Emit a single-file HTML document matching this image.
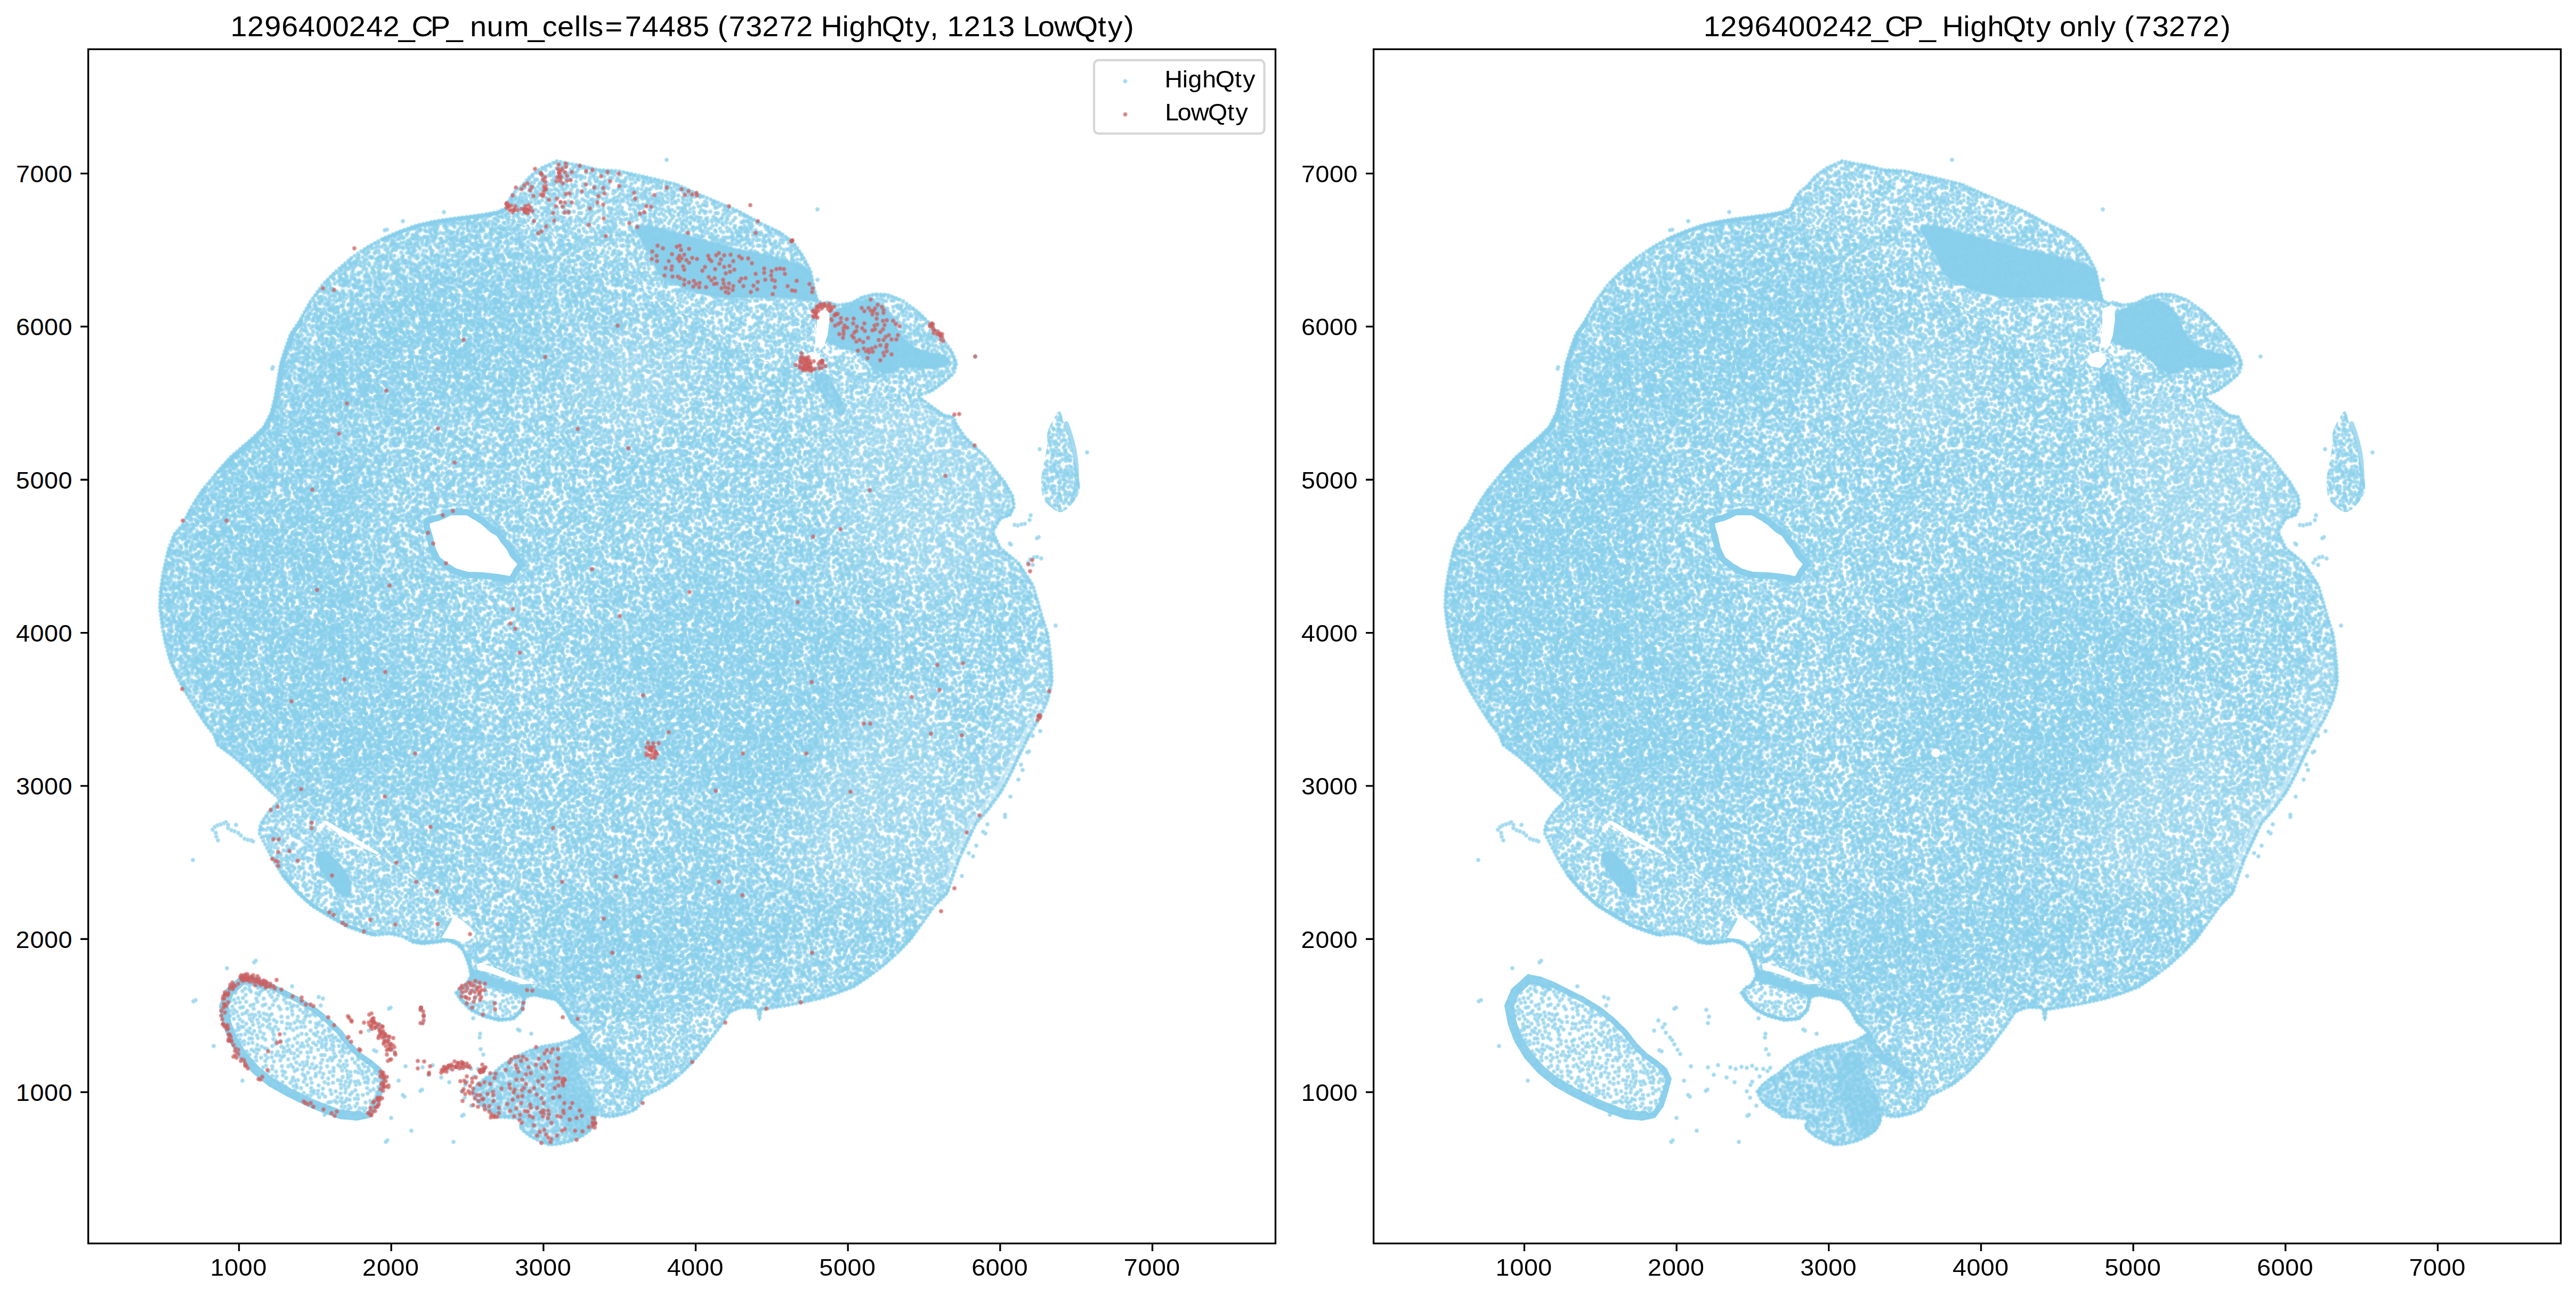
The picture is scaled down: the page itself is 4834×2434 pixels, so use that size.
<!DOCTYPE html>
<html><head><meta charset="utf-8"><title>1296400242_CP_ cells</title>
<style>html,body{margin:0;padding:0;background:#fff}svg{display:block}text{font-family:"Liberation Sans",sans-serif;fill:#000}</style></head><body>
<svg xmlns="http://www.w3.org/2000/svg" width="4834" height="2434" viewBox="0 0 4834 2434">
<defs>
<path id="pn0" d="M496 -3h0m-24 1h0m-88 0h0m-10-2h0m-25 2h0m-38-3h0m-3 1h0m-10 3h0m-99 1h0m-133-2h0m-24-2h0m-33 3h0m-11 8h0m7 10h0m7-5h0m22 2h0m6 5h0m11-3h0m0-6h0m2 3h0m17 5h0m10-14h0m4 16h0m12-8h0m4 2h0m4 1h0m4-9h0m7-3h0m18 12h0m0-14h0m6 8h0m6 5h0m31 3h0m8-4h0m13-5h0m4 4h0m19 4h0m12-4h0m1-3h0m5 11h0m2-12h0m6 1h0m20 13h0m3-16h0m3 2h0m7 9h0m24 2h0m15-1h0m19-2h0m21-11h0m3-4h0m31 11h0m0 10h0m3-1h0m1-4h0m6-11h0m11 16h0m3-4h0m7-4h0m20 5h0m10-16h0m1 13h0m15 2h0m3-6h0m1 9h0m7-11h0m5-9h0m5 15h0m20-9h0m7 10h0m-2 12h0m-25-1h0m-11 18h0m-3-1h0m-5-2h0m-6-16h0m-13 17h0m-18-3h0m-7 4h0m-3-11h0m-6-4h0m0 10h0m-11 5h0m0-3h0m-15 6h0m-17-14h0m-6 12h0m-6-6h0m0-3h0m-3 2h0m-10-13h0m-14 15h0m0-12h0m-9 0h0m-1 10h0m-1 8h0m-6-14h0m-25 6h0m-11-10h0m-2 7h0m-3 12h0m-6-4h0m-8-17h0m-10 20h0m-1-17h0m-18 8h0m-37-7h0m-16 1h0m-5 0h0m-11-5h0m-5 1h0m-6 16h0m-2-16h0m-4 13h0m-17-3h0m-32-10h0m-4 3h0m-9 0h0m-5 11h0m-19-11h0m-7 13h0m-6-7h0m-10 0h0m-6-12h0m-31 4h0m-2 32h0m5-10h0m31-2h0m3 11h0m3-2h0m1 5h0m3 6h0m1-5h0m2-11h0m7 9h0m4-6h0m5 2h0m12 9h0m7 4h0m1-2h0m7-18h0m14 2h0m1 11h0m12 0h0m31-6h0m15 12h0m3-3h0m16-8h0m18 13h0m1-7h0m17 7h0m4-16h0m2 15h0m31-15h0m5-7h0m4 6h0m15 1h0m6 10h0m3-15h0m8 12h0m13-6h0m13 15h0m10-3h0m8-19h0m14 3h0m6 8h0m2-3h0m3 14h0m25-14h0m2-5h0m1 9h0m25 4h0m0-16h0m4 3h0m4 10h0m8 9h0m12-13h0m2-5h0m0 3h0m3 10h0m12-13h0m7 4h0m5-7h0m7 8h0m1-10h0m5 4h0m7 0h0m1 8h0m3-9h0m4 1h0m0 12h0m7-4h0m3 34h0m-8-6h0m-32 0h0m-10-11h0m-2 15h0m-3-13h0m-40 0h0m-4-5h0m-9 20h0m-9 1h0m-10-15h0m-4 4h0m-15-9h0m-8 1h0m-10 14h0m-23 0h0m-13 1h0m-8-12h0m-24 12h0m-3-1h0m-6-16h0m-6-1h0m0 6h0m-27 15h0m-2-18h0m-4 3h0m-7 8h0m-3-13h0m-9 9h0m-15 8h0m-5-14h0m-10 16h0m-17-20h0m-11 3h0m-14-5h0m-3 21h0m-4-13h0m-2-2h0m-4 13h0m-1-12h0m-9 10h0m-3-13h0m-25 19h0m-26-19h0m-31 9h0m-2 6h0m-3-11h0m-6-7h0m-2 16h0m-20 6h0m-8-6h0m7 19h0m19 10h0m5-6h0m1-11h0m26 3h0m6 3h0m1-3h0m31 15h0m3-14h0m7 6h0m10-15h0m0 16h0m1-7h0m5 9h0m1-12h0m2-4h0m3-1h0m4 22h0m4-20h0m9 1h0m5 11h0m12-12h0m3 18h0m21-8h0m9 2h0m13 1h0m1-13h0m20 4h0m8 16h0m2-21h0m9-1h0m12 18h0m4-4h0m6-9h0m8 2h0m1 13h0m2-9h0m4-11h0m9 3h0m4 11h0m6-14h0m6 19h0m14-4h0m2-6h0m18 13h0m10-6h0m30 6h0m15-12h0m0-10h0m16 4h0m10 12h0m3 4h0m14-15h0m5 17h0m8-19h0m5 4h0m0-8h0m7 10h0m8 4h0m9-11h0m35 9h0m1 27h0m-12 8h0m-2-17h0m-2 17h0m-12-20h0m-4 18h0m-21-7h0m-8-3h0m-3-5h0m0-5h0m-17 5h0m0 12h0m-6 3h0m-7-14h0m-2 13h0m-1-20h0m-9 5h0m-13 14h0m-8-2h0m-23-4h0m-2 10h0m-15-18h0m-18-1h0m-1 3h0m-2 4h0m-4 12h0m-1-15h0m-1 3h0m-11-1h0m-7 13h0m-2-12h0m-12 7h0m-1-14h0m-3 17h0m-1-9h0m-8-3h0m-3 0h0m-22 0h0m-13 13h0m-9-18h0m-8-2h0m-21 13h0m-3-6h0m-2 10h0m-14-9h0m-10-1h0m-15 9h0m-27-16h0m-15 9h0m-1 11h0m-1-19h0m-2 9h0m-5 6h0m-6-14h0m-20 7h0m-1 12h0m-15-2h0m-7-16h0m-8 4h0m-12-5h0m-4 6h0m-15 14h0m-7-21h0m-7 12h0m5 30h0m8-2h0m4-2h0m1-9h0m2 6h0m14-4h0m16 5h0m4-9h0m9 6h0m8-1h0m15 4h0m1 2h0m3-12h0m3 13h0m0 6h0m9-6h0m1-6h0m2-2h0m3-5h0m4 17h0m8-18h0m76 1h0m10 8h0m8-8h0m11-4h0m13 0h0m19 18h0m0-15h0m6 9h0m10-10h0m5-2h0m5 17h0m18-11h0m12 7h0m19-8h0m5 14h0m2-10h0m2-7h0m9 3h0m5 0h0m1 3h0m7 5h0m13 6h0m6-4h0m5-16h0m23 6h0m7 17h0m4-21h0m4 17h0m13-13h0m11 10h0m3-3h0m22-5h0m0-7h0m15-1h0m7 2h0m16 23h0m-12 4h0m-19 4h0m-7 8h0m-13-9h0m-3-6h0m-5 16h0m-1-11h0m-1 4h0m-3-9h0m-3 10h0m-6-12h0m-12 11h0m-24 10h0m-10-6h0m-15-2h0m-13-3h0m-20-5h0m-11 3h0m0 8h0m-10-7h0m-7 1h0m-14 3h0m-36-6h0m-5 0h0m-7-6h0m-1 18h0m-2 4h0m-11-15h0m-10-4h0m-10 5h0m-20 9h0m0 4h0m-17-7h0m-1-7h0m-2 3h0m-20 12h0m-8-14h0m-19-9h0m-2 5h0m-10-2h0m-3-1h0m0 13h0m-8 1h0m-10-13h0m-16 6h0m-1 13h0m-11-13h0m-1 3h0m0-9h0m-11 17h0m-10-9h0m-51-10h0m-8 40h0m7-13h0m13 14h0m15-15h0m3 18h0m17-19h0m0 3h0m1 4h0m21 7h0m5-9h0m2 7h0m0 5h0m5-12h0m32-7h0m8 9h0m17 11h0m12-10h0m2-3h0m2-5h0m3 12h0m0-4h0m5 11h0m2-21h0m12 10h0m0 7h0m0 3h0m12-4h0m11-3h0m10 4h0m7-13h0m6 2h0m3-4h0m1 6h0m3 8h0m6-11h0m3 4h0m4-8h0m21 2h0m2 17h0m2 3h0m12-9h0m10 1h0m1-12h0m16 5h0m28 13h0m16-5h0m9-2h0m6 2h0m23-11h0m6-2h0m6 1h0m4-2h0m6 19h0m11-2h0m2-18h0m3 18h0m22-5h0m3 0h0m6-11h0m4 19h0m7-22h0m15 20h0m1-6h0m3 8h0m10-9h0m2 9h0m5-5h0m7-13h0m-11 22h0m-10 10h0m0-8h0m-3 10h0m-28 4h0m-2-11h0m-1-6h0m-10 6h0m-3 2h0m-3 7h0m-16-9h0m-11 0h0m-11-2h0m-1-4h0m-2 19h0m-5-4h0m-4 4h0m-24-6h0m-4-6h0m-4 3h0m-7 0h0m-7 2h0m0-10h0m-12 16h0m-13-7h0m-3-11h0m-13 3h0m-1 16h0m0-4h0m-18-11h0m-2 2h0m-31 0h0m-6 13h0m-18-9h0m-3-3h0m-5 5h0m-22 4h0m-4 4h0m-1-7h0m-2 7h0m-10-14h0m-12-5h0m-5 0h0m-1 8h0m-7-1h0m0 4h0m-14-11h0m-13 12h0m-10 8h0m-2-21h0m0 20h0m-3-5h0m-2-14h0m-14 6h0m-4 14h0m-11-15h0m-12-1h0m-34-1h0m-6 5h0m-23 6h0m-12 26h0m17-8h0m0 8h0m3 6h0m12-2h0m6-21h0m1 6h0m3 0h0m8 11h0m2-10h0m47 10h0m3-15h0m11 14h0m10-5h0m3-2h0m13 0h0m0 4h0m21-9h0m7 13h0m11-18h0m18 3h0m8 19h0m16-6h0m6-3h0m1-10h0m3 4h0m7-4h0m19 8h0m15 5h0m12-1h0m3-12h0m7 4h0m4 10h0m13 3h0m12-15h0m8 5h0m9-5h0m2-5h0m11 2h0m10 15h0m29 7h0m5-21h0m8 15h0m15-10h0m8-6h0m7 8h0m2-3h0m5 16h0m1-2h0m7-3h0m2 4h0m7-10h0m2-10h0m12-1h0m4 0h0m2 3h0m1 14h0m8-14h0m5 13h0m6 0h0m14 1h0m-6 30h0m-21-10h0m-5-2h0m-10-8h0m-5 2h0m-3 10h0m-19 4h0m-8-2h0m-11-13h0m-43-2h0m-13 3h0m-23 16h0m-7-18h0m-14 15h0m-19-14h0m-27-4h0m-27 5h0m-21-3h0m-9 10h0m-5 0h0m-3 2h0m-23 9h0m-4-22h0m-9 2h0m-2 1h0m-21-2h0m-16 0h0m-6-2h0m-2 2h0m-5-1h0m-1 3h0m-8 8h0m-5-1h0m-12 11h0m-6-3h0m-1 4h0m-3-18h0m-7 1h0m-7 2h0m-2-2h0m-5 6h0m-19 6h0m-8-16h0m-1 8h0m-26-8h0m-3 2h0m-4 8h0m-8 26h0m3-10h0m3 17h0m1-12h0m7-3h0m18 3h0m3-1h0m27 12h0m8-1h0m7 1h0m2-6h0m14 7h0m4-17h0m7 3h0m8 14h0m2-16h0m14 0h0m10 3h0m3 15h0m2-4h0m2-2h0m9 1h0m20-3h0m20-2h0m12-3h0m1 7h0m19-9h0m10 6h0m4-9h0m1 18h0m16-14h0m12 3h0m1 9h0m5-16h0m30 3h0m1 10h0m6 1h0m14-17h0m6 15h0m5-7h0m21 5h0m8 6h0m10-8h0m4-8h0m4 8h0m15 6h0m3-17h0m19-3h0m10 16h0m0-8h0m3 15h0m1-14h0m21-8h0m4 19h0m16 4h0m7-23h0m15 2h0m10 6h0m4 6h0m3-10h0m3 17h0m1-12h0m-1 15h0m-17-1h0m-7 9h0m-1 15h0m-3 0h0m-2-18h0m-15-2h0m-4 9h0m-5-5h0m-5-6h0m-3-1h0m-3 1h0m-8 10h0m-6-2h0m0-7h0m-2 16h0m-21-13h0m0 5h0m-18-3h0m-14 10h0m-4-15h0m-14 4h0m-4 17h0m-19-15h0m-10 1h0m-2 12h0m-24 1h0m-10-23h0m-5 14h0m-9-2h0m-20 11h0m-2-9h0m-5-7h0m-3 5h0m-3 8h0m-21 3h0m-16-8h0m-39 1h0m-8-8h0m-14 3h0m-5 7h0m-8-9h0m-1 4h0m-1-5h0m-16 16h0m-10-20h0m-3-2h0m-29 7h0m-12 15h0m-10-19h0m0 19h0m-5-4h0m-3-18h0m-3 10h0m-3 10h0m-1-16h0m-2-2h0m-10 18h0m-10-3h0m-4-4h0m-6-9h0m-1 7h0m-3-12h0m15 43h0m5 2h0m25-14h0m21-6h0m15 21h0m1-18h0m13-3h0m3 16h0m5-2h0m9-5h0m14-11h0m3 2h0m6 10h0m8-9h0m9 0h0m17 17h0m10-3h0m10-7h0m8 12h0m1-14h0m6 9h0m2-6h0m1-3h0m6-6h0m12 21h0m6-5h0m17-16h0m3 2h0m5 2h0m0 16h0m7-3h0m16-18h0m8 6h0m0 16h0m3 1h0m12-7h0m5 0h0m24-14h0m1 11h0m17-2h0m2-5h0m8 0h0m3-2h0m6 10h0m3-1h0m38 0h0m2 8h0m1-15h0m14-4h0m25 10h0m17 5h0m4-9h0m17 7h0m11-6h0m9 38h0m0-13h0m-3 1h0m-1-12h0m-2 6h0m-12 1h0m-16 2h0m-19 12h0m-1-12h0m-4 13h0m-23-21h0m-5 1h0m-5 19h0m-4-1h0m-6-17h0m-7 3h0m-7-4h0m-12 18h0m-10-2h0m-17-2h0m-5 4h0m-22-7h0m-1-11h0m-31 13h0m-8-4h0m-1-8h0m-9 14h0m-4-12h0m-10-2h0m-3 17h0m-7-9h0m-6-3h0m-5 13h0m-6 0h0m-3-2h0m-1-5h0m-13-1h0m-7-2h0m-5-4h0m-13 4h0m-6 3h0m0-8h0m-1 11h0m-23-15h0m-6 9h0m-3-6h0m-4-3h0m-18 20h0m0-15h0m-3 8h0m-3-9h0m-16-4h0m-2 13h0m-15-4h0m-1 11h0m-3-14h0m-3 13h0m-8-1h0m-7 3h0m-21-6h0m-1-7h0m-3 13h0m-16-18h0m-16 12h0m-13-6h0m-6 13h0m0-13h0m-3 1h0m-1-12h0m-2 6h0m24 20h0m4 7h0m20 10h0m9-1h0m6 5h0m33-17h0m1 4h0m15-8h0m3 16h0m22 1h0m4-13h0m1-5h0m9 1h0m11 20h0m1-16h0m20 9h0m3-4h0m4-9h0m3 14h0m6 2h0m5-12h0m4 6h0m1 2h0m18-7h0m3 8h0m4-7h0m2-4h0m7 13h0m2-7h0m6-7h0m2 8h0m28 1h0m17 4h0m36 1h0m3-6h0m0 6h0m6-11h0m1 8h0m9-4h0m28 14h0m6-24h0m11 10h0m9 13h0m1-10h0m16-6h0m0 7h0m5-13h0m2 9h0m27 6h0m10 2h0m8-4h0m10 4h0m1-6h0m4 8h0m20-4h0m-6 19h0m-5 9h0m-8-15h0m-25 16h0m-1-3h0m-7 5h0m-4-11h0m-9 9h0m-1-3h0m-2 4h0m-15-15h0m-5 5h0m-3-2h0m-3-2h0m-6 0h0m-15 11h0m-7-18h0m-16 9h0m-3 9h0m-18-8h0m-6 7h0m-21-11h0m-12 15h0m-2-5h0m-6-9h0m-6 2h0m-2 5h0m-6 2h0m-8-4h0m0 9h0m-6-15h0m-23 11h0m-4-13h0m-1 19h0m-2-4h0m-35 1h0m-25-6h0m-2-3h0m-4 12h0m-10-12h0m-3 1h0m-2-9h0m-9 1h0m-1 18h0m-2-22h0m-16 2h0m-5 18h0m-6-4h0m-8-7h0m-5-8h0m-17 8h0m-9 11h0m-5-7h0m0 5h0m-13-7h0m-3 7h0m-6 1h0m-18 3h0m-9-21h0m-10 19h0m-11-5h0m-7 24h0m1-12h0m3 17h0m5 1h0m7-19h0m18 8h0m8 5h0m2-6h0m1 12h0m3-11h0m1-10h0m7 11h0m6-3h0m2 12h0m5-18h0m0 6h0m5-7h0m1 17h0m1-13h0m13-2h0m15-2h0m7 13h0m6 2h0m15 3h0m14-10h0m4 10h0m6 1h0m1-6h0m19 4h0m5-15h0m0 16h0m8-3h0m1-3h0m16-2h0m9 7h0m8 3h0m13-20h0m6 12h0m15 7h0m8-4h0m6-6h0m0 13h0m17-10h0m3 5h0m2 4h0m4-4h0m0-6h0m18 3h0m2 7h0m15-7h0m2-9h0m1 6h0m4 3h0m29-14h0m0 18h0m1-12h0m4 2h0m6 6h0m3-12h0m3 4h0m3 11h0m1-17h0m10 7h0m7 14h0m2-11h0m0-7h0m10 11h0m6-11h0m3 8h0m21 1h0m7 2h0m13 2h0m17-16h0m8 13h0m3-14h0m8 19h0m8-4h0m1-12h0m3 17h0m-8 11h0m-3 6h0m-4-7h0m-7 13h0m-5-14h0m-15 10h0m-8-15h0m-28 19h0m-3-6h0m-17-6h0m-3 14h0m-9-10h0m-29 8h0m-28-2h0m-11-7h0m-1 13h0m-2-21h0m-20 14h0m-17 5h0m-11-7h0m-4 8h0m-1-8h0m-2 8h0m-26-10h0m-3 5h0m-16-15h0m-9-2h0m-6 20h0m-4-2h0m-19-19h0m-39 9h0m-17 9h0m-4-13h0m-3 6h0m-3 6h0m-5 0h0m-5-8h0m-6-1h0m-14 8h0m-5 0h0m-2-13h0m-13 21h0m-4-7h0m-2-15h0m-3 22h0m-6-14h0m-12-7h0m-6 18h0m-4-11h0m-2-7h0m-2 15h0m-9 4h0m-1-17h0m-11 9h0m-3 9h0m-20-15h0m-2 38h0m4-8h0m1 3h0m5-8h0m6-2h0m2-4h0m9-1h0m16 21h0m4-11h0m12-1h0m2 6h0m3-16h0m25 17h0m9 4h0m2-15h0m17 10h0m16-13h0m9 17h0m2-15h0m7-3h0m7 8h0m3 7h0m1-9h0m1-3h0m46-5h0m6 21h0m2 1h0m1-20h0m3 8h0m5-5h0m7-6h0m5 11h0m15 1h0m11 2h0m13-10h0m11 8h0m4-11h0m5 21h0m4-13h0m3 5h0m13-11h0m5-2h0m3 13h0m3-7h0m2 16h0m3-12h0m16-10h0m37 6h0m13 0h0m13 5h0m3 7h0m13-6h0m30-7h0m34-4h0m14 0h0m6 20h0m4-8h0m1 3h0m5-8h0m-21 20h0m-11 4h0m-13-3h0m-4-5h0m-15 10h0m-69-5h0m-10-2h0m-13 5h0m-12-3h0m-16-4h0m-22 1h0m-3 1h0m-10 3h0m-75-6h0m-24 7h0m-66 1h0m-18 2h0m-34-10h0m-1 11h0m-14-6h0m-24-2h0m-3-2h0m-30 5h0"/>
<path id="pn1" d="M495 0h0m-15-1h0m-105-1h0m-27-2h0m-46 1h0m-27 3h0m-14-4h0m-95 3h0m-16-4h0m-28 5h0m-96 0h0m-17 14h0m3 8h0m1-20h0m1 13h0m4-5h0m4 5h0m6-7h0m1 3h0m3 1h0m11 10h0m5-13h0m13 7h0m8-13h0m13 13h0m0-8h0m45 3h0m8 3h0m7 4h0m14 0h0m0-3h0m5-12h0m10 13h0m21 3h0m14-16h0m2-2h0m2 1h0m6 1h0m18 12h0m11-3h0m14 0h0m24 10h0m4 1h0m21-8h0m2-3h0m1-11h0m4 1h0m0 11h0m3-5h0m6-7h0m14 0h0m13 13h0m7-4h0m2 8h0m5 0h0m5 1h0m2-4h0m17 3h0m19-17h0m15 22h0m3-17h0m1 6h0m24 4h0m2 5h0m5-3h0m2-1h0m0-8h0m2-4h0m9-3h0m0 3h0m6 8h0m4-8h0m1 14h0m16-15h0m14 23h0m-2 9h0m-3 1h0m-9-12h0m-19 13h0m-9 9h0m-15-12h0m-2-6h0m-3 9h0m-12 10h0m-20-11h0m-11-3h0m-17-6h0m-9 12h0m-24-12h0m-10-3h0m-6 5h0m0 16h0m-21-4h0m-3 1h0m-7 1h0m-12-18h0m-13 4h0m-16 15h0m-4-1h0m-18-19h0m-8 9h0m-14 2h0m-4 7h0m-12-14h0m-7 0h0m-2 12h0m-4-5h0m-1-10h0m-1 19h0m-3-14h0m-11 0h0m-16 11h0m-44-4h0m-7 5h0m-6-11h0m-3 4h0m-36 8h0m-2-14h0m-7-2h0m-11 5h0m-4 0h0m-32-1h0m-5-3h0m-2-3h0m-5 1h0m-2 9h0m-3 1h0m8 27h0m5-10h0m4-3h0m3 2h0m40 3h0m2 3h0m20-6h0m25 8h0m7 7h0m4 1h0m13-18h0m7 4h0m0 15h0m14-17h0m6-1h0m4 1h0m8 1h0m18 15h0m14 0h0m14-5h0m1 7h0m10-22h0m4 13h0m3-2h0m3 9h0m2-3h0m4-9h0m9-3h0m12 7h0m0 9h0m3-18h0m20 13h0m8-5h0m13 12h0m2-16h0m11 13h0m7-19h0m5 20h0m25-1h0m1-6h0m13 1h0m5-5h0m11 7h0m13 3h0m1-18h0m18 12h0m1-4h0m1-3h0m5-3h0m11 2h0m3-1h0m79 10h0m-4 10h0m-39 19h0m-1-15h0m-19 11h0m-3-11h0m-4 16h0m-2-2h0m-18-11h0m-12-5h0m-16 13h0m-44 0h0m-11-1h0m-1-13h0m-7 5h0m-3 10h0m-12-8h0m-8 1h0m0 9h0m-4 0h0m-15-13h0m-1 15h0m-3-7h0m-4 0h0m-8 7h0m-12-3h0m-2-9h0m0-9h0m-7 20h0m-11-15h0m-19 17h0m-11-2h0m-2-7h0m-8 2h0m-5-15h0m-32 14h0m-8-1h0m-1 9h0m-11-21h0m-11 20h0m-7-10h0m0 7h0m-1-4h0m-13 7h0m-5-9h0m-3 5h0m0-9h0m-8 5h0m-16-4h0m-15 4h0m-1-3h0m-5 1h0m-15 8h0m-35-5h0m0 4h0m-1 5h0m-12-22h0m2 29h0m2 9h0m0-14h0m5 4h0m0 7h0m37-13h0m22 20h0m15-18h0m3 7h0m24 10h0m21-13h0m6 7h0m1-8h0m5 7h0m16-3h0m1-4h0m5 19h0m3-13h0m11 0h0m9 7h0m13-13h0m12 12h0m2 6h0m14-2h0m12-20h0m12 10h0m2 4h0m10 7h0m20-8h0m4-7h0m11 12h0m1 3h0m13 1h0m12-16h0m3 8h0m2 5h0m1 4h0m1-6h0m2 2h0m10-16h0m1 4h0m3 11h0m10 3h0m3-13h0m1 4h0m21-4h0m9-8h0m5 22h0m22-16h0m3-1h0m10-2h0m39 3h0m7-1h0m1 3h0m6-2h0m3 2h0m5-8h0m20 6h0m2 9h0m0-14h0m-1 40h0m-22-6h0m-14-5h0m-5-5h0m-26 3h0m-6 2h0m-9 11h0m-2-15h0m-1 21h0m-1-11h0m-4-1h0m-20-4h0m-19 9h0m-6 4h0m-7-19h0m-2 11h0m-18-5h0m-2 2h0m-6 9h0m-4-9h0m-1 11h0m-4-7h0m-5 8h0m-5-9h0m-23-6h0m-20 7h0m-21-2h0m-5-7h0m-9 6h0m-7-8h0m-16 8h0m-6 5h0m-3-9h0m-2 16h0m-39-21h0m-6 14h0m-5-7h0m0 8h0m-7 7h0m-8-12h0m-13 11h0m-4-9h0m-14-7h0m-10 17h0m-5-8h0m-2-7h0m-7 5h0m0-5h0m-6 13h0m-21 1h0m-16-12h0m-1-11h0m0 20h0m-4-9h0m-1 13h0m-6-10h0m-3-9h0m-1 14h0m-6-15h0m-14 0h0m-12 14h0m-3 25h0m14-6h0m18 7h0m10 1h0m2-13h0m6 14h0m10-7h0m5 4h0m5-14h0m10 13h0m12-15h0m4 0h0m16 14h0m16-9h0m2 8h0m4-14h0m0 5h0m26 4h0m3 4h0m2-4h0m0 11h0m6 1h0m6-12h0m1 12h0m5-10h0m7-1h0m8 0h0m4-2h0m62-4h0m10 8h0m5 4h0m2-1h0m19-2h0m8 4h0m11-16h0m3 8h0m12 4h0m6 3h0m4-4h0m8 1h0m5-13h0m8 18h0m8 0h0m3-9h0m10-8h0m9 11h0m1 5h0m1 5h0m5-3h0m6-1h0m12-11h0m10 8h0m9-3h0m8-3h0m15 1h0m6 9h0m5 0h0m13-15h0m12-2h0m14 15h0m4 9h0m-8 19h0m-12-10h0m-19 7h0m-30-20h0m-10 14h0m-11-2h0m-2-5h0m-3 3h0m-3-4h0m-11-2h0m-7 4h0m-3 15h0m-2 0h0m-9-10h0m-2 9h0m-19-18h0m-8 9h0m-3 2h0m-1 6h0m-7 2h0m-7-19h0m-8 10h0m-1-3h0m-1-9h0m-1 15h0m-7-16h0m-16 17h0m-16 0h0m-7-7h0m-3-1h0m-3 1h0m-7 4h0m-14-14h0m-3 8h0m-23 7h0m-7-16h0m-8 11h0m-4-8h0m-17 2h0m-1 12h0m-1-10h0m-15 7h0m-8 7h0m-5-20h0m-5 1h0m0 14h0m-5-12h0m-5 18h0m-1-20h0m0 11h0m-14-8h0m-7 18h0m-17-16h0m-9 11h0m-2-5h0m-2 3h0m-2-5h0m-21-8h0m0-2h0m-17 18h0m-15-13h0m-7 18h0m-1-16h0m-8 8h0m0 8h0m-4-16h0m-2-3h0m-6 18h0m-1-16h0m-8-3h0m-5 31h0m2 4h0m1-4h0m6-4h0m7 14h0m14-16h0m13 1h0m0 16h0m3-1h0m8 0h0m6-6h0m3-8h0m18-6h0m3 9h0m2 6h0m3-14h0m4 3h0m16-3h0m0 8h0m5-10h0m2 5h0m4 5h0m5 13h0m2-8h0m13 0h0m34-12h0m1 15h0m10-9h0m2 11h0m11-7h0m1 6h0m6-19h0m6 16h0m8 6h0m6-9h0m0 2h0m8 7h0m9-7h0m6 2h0m4 6h0m0-3h0m3 2h0m40 0h0m6-18h0m6-4h0m0 23h0m6-3h0m21-17h0m18 13h0m17 7h0m9-14h0m2-4h0m10 18h0m3-9h0m12 8h0m0-16h0m9-2h0m2 4h0m3 3h0m5 6h0m4-11h0m12 4h0m2 3h0m14-6h0m13-2h0m33 15h0m10-9h0m2 4h0m1-4h0m-25 17h0m0 17h0m-8-2h0m-9-1h0m-5-12h0m-5 4h0m-15 3h0m-10 5h0m-2-4h0m-1 4h0m-26-2h0m-25 3h0m-8 0h0m-3-15h0m0 19h0m-18-1h0m-8-9h0m-18-13h0m-8 14h0m-15-8h0m-26 4h0m-18-1h0m-17-6h0m-9 8h0m-5 4h0m-1-13h0m-24-1h0m-16 23h0m-5 0h0m-7-11h0m-10 1h0m-14 4h0m-10-11h0m0 3h0m-3 13h0m-3-11h0m-30 9h0m-6-10h0m-11 3h0m-6-6h0m-1 5h0m-4-4h0m-2 6h0m-6 6h0m0-18h0m-11-1h0m-8 3h0m-3 18h0m-10-9h0m-7-2h0m-2-10h0m0 14h0m-16-4h0m0-9h0m-16 33h0m17-11h0m7 13h0m16 8h0m9 0h0m3-7h0m1-4h0m18 3h0m2-3h0m5-6h0m33-3h0m3 6h0m3-2h0m5 5h0m2-1h0m2 7h0m4-13h0m8 13h0m5-8h0m1 11h0m6 4h0m11-16h0m9 7h0m1-12h0m1 6h0m5 2h0m6-4h0m8 8h0m1 7h0m33-7h0m2 8h0m7-3h0m4-13h0m5 4h0m37 9h0m1-12h0m2 11h0m1-6h0m3-5h0m0 14h0m1-13h0m10-2h0m6-1h0m7 3h0m3 13h0m6-1h0m1-6h0m28-13h0m7 10h0m5 12h0m1-12h0m13 9h0m4-9h0m4 8h0m0-12h0m1 8h0m1-14h0m7 5h0m2-7h0m9 20h0m5-5h0m2-6h0m7 8h0m2-12h0m15 1h0m42 1h0m5 5h0m22 2h0m9-2h0m6 29h0m-12-6h0m-8 9h0m-22 1h0m-14 2h0m-7-4h0m-40 3h0m-5-21h0m-13 13h0m-8-2h0m0-4h0m-1-7h0m-1 20h0m-16-8h0m-23-12h0m-11 22h0m-6-15h0m-2-8h0m-10 6h0m-12 14h0m-3-12h0m-2 11h0m-8-18h0m-23 18h0m-3-13h0m-13 9h0m-5-7h0m-5 1h0m-5-1h0m-6 8h0m-15 5h0m-3-20h0m-1 5h0m-12 14h0m-4-10h0m-5 1h0m-3-10h0m-19 20h0m-6 1h0m-9-6h0m-18-3h0m-22 3h0m-15-8h0m-4-3h0m-1 13h0m-9-11h0m-13 10h0m-29-1h0m-4 8h0m-5-2h0m-24-10h0m-1 8h0m-6-3h0m12 8h0m24 11h0m5 10h0m5-16h0m0 3h0m19-7h0m0 10h0m4-11h0m6 16h0m4-6h0m13 4h0m6-2h0m16-1h0m0 9h0m19 2h0m14-9h0m2-12h0m2 10h0m5-2h0m2 7h0m13-10h0m13 2h0m15 10h0m25 4h0m4-13h0m1-4h0m6 4h0m5 2h0m1 6h0m13-15h0m17 19h0m7-5h0m0-6h0m18 3h0m14 1h0m3-14h0m2 4h0m27 15h0m5 4h0m13-17h0m33-5h0m8 4h0m17 3h0m12 4h0m3-4h0m42 9h0m4 5h0m2-18h0m3 2h0m19 8h0m-2 32h0m-3-13h0m-4 2h0m-1 11h0m-19-19h0m-12 16h0m-7 3h0m-8-10h0m-7-4h0m-7 8h0m-1 6h0m-6-6h0m-9-8h0m-34 5h0m-3-4h0m-5-2h0m-2 5h0m-12-1h0m-1-11h0m-6 13h0m-16-13h0m-11 16h0m-5-6h0m-4-7h0m0 16h0m-8-11h0m-3 2h0m-7 13h0m-19-16h0m-4-7h0m-6 12h0m-17-8h0m-5 15h0m-9 3h0m-17-12h0m-5 1h0m-5 10h0m-14-13h0m-3 9h0m-4-4h0m-5 6h0m-1 3h0m-5-11h0m-26-9h0m-17 17h0m-17-19h0m-6-1h0m-3 17h0m-4 4h0m-23 2h0m-4-18h0m-9 7h0m-20 0h0m-7-4h0m-7-5h0m-7 5h0m-17 2h0m-1-6h0m-21 28h0m3-7h0m8 21h0m0-4h0m1-9h0m6 14h0m59 0h0m3-19h0m3 17h0m2-11h0m12 13h0m1-2h0m0-11h0m2-7h0m13 17h0m8-16h0m3-1h0m0 12h0m7-9h0m2 13h0m2-4h0m29 0h0m3 5h0m7-11h0m3-9h0m4 2h0m2 13h0m10-10h0m4 8h0m12 10h0m7-9h0m9-5h0m2-7h0m5 7h0m11 0h0m15 14h0m1-17h0m3 1h0m13 6h0m9-5h0m3-4h0m15 0h0m7 10h0m8-10h0m2 4h0m6 12h0m19-10h0m5 4h0m4 6h0m1-5h0m2-1h0m17-7h0m13 9h0m0-7h0m5-7h0m18 20h0m2-2h0m35-20h0m6 8h0m7 16h0m2-19h0m3-4h0m17 1h0m3 9h0m8-9h0m3 11h0m9 4h0m8-9h0m3-7h0m6 40h0m-2 2h0m-6 0h0m-12 4h0m-6-7h0m-2 6h0m-8 0h0m-11-15h0m-3 7h0m-9 2h0m-21 6h0m-6-8h0m-3-9h0m-3-1h0m-3 11h0m-15 0h0m-14-12h0m-13 12h0m-3-13h0m-3 2h0m-8-1h0m-4 1h0m-12-2h0m-32 0h0m-6 2h0m-1 16h0m0-5h0m-6 5h0m-12-13h0m-10 0h0m-1 13h0m-1-9h0m-4 11h0m-23-7h0m-11-14h0m-10 10h0m0-8h0m-14 19h0m-18-17h0m-4 10h0m-17-8h0m-1 9h0m-10-11h0m-2 2h0m-14-1h0m-2 6h0m-2 7h0m-1-2h0m-10-4h0m-8-6h0m-30 13h0m-3-6h0m-11 0h0m-12-13h0m-4 1h0m-4 11h0m-2 10h0m-4-11h0m-6 8h0m-15 0h0m-21 0h0m-13-3h0m-2 2h0m-6 0h0m4 21h0m5-8h0m1-7h0m12 12h0m0 3h0m9 6h0m0-14h0m5-3h0m6 17h0m13-17h0m20 14h0m8 0h0m20-10h0m1 3h0m6-1h0m4-9h0m1 6h0m11-1h0m7-4h0m15 15h0m8-13h0m3-2h0m6 18h0m3 0h0m16-5h0m3 8h0m3-12h0m9 1h0m1-13h0m25 19h0m5-14h0m7 6h0m3-5h0m36 11h0m14 3h0m6-16h0m27 14h0m32 2h0m4 2h0m0-21h0m4 16h0m5-6h0m6 10h0m7-6h0m5 7h0m20-16h0m4 13h0m8-10h0m0 7h0m4-5h0m14-8h0m1 6h0m21-2h0m0 16h0m16-15h0m6 2h0m2 8h0m17 0h0m17-2h0m5-8h0m-1 40h0m-15 0h0m-15-13h0m-12-10h0m-3 14h0m-4-3h0m-40 4h0m-18 8h0m-5-11h0m-6-3h0m-8 5h0m-5-3h0m-3 3h0m-18-3h0m-5-1h0m-2 2h0m-18 1h0m-15-8h0m-4-2h0m-3-1h0m0 8h0m-6 1h0m-4 1h0m-7-9h0m-2 2h0m-33 15h0m-3 0h0m-5 2h0m0-8h0m-1-3h0m-27 0h0m-6-5h0m-11 8h0m-10-13h0m-5 4h0m-9-1h0m-10 19h0m-15-5h0m-6-5h0m-15-10h0m-7 7h0m-20-4h0m-12 17h0m-1-24h0m-15 1h0m-2 22h0m-6-22h0m-11 17h0m-1-8h0m-5-9h0m-4 21h0m-5-22h0m-7 14h0m-3 9h0m-20-16h0m-2-6h0m-4-1h0m-4 22h0m-9 2h0m-5 15h0m7-1h0m3 0h0m2-13h0m15 17h0m8-17h0m3 8h0m1 3h0m2-6h0m15 8h0m1 8h0m3-20h0m31 13h0m7-13h0m0 17h0m4 3h0m12 1h0m3-18h0m19 3h0m11-2h0m20 18h0m2-19h0m16 3h0m0-4h0m2-2h0m21 0h0m4 18h0m12-3h0m14-6h0m23 4h0m2-6h0m9-6h0m18 19h0m1-3h0m9-9h0m7 4h0m2-6h0m6 8h0m16-2h0m9-10h0m3 7h0m4-7h0m9 15h0m10-5h0m1-4h0m16 4h0m13-13h0m12 6h0m2 9h0m13-10h0m3 6h0m0 9h0m4-16h0m3-5h0m7 19h0m18-10h0m5 0h0m2 7h0m1 5h0m2-16h0m1-4h0m0 10h0m6 2h0m17 5h0m13-5h0m7 2h0m-1 22h0m-3-12h0m-14 8h0m-21-6h0m-4 5h0m-2 15h0m-2-22h0m-7 0h0m-10-1h0m-4 16h0m-2-10h0m-19-2h0m-12 6h0m-2-5h0m-8 14h0m-1-6h0m-6-6h0m0-4h0m-8 14h0m-1-13h0m-23 11h0m-34 5h0m-19 2h0m-10-4h0m-2-7h0m-29 3h0m-17-9h0m0 3h0m-5 2h0m-4 8h0m-4-10h0m-6 5h0m-3 0h0m-3-9h0m-11 11h0m-3-3h0m-4 11h0m-23-17h0m-14 9h0m-7-6h0m-2-7h0m-13 7h0m-4 13h0m0-20h0m-1 3h0m-4 11h0m-13-9h0m-34-2h0m-3 12h0m-4-4h0m-4-5h0m-4-1h0m-16-5h0m-2 13h0m-13-8h0m-1 6h0m-22-4h0m-9-6h0m-16 10h0m4 21h0m5-5h0m0 15h0m12-9h0m24-9h0m1 4h0m18-4h0m11 15h0m3 5h0m6 0h0m3-16h0m8 12h0m31-10h0m3 6h0m1-4h0m11 14h0m4-10h0m5 6h0m8-8h0m5-12h0m24 4h0m1 19h0m7-9h0m8-12h0m1 16h0m4-12h0m9 12h0m28-15h0m4 7h0m8 4h0m1-4h0m4 11h0m0-4h0m4-1h0m2 8h0m0-24h0m8 20h0m1 3h0m1-10h0m7 2h0m3-12h0m3 2h0m0 17h0m36-3h0m15-8h0m6 2h0m6 10h0m16-13h0m2 11h0m7-13h0m2 8h0m2 4h0m3-3h0m12-8h0m3 12h0m8-2h0m12-17h0m1 9h0m12-8h0m11-1h0m9 16h0m5-15h0m27 4h0m3 1h0m4 14h0m1-18h0m6 1h0m2 6h0m2-6h0m12 5h0m-16 26h0m-3-4h0m-15-1h0m-5-6h0m-4 12h0m0-12h0m0 9h0m-9 3h0m-9-12h0m-25-1h0m-20 9h0m-28-6h0m-5 3h0m-27-2h0m-10 5h0m-14 0h0m-9 1h0m-4-1h0m-9-4h0m-27 3h0m-14-4h0m-25-3h0m-20 10h0m-6-1h0m-2-1h0m-2 2h0m-40-4h0m-5 4h0m-11-8h0m-8-2h0m-13 1h0m-7 6h0m-53 3h0m-37-10h0m-6 7h0m-13 2h0"/>
<path id="pn2" d="M503 0h0m-44-2h0m-11 0h0m-41 0h0m-38-1h0m-10-1h0m-89-1h0m-11 3h0m-24 0h0m-5 2h0m-42-5h0m-27 5h0m-25-4h0m-23 2h0m-31 0h0m-28 1h0m-21 0h0m-34 20h0m8-14h0m2 12h0m20-3h0m8-9h0m6 12h0m2 2h0m18 4h0m14-14h0m4 12h0m20 2h0m7-21h0m7 10h0m7 4h0m3-9h0m1 15h0m7-10h0m2 11h0m13-14h0m0-4h0m1-5h0m4 12h0m10 5h0m18-9h0m3 10h0m2-18h0m3 3h0m1 4h0m3 14h0m10-15h0m2 5h0m3-1h0m29 7h0m1-13h0m2 7h0m7 5h0m2-4h0m2 10h0m3 2h0m6-2h0m6-18h0m5 18h0m2 2h0m2-3h0m1-18h0m1 10h0m5-1h0m6-2h0m8-9h0m11 4h0m1-5h0m13 23h0m9-12h0m2 7h0m17-7h0m1-10h0m8 1h0m7 5h0m14 16h0m8-15h0m19 8h0m14-11h0m1 3h0m1 3h0m11 1h0m47-9h0m1 12h0m3-6h0m11-3h0m1 10h0m15 3h0m-6 27h0m0-5h0m-2 3h0m-9 0h0m-3-3h0m-11-15h0m-6 21h0m-10-8h0m-3-1h0m-2 4h0m-12 3h0m-23-7h0m-5-13h0m-9 11h0m-24 12h0m-5-13h0m-3 1h0m-3 11h0m-11-14h0m-6-9h0m-6 1h0m-19 3h0m0 15h0m-15-6h0m-3-5h0m-3 3h0m-9-10h0m-17 1h0m-10-2h0m-1 13h0m-15 0h0m-2-9h0m0-4h0m-6 12h0m-6 1h0m-2 4h0m-1-5h0m-18 2h0m-20-13h0m-20 14h0m-15-5h0m0-4h0m-6 5h0m-6 5h0m-4-16h0m-4 24h0m-38-14h0m-15 13h0m-5-2h0m-6-11h0m-6-2h0m-1-3h0m-3 9h0m-6 2h0m-8 3h0m-8-1h0m-14-8h0m0 11h0m-22-18h0m-9 12h0m-5 15h0m11 16h0m4-21h0m22 3h0m1 10h0m1-14h0m3 10h0m9-5h0m5 17h0m10-5h0m3 5h0m8-7h0m1 3h0m4-18h0m1 7h0m10 13h0m6-11h0m2 11h0m9-17h0m0 14h0m4-11h0m26 5h0m3 0h0m9 10h0m33-4h0m13-2h0m6-7h0m23-3h0m8 12h0m11-14h0m18 7h0m2 5h0m5-3h0m3-1h0m13 7h0m6 0h0m1-11h0m3-6h0m3 16h0m8-15h0m24 11h0m11 5h0m13-15h0m4 19h0m23-11h0m16 0h0m2 7h0m0-12h0m2 4h0m1 2h0m7 9h0m2-3h0m19-8h0m27 5h0m18-6h0m35-3h0m-6 36h0m-1-13h0m-12 9h0m-6-11h0m-7 12h0m-14 4h0m-6-10h0m0 3h0m-9-9h0m-9 13h0m-3-8h0m-20-7h0m-23 20h0m-8 2h0m-4-20h0m-1 18h0m-5-4h0m-3-7h0m-1-4h0m-21 15h0m-12-6h0m-13-11h0m-6 6h0m-1-7h0m-8-1h0m-14 9h0m-1 7h0m-19 4h0m-31-8h0m-10 4h0m-9-17h0m-28 1h0m-7 9h0m-7-4h0m-2 9h0m-1-10h0m-7 17h0m-9-18h0m-4 16h0m-2-20h0m-3 13h0m-1 10h0m-3-8h0m-3-11h0m-5 15h0m-9-16h0m-4-2h0m-3 13h0m-12-4h0m-13 10h0m-3 1h0m-15-18h0m-3 10h0m-6 1h0m-1 5h0m-4-14h0m-2 9h0m-14 3h0m-2 5h0m-5-14h0m-4 1h0m-2-3h0m-3-6h0m0 15h0m-1-4h0m-6-9h0m-24 16h0m0-13h0m-17 12h0m-1-13h0m8 42h0m22-13h0m3 13h0m4-16h0m5 4h0m12-9h0m9 0h0m8 0h0m6 19h0m2-7h0m9 7h0m8-15h0m12 12h0m2-11h0m5 5h0m10 8h0m6-5h0m4-5h0m1 6h0m5 2h0m4-10h0m3-5h0m11 13h0m17 4h0m4 2h0m9-14h0m2-3h0m3-2h0m0 9h0m13 9h0m12-1h0m16-7h0m8-8h0m37 1h0m18 14h0m7-11h0m12 1h0m2-4h0m3 3h0m6-6h0m14-2h0m2 13h0m6 9h0m13-4h0m5 2h0m2-13h0m7 3h0m8 12h0m1-6h0m8-13h0m17 16h0m10 2h0m0-10h0m24-2h0m32-6h0m13 16h0m15-11h0m15 14h0m-12 12h0m-21 5h0m-4 3h0m-2 2h0m-3 1h0m-4-1h0m-3-12h0m0 12h0m-2 3h0m-4-5h0m-2-8h0m-1 3h0m0 6h0m-26-20h0m-6 23h0m-23-13h0m-15-7h0m-3 9h0m-6-3h0m-25-1h0m-10 5h0m-19 3h0m-8-15h0m-5 19h0m-6 4h0m-10-20h0m-2-3h0m-17 3h0m-16 2h0m-4 11h0m-3-16h0m-13 18h0m-9-12h0m-6 8h0m-12 0h0m-4-3h0m-3-11h0m-2 17h0m-12-3h0m-2-13h0m-15 12h0m-7-14h0m-15 21h0m-8-16h0m-12-3h0m-11 16h0m-4 4h0m-7-3h0m-4-1h0m-7-11h0m-1 5h0m-4 1h0m-3-9h0m-7 2h0m-12 14h0m-8-12h0m-1 4h0m-4-5h0m0-3h0m-15 11h0m-1 6h0m-6 0h0m-23-7h0m-4-6h0m-17 20h0m5 17h0m12-17h0m2 11h0m43-14h0m2 19h0m2-10h0m1 2h0m11 4h0m10-11h0m3 18h0m3-4h0m5-10h0m4 4h0m18-6h0m0-3h0m2 11h0m2-5h0m1 3h0m18 2h0m5 0h0m1 7h0m12-4h0m0-13h0m11-4h0m0 17h0m5-2h0m12-12h0m12-4h0m3 23h0m0-16h0m1 13h0m4-8h0m5-5h0m15 2h0m3-2h0m9-3h0m10-1h0m8 20h0m6-10h0m8 10h0m8-8h0m45 2h0m18-14h0m9-2h0m1 10h0m19-3h0m8 15h0m9-14h0m5-5h0m15 10h0m45-7h0m13-3h0m14 19h0m19-23h0m2 7h0m4 17h0m4-20h0m5 17h0m-14 8h0m-5-2h0m-7 1h0m-23 1h0m-4 2h0m-1-7h0m-11 18h0m-2-5h0m-1-3h0m-1 6h0m-31-6h0m-17-7h0m-2 14h0m-7 6h0m-13-9h0m-13-11h0m-2 8h0m-8 13h0m-7-22h0m-1 18h0m-3-9h0m-17 10h0m-4-16h0m-7 12h0m-5-13h0m-29-2h0m-9 17h0m-6 0h0m-7-10h0m-12 15h0m-3-11h0m-3-2h0m-7-1h0m-1-6h0m-15 5h0m-14-2h0m-8 11h0m-11-8h0m-3 7h0m-4-16h0m-9 17h0m-18-10h0m-15-6h0m-4 18h0m-9-9h0m-6-4h0m-8 10h0m-7-11h0m-8 11h0m-13 4h0m-6 0h0m-7-14h0m-8-4h0m0 15h0m-3-17h0m-5 13h0m-12-3h0m-11-5h0m-5 13h0m-6 1h0m-9 1h0m-5 27h0m12-17h0m15 13h0m7-5h0m11 5h0m8-9h0m2-1h0m6 0h0m21 14h0m3-4h0m9-19h0m16 15h0m1-4h0m5-9h0m7 10h0m4-11h0m4 0h0m1 8h0m2 10h0m14-5h0m12-10h0m1 18h0m12-1h0m3-21h0m13 22h0m18-22h0m0 12h0m17 5h0m23 3h0m7-13h0m2 0h0m1 11h0m15 1h0m44-19h0m4 9h0m2 3h0m8-1h0m11 10h0m1-20h0m4 11h0m28 7h0m5-4h0m2 8h0m46-10h0m6-8h0m1 5h0m5-6h0m6-5h0m3 11h0m0 7h0m0 3h0m12-5h0m13-13h0m2 13h0m37 8h0m-2 2h0m-1 6h0m-1 10h0m-28-10h0m-2-5h0m-40 10h0m0-7h0m-12 9h0m-4 2h0m-6-6h0m-5-2h0m-2 4h0m-29-3h0m-16 3h0m-3-11h0m0 20h0m-1-4h0m-12-10h0m-10-7h0m-20 8h0m-5 9h0m-12-14h0m-20-4h0m-6 22h0m-10-1h0m-5-8h0m-5 9h0m-3-18h0m-5 2h0m-4 2h0m-2 10h0m-4-3h0m-4 8h0m-17-8h0m-7-2h0m-2 5h0m-9-4h0m-3-8h0m-12 13h0m-11-9h0m-26 7h0m-6-3h0m-12 0h0m-28 2h0m-4-12h0m-10 18h0m-4-4h0m-9 4h0m-3-5h0m-7-2h0m-17-8h0m-3-2h0m-7 15h0m-5-18h0m-15 1h0m-9 13h0m-1-9h0m-8-5h0m-1 6h0m-1 10h0m11 26h0m1-8h0m16-10h0m14 12h0m1 8h0m23-18h0m22 5h0m1 10h0m8-16h0m1 9h0m30-6h0m14 10h0m8 5h0m11-19h0m2 14h0m5-10h0m11 13h0m6 2h0m6-13h0m11 1h0m12 3h0m11-1h0m2 7h0m4-17h0m3 22h0m19-19h0m2 14h0m15 0h0m6-14h0m1 2h0m4-6h0m1 5h0m6 11h0m2-10h0m8 17h0m10-5h0m11-12h0m38 0h0m14-3h0m4 12h0m0-8h0m1 6h0m4 8h0m6 0h0m25-7h0m3-5h0m15 4h0m8-12h0m3 0h0m0 20h0m3-16h0m2 8h0m5-10h0m2 12h0m2-14h0m5 15h0m13-3h0m6 7h0m38 9h0m-7 1h0m-11 12h0m-1-3h0m-4 0h0m-2-8h0m-19 12h0m-9-15h0m-2 3h0m-2 9h0m-5-13h0m-3 10h0m-14-8h0m-7 17h0m-2-12h0m-7 7h0m-5-9h0m-7 4h0m-9 3h0m-5 0h0m-2-10h0m-2 19h0m-18-20h0m-4-3h0m-2 5h0m-1 14h0m-6-2h0m-3-11h0m-5-1h0m-22 15h0m-7-8h0m-5-12h0m-5 19h0m-3-12h0m-1 7h0m-3-2h0m-4-11h0m-10 6h0m-15 9h0m-15-7h0m-3 14h0m-7-23h0m-9 19h0m-4-6h0m-4-12h0m-19 17h0m-5-7h0m-4-6h0m-5 3h0m-16 13h0m0-10h0m0-3h0m-9-9h0m-21 20h0m-5-12h0m-5-7h0m-31 7h0m-10 0h0m-6 5h0m-7 2h0m-8-11h0m-3 5h0m0 12h0m-9-7h0m-13 4h0m-3-3h0m-19-6h0m-7-3h0m-3 13h0m-3-17h0m0 12h0m-4-1h0m-3-5h0m-7 1h0m-6-4h0m13 36h0m16-15h0m2 16h0m1 5h0m2-19h0m6 4h0m0 4h0m15-2h0m6 1h0m21 8h0m3-3h0m12-3h0m10-4h0m62 1h0m1-7h0m16 16h0m23-12h0m14-4h0m10 19h0m1-12h0m7-1h0m3 5h0m1-8h0m3 16h0m8 1h0m1-16h0m21 13h0m9-3h0m7 4h0m24-4h0m3-8h0m14 10h0m6-10h0m13-1h0m16 4h0m6-9h0m7 16h0m28-11h0m4-3h0m6 1h0m4 13h0m3 5h0m9-20h0m7 13h0m1-12h0m3 4h0m21 7h0m11-11h0m-3 21h0m-14 9h0m-2-7h0m-10 16h0m-6-12h0m-12 3h0m-9 13h0m-20-2h0m-1-1h0m-3-13h0m-6 11h0m-6-8h0m-6 10h0m-14-20h0m-9-1h0m0 5h0m-6 9h0m-10 0h0m-6 0h0m-1-8h0m-12-6h0m-9 10h0m-4 11h0m-7-10h0m-12-1h0m-17-4h0m-8 3h0m-4 14h0m-2-17h0m-5 17h0m-2-14h0m-17 14h0m-3-12h0m0 11h0m-1-14h0m-5 3h0m-15-10h0m-37 19h0m-25-16h0m-7 17h0m-11 2h0m-11-16h0m-4 9h0m-1-10h0m-6 0h0m-7 13h0m-3-7h0m0 7h0m-20-13h0m-20 1h0m0-3h0m-11 4h0m-5 11h0m-18-1h0m0-16h0m-14 0h0m-3 9h0m-5 14h0m1 4h0m7 11h0m7-10h0m12 10h0m22-10h0m27 8h0m5-12h0m10 14h0m32-4h0m11 4h0m0 4h0m3 2h0m3-13h0m2-4h0m14 4h0m10-6h0m1 2h0m2 8h0m9-7h0m7 13h0m5-5h0m7-14h0m9 4h0m11 12h0m6 0h0m4 5h0m0-12h0m3 15h0m17-12h0m10-6h0m0 7h0m8-10h0m17 8h0m1 6h0m15 2h0m22 2h0m17-21h0m12 13h0m3-12h0m0 16h0m2-9h0m23 0h0m23 16h0m14-21h0m5 0h0m9 1h0m3 13h0m12 6h0m7-3h0m8 1h0m52 4h0m-10 0h0m-2 10h0m-1-8h0m-7 9h0m-9 7h0m-33-6h0m-1 10h0m-7-3h0m-3-17h0m-5 15h0m-7-7h0m-25-8h0m-11 5h0m-5 12h0m-2-18h0m-6 8h0m-12-7h0m-3 20h0m-1-13h0m-1 5h0m-9-11h0m-3-3h0m-10 0h0m-3 3h0m-5 11h0m-9 5h0m0-4h0m-38-13h0m-2 7h0m-15 13h0m-3-14h0m-5 9h0m-9 2h0m-7-20h0m-18 5h0m-9 18h0m-7-1h0m-7-13h0m-7-8h0m-12 2h0m-6 1h0m0 18h0m-2-18h0m0 6h0m-18 2h0m-3 1h0m-1-7h0m-11 16h0m-1-2h0m-8-9h0m-3 7h0m-24-6h0m-4-6h0m-30-6h0m-3 15h0m-12 3h0m-3-8h0m-2-7h0m-7 8h0m-2 6h0m-3-16h0m-1 13h0m-6 9h0m-7-22h0m-10 2h0m-12 14h0m-2-12h0m-2-4h0m-7 33h0m21-5h0m5 15h0m4-7h0m9 6h0m7-5h0m3-13h0m6 19h0m1-8h0m15 7h0m15-1h0m21 2h0m4-10h0m52-10h0m35 23h0m7-15h0m14 7h0m2-3h0m3-7h0m19 1h0m7 0h0m1 13h0m2-11h0m4 13h0m7-6h0m17-7h0m10 12h0m1-7h0m2 6h0m8 3h0m13-7h0m11 4h0m3 0h0m6 2h0m3-7h0m4-3h0m0-10h0m15 8h0m18 6h0m3-4h0m33 10h0m21 1h0m2-5h0m22 2h0m28 3h0m10-21h0m0 20h0m2-16h0m1 16h0m2-8h0m2-3h0m2-10h0m9 10h0m-4 16h0m-9 9h0m-1-3h0m-2 15h0m-7-15h0m-11 0h0m-12-3h0m-4 9h0m-8 10h0m-5-7h0m-4-16h0m-20 18h0m-4-5h0m-6 0h0m-3 7h0m-6-5h0m-5 0h0m-3 6h0m-3-21h0m-18 13h0m-16 7h0m-5-9h0m-1-6h0m-10 3h0m-13 1h0m-5 10h0m-2-3h0m-12-11h0m-5 1h0m-4 13h0m-3-17h0m-20 6h0m-3 13h0m-5-21h0m-16 5h0m-1-4h0m-1 11h0m-11-5h0m-29-7h0m-18 12h0m-14 4h0m-7-12h0m-8-3h0m-9 5h0m-2 11h0m-3-2h0m-2-10h0m-5 11h0m-5 6h0m-7-9h0m-2-3h0m-18 13h0m-12-13h0m-1-4h0m-2-3h0m-16 7h0m-6-10h0m-2 5h0m-12 9h0m-2-8h0m-4-5h0m-1 10h0m-7-9h0m-1 6h0m-3 2h0m-47 15h0m0 7h0m23 3h0m64-4h0m25 14h0m4-3h0m9 4h0m1-15h0m1 7h0m68-4h0m11-8h0m9 6h0m18-5h0m43 14h0m24-12h0m6 15h0m2-20h0m28 1h0m13 12h0m1 4h0m2-18h0m7 23h0m9-3h0m15-19h0m8 0h0m35 15h0m5-9h0m0 15h0m8-13h0m5 0h0m13-5h0m9 10h0m17 8h0m12-13h0m5-3h0m4 13h0m1-13h0m7-4h0m0 7h0m4 35h0m-4-4h0m-50 7h0m-15-2h0m-13-14h0m-28-1h0m-3 16h0m-11-18h0m-6 8h0m-13-2h0m-9-4h0m-9 8h0m-4 6h0m-3 2h0m-18-10h0m-6 1h0m-1-7h0m-24 1h0m-28-6h0m-2 8h0m-1-6h0m-3 20h0m-1-22h0m-19-1h0m-10 2h0m-8-1h0m-7 9h0m-25-10h0m-12 3h0m-4 20h0m-15-11h0m-40-3h0m-8 6h0m-6 9h0m0-17h0m-24-7h0m0 12h0m-8-5h0m-2-4h0m-32 0h0m-1 11h0m-2 2h0m-2 4h0m-8-7h0m-27 7h0m-4-4h0m6 8h0m13 17h0m14-2h0m22 8h0m1-14h0m62 4h0m4 1h0m7-2h0m16-9h0m3 6h0m7 5h0m3 0h0m12 5h0m1-6h0m2-10h0m12 15h0m21-7h0m8-4h0m3 8h0m0-7h0m8-6h0m3 16h0m2-9h0m2 4h0m12 11h0m17-21h0m1 21h0m12-19h0m8 12h0m4-8h0m6 4h0m17-13h0m16 19h0m1-4h0m3 1h0m6 4h0m0-11h0m25 7h0m1-15h0m7 19h0m20-10h0m4 6h0m3 5h0m3-3h0m2-16h0m5 9h0m9 12h0m2-16h0m8-2h0m11 13h0m10 5h0m1-7h0m33 6h0m2-16h0m17 7h0m0-13h0m5 18h0m15-18h0m-11 32h0m-12-5h0m-11 8h0m-21-5h0m-11 0h0m-9-5h0m-32 5h0m-38-1h0m-8-4h0m-2 3h0m-1 6h0m-2-10h0m-6 9h0m-42-1h0m-12 1h0m-20 2h0m-6-8h0m-4 9h0m-7-6h0m-21 6h0m-3-6h0m-5 2h0m-41 3h0m-1-8h0m-2 5h0m-11-7h0m-14 7h0m-12 0h0m-13-4h0m-23 2h0m-5 4h0m-1-8h0m-25 4h0m-23-3h0m-5 4h0m-17 6h0m-4-6h0"/>
<path id="pn3" d="M484 -5h0m-68 2h0m-133 1h0m-16-1h0m-40 1h0m-51 2h0m-132 0h0m-32-2h0m-9 22h0m2-8h0m2-10h0m15 4h0m16 9h0m24-4h0m1-3h0m9-1h0m13 8h0m1-4h0m2-5h0m8-1h0m6 6h0m1 8h0m3 0h0m22-10h0m8-7h0m13 20h0m25-13h0m6 9h0m2 5h0m11-9h0m6-3h0m1 6h0m10-5h0m5 8h0m18 1h0m1-16h0m9 16h0m17-19h0m21 13h0m7-12h0m7 10h0m8-3h0m2-7h0m5 14h0m7-12h0m1 5h0m3 3h0m0-4h0m6 4h0m5-4h0m5 10h0m7-5h0m6 3h0m18-1h0m2-15h0m8 2h0m5 15h0m11-16h0m8-2h0m26 21h0m13-7h0m4-8h0m4 8h0m6-9h0m3 0h0m4 11h0m14-16h0m9 23h0m4-15h0m1 16h0m1-5h0m1 2h0m0-11h0m14 0h0m0-8h0m9 18h0m2-8h0m-20 29h0m-30 6h0m-4 1h0m-17-15h0m-11 13h0m-8-11h0m-1-8h0m-15-2h0m-11 7h0m-5-5h0m-9 7h0m-6 10h0m-1-12h0m-16 12h0m-27 2h0m-3-1h0m-9-12h0m-34-1h0m-11-4h0m0 13h0m-7-11h0m0 18h0m-23-15h0m-40 13h0m-5-15h0m-7 16h0m-7 0h0m-7-2h0m-5 0h0m-9-21h0m-20 13h0m-18-13h0m0 10h0m-6 5h0m-8 5h0m-3-8h0m-5-7h0m-17 5h0m-17 2h0m-2-6h0m-1 7h0m-8 2h0m-12 0h0m-2 5h0m-1-3h0m-13-7h0m-7-3h0m-10 7h0m-1-3h0m-1 3h0m-2 7h0m-3-6h0m-4 5h0m9 13h0m3 0h0m0 9h0m25-14h0m0 4h0m22 7h0m11-2h0m13-8h0m14 6h0m18 7h0m6-4h0m2-14h0m17 16h0m1-14h0m15 12h0m4-2h0m6-10h0m6 17h0m13 3h0m2-10h0m4-3h0m7 12h0m12-12h0m30-8h0m0 9h0m3 7h0m21 5h0m5-17h0m8 5h0m1-9h0m0 5h0m6 8h0m24-2h0m5-6h0m9 3h0m10 12h0m37-8h0m2 8h0m19-3h0m10-1h0m2-8h0m1-4h0m2 3h0m4-7h0m3 8h0m3-2h0m2 12h0m19-1h0m2-8h0m11 6h0m0 5h0m5-11h0m2-7h0m15 14h0m1-11h0m6 10h0m15 7h0m0-23h0m1 17h0m14 10h0m-19 2h0m-12-2h0m-2 2h0m-1 7h0m-12-4h0m-34 10h0m-7-4h0m-6 8h0m-7-10h0m-8-8h0m-2 3h0m-11 8h0m-3 0h0m-6-9h0m-15 16h0m-2-3h0m-1-12h0m-15 15h0m0-10h0m-3 5h0m-5-16h0m-15 22h0m-6-7h0m-2 4h0m-23-11h0m-10-8h0m-2 20h0m-3-15h0m-5 9h0m-13-12h0m-14 17h0m-26-8h0m-12 6h0m-30-7h0m-9 9h0m-3-10h0m-23-2h0m-16-3h0m-8 5h0m-4 10h0m-6-7h0m-13-7h0m-16 12h0m-64 4h0m-4-19h0m-14 0h0m6 23h0m3 17h0m9-5h0m7-13h0m5 2h0m18 11h0m5-2h0m6 2h0m12-10h0m6 3h0m3 9h0m4-4h0m5 6h0m8-13h0m2-4h0m20 22h0m6-14h0m19-6h0m3 15h0m13-6h0m3 10h0m18-18h0m24 13h0m0 3h0m2-5h0m1-7h0m5-6h0m4 7h0m1 7h0m17-5h0m3 3h0m5 8h0m15-21h0m5 20h0m4-16h0m0 6h0m4-8h0m7 6h0m10 4h0m2-5h0m11 3h0m11-3h0m4 12h0m22-20h0m17 16h0m11 6h0m6-22h0m2 19h0m7-13h0m0-6h0m3 21h0m11-6h0m1-6h0m2 9h0m12-10h0m2 8h0m13 8h0m1-21h0m24 18h0m6-16h0m16 10h0m13 1h0m4-4h0m1 8h0m3-20h0m2 4h0m9 31h0m-11-4h0m-8 12h0m-13-1h0m-15-1h0m-1-15h0m-37 3h0m-7 7h0m-1 10h0m-12 0h0m-26-6h0m-7 3h0m-9-4h0m-35 4h0m-5-16h0m-4 17h0m-11-5h0m-4 3h0m-9-5h0m-1-7h0m-1 17h0m-17-8h0m-5-3h0m-6 10h0m-23-11h0m-6-1h0m-4-2h0m-3-7h0m-24 19h0m-5-15h0m-1 7h0m-9 5h0m-2-13h0m-7 16h0m-1-17h0m-10 9h0m-5 12h0m-5-11h0m-3-6h0m-10 3h0m-4 7h0m-6-2h0m-5 8h0m-1-17h0m-69 13h0m-6-1h0m-6-11h0m-2-6h0m-13 23h0m-2-4h0m-6-4h0m-2-10h0m-18 15h0m-9-10h0m9 33h0m18-17h0m11 8h0m1 12h0m2-4h0m2 0h0m4-2h0m6-1h0m1-9h0m14 1h0m20 12h0m12-5h0m24-11h0m1 18h0m4-14h0m5 15h0m1-12h0m0 8h0m29-12h0m21-6h0m0 18h0m1-14h0m12-2h0m19 11h0m2-5h0m18-7h0m9 7h0m3 9h0m3-3h0m7-13h0m4 8h0m24-2h0m6 1h0m2 13h0m7-20h0m2 21h0m15-17h0m7-1h0m13 3h0m7-1h0m6-1h0m21-3h0m11 21h0m4-23h0m18 8h0m2 8h0m5-8h0m9 12h0m4-19h0m8 0h0m4 8h0m21 9h0m9 4h0m11-18h0m7 6h0m16 1h0m5 4h0m14 4h0m-10 21h0m-17-10h0m-11 13h0m-10-6h0m-16 10h0m0-11h0m-14 5h0m-1 5h0m-11-23h0m-8 14h0m-4 4h0m0-11h0m-37 5h0m-29 1h0m-5-2h0m-2 12h0m-6-19h0m-5-1h0m-12 17h0m-5-19h0m-4 6h0m-27 3h0m-28 11h0m-9 1h0m-2-21h0m-11 18h0m-9-13h0m-15 5h0m0-11h0m-11 5h0m-23 13h0m-34-11h0m-7 9h0m-10 4h0m-11 0h0m-5-11h0m-1-4h0m-16 1h0m-4 6h0m-27 6h0m-1 6h0m-2-10h0m-3 1h0m-26-4h0m-13-3h0m-19 19h0m1 17h0m5-11h0m3-8h0m6 16h0m8-14h0m4 2h0m3 11h0m5-9h0m13 17h0m5-23h0m4 6h0m10-2h0m4-1h0m8-2h0m2 12h0m5-11h0m8-1h0m16 3h0m13 0h0m7 16h0m8-16h0m11-1h0m1 11h0m2-4h0m17 8h0m3 4h0m2-6h0m6 6h0m4-22h0m3 12h0m5 8h0m12 2h0m13-21h0m24 10h0m27-12h0m2 7h0m0 4h0m10 5h0m0-6h0m3 13h0m6-18h0m1 3h0m11 7h0m5-14h0m4 6h0m2-5h0m5 6h0m2 4h0m39-9h0m8 18h0m4-18h0m11 8h0m9-9h0m1 8h0m7 14h0m9-8h0m6-5h0m13 2h0m9 1h0m13 5h0m2-2h0m2-11h0m3-5h0m1 19h0m14-1h0m3-7h0m9-6h0m22-3h0m8 0h0m1 17h0m5-11h0m-12 29h0m-1-13h0m-3 17h0m-1-4h0m-3 3h0m-27-5h0m-14-11h0m-5 22h0m-13 0h0m0-20h0m-1 7h0m-33 3h0m-4 8h0m-10 1h0m-9-19h0m-1 4h0m0 16h0m-3-22h0m-1 16h0m-6-14h0m-7 6h0m-2-2h0m-5-6h0m-7 19h0m-5-5h0m0-11h0m-2 6h0m-26-3h0m-13 14h0m-18-12h0m-18 4h0m-3 10h0m-37-6h0m-1 5h0m-8-17h0m-2 18h0m-3-16h0m-4-2h0m-1 9h0m-12 2h0m-14-13h0m-1 3h0m-5 2h0m-2-2h0m-23-2h0m-12-3h0m-1 21h0m-4-11h0m-3 1h0m-3-5h0m0 6h0m-12 5h0m-2 6h0m-6-16h0m-5-3h0m0-4h0m-8 2h0m-26 10h0m-9 10h0m-45-4h0m5 8h0m12-3h0m37 16h0m0 3h0m7-9h0m8 9h0m4-17h0m15 7h0m6 7h0m12-14h0m0 18h0m18-5h0m9-10h0m3 14h0m3 0h0m24-15h0m3 6h0m2 1h0m24-1h0m1-4h0m4 9h0m4-8h0m7 1h0m39 14h0m6 0h0m9-9h0m42-9h0m6 3h0m2-2h0m4 0h0m15 17h0m2-7h0m23 9h0m1-7h0m10-17h0m16 22h0m10 1h0m7-3h0m21-7h0m4-9h0m2 11h0m1-7h0m6 5h0m13-4h0m4 1h0m10 2h0m27 11h0m0-18h0m12 30h0m-2-6h0m-7-5h0m-3 7h0m0-5h0m-26 16h0m-1-3h0m-27 2h0m-5-7h0m-11 2h0m-8-3h0m0-9h0m-24 0h0m-15 10h0m-35 2h0m-8-6h0m0 9h0m-5 0h0m-4-12h0m-38 6h0m-16 9h0m0-3h0m-6 2h0m-5-9h0m-4 16h0m-12-2h0m-13-17h0m-13 7h0m-22 4h0m-7-14h0m-9 21h0m-24-20h0m-6 0h0m-1 8h0m-9-6h0m-9 18h0m-2-16h0m-2 10h0m-2-9h0m-8 8h0m-35 2h0m-14 1h0m-4-1h0m-10-14h0m-4 9h0m-2 8h0m-1-18h0m-2 15h0m-5 3h0m-13-15h0m-21 16h0m-3-14h0m-9 3h0m-2-6h0m7 38h0m13-12h0m5 3h0m22 0h0m7-1h0m1 3h0m2-10h0m5 7h0m0-8h0m10 3h0m1 16h0m2-5h0m14-11h0m3-2h0m4-1h0m6 1h0m5 17h0m3-3h0m12-4h0m15 5h0m3 0h0m1-9h0m9 0h0m15-2h0m3 0h0m6 16h0m16-20h0m2 10h0m15 9h0m1-12h0m15 7h0m9 8h0m35-19h0m0 14h0m12-15h0m15-3h0m1 2h0m9 20h0m4-2h0m19-12h0m8 6h0m9 5h0m5 3h0m5-9h0m11 0h0m24 4h0m26-14h0m4 19h0m34-2h0m1-13h0m1 10h0m6-15h0m30 19h0m6-6h0m5-3h0m5 0h0m7 22h0m-10 10h0m-18-18h0m-2 11h0m-5-7h0m-2 9h0m-18 3h0m-17-18h0m-14 12h0m-11 3h0m-9-14h0m-5 15h0m-27-12h0m-2 12h0m-4-5h0m-12-9h0m-23 11h0m-16-12h0m0 20h0m-4-16h0m-2-4h0m0 22h0m-3-7h0m-11 1h0m-10-10h0m-8-5h0m-13-2h0m-29 4h0m-6 7h0m-8-10h0m-2 4h0m-11-3h0m-4-1h0m-7 11h0m-12-5h0m-6 13h0m0-9h0m-7-11h0m0 10h0m-6 1h0m-3-9h0m-11 5h0m-1 10h0m-3 4h0m-12-5h0m-32-9h0m-12 0h0m-3 16h0m-4-8h0m-14 5h0m-13-6h0m-1-15h0m-5 21h0m-6-6h0m-8-5h0m-18 7h0m-22-6h0m-2 25h0m2-7h0m11 5h0m5 4h0m7-3h0m4 7h0m3 4h0m4-21h0m0 23h0m5-3h0m2-18h0m10-2h0m0 13h0m1 7h0m7-10h0m4-10h0m1 20h0m9-6h0m6-2h0m1 3h0m14-9h0m14 6h0m1-11h0m3 0h0m2 20h0m22-15h0m27 16h0m11-6h0m8-14h0m5 20h0m9-16h0m23 16h0m0-9h0m18-10h0m10 16h0m10-3h0m9-15h0m4 17h0m13-8h0m12-4h0m2 15h0m23-21h0m6 3h0m0 6h0m3 6h0m1-8h0m10-4h0m5 18h0m13-12h0m20-4h0m1 15h0m4-18h0m10 14h0m4-15h0m18-1h0m5 6h0m3 9h0m14 6h0m0-20h0m32 14h0m13 4h0m14-13h0m2-3h0m12 8h0m2-7h0m-17 39h0m-2 2h0m-5-20h0m-9 13h0m-36 2h0m-2-16h0m0 7h0m-7 7h0m-19 7h0m-20-6h0m-22-15h0m-1 16h0m-14-15h0m-1 7h0m-9 10h0m-3-16h0m-3 10h0m-12 5h0m-11-2h0m-3 4h0m-9-13h0m-4 11h0m-44-12h0m-16 5h0m-2-2h0m-13 10h0m-26 2h0m-19-5h0m-12 8h0m-5-6h0m-1-15h0m-18 5h0m-11 11h0m-9-9h0m-15 7h0m-1 4h0m-17-19h0m-8 2h0m0 3h0m-3-5h0m-10 10h0m-20-11h0m-8 11h0m-24-12h0m-18 29h0m17 2h0m4 6h0m3-12h0m9 6h0m2 6h0m10 9h0m6-19h0m0 6h0m15 14h0m15-13h0m9-2h0m10-1h0m5-3h0m5 8h0m3-1h0m13 10h0m2-21h0m3 1h0m2 8h0m3 11h0m4-13h0m14 11h0m9-2h0m4-9h0m2 5h0m0 7h0m21 3h0m11-21h0m41 10h0m17 11h0m4-17h0m3 4h0m8 14h0m7-10h0m4-4h0m2-2h0m9 8h0m3-11h0m6 1h0m3-4h0m14 7h0m2 13h0m1-8h0m13-10h0m10 2h0m8-4h0m6 15h0m0-2h0m15-7h0m2 6h0m6 8h0m33-1h0m0-13h0m6-1h0m8 1h0m6 9h0m2 6h0m12-7h0m28-14h0m4 23h0m2-7h0m9 2h0m17-14h0m-7 40h0m-19-9h0m-1 3h0m-9-14h0m-25 5h0m-2 2h0m-10 2h0m-6 1h0m-10 10h0m-9 1h0m-1-20h0m-18 2h0m-18 1h0m-4 5h0m-9-4h0m-1 18h0m-14-5h0m-3-16h0m-25 8h0m-15 6h0m-6 6h0m-4-9h0m-30 6h0m-28-6h0m-48 7h0m-9-3h0m-13-10h0m-2-4h0m-24 8h0m0-10h0m-1 4h0m-15 12h0m-2-6h0m0-12h0m-25 19h0m-5-17h0m-24 19h0m-16-5h0m-13 5h0m-33-9h0m-15 9h0m8 21h0m3-8h0m7-8h0m9 4h0m9 17h0m0-4h0m23-3h0m10-12h0m9 13h0m8-4h0m40-1h0m1-10h0m3 12h0m2-10h0m13 6h0m9 12h0m3-13h0m15 7h0m4 4h0m3-1h0m3-16h0m17 14h0m2-3h0m1-3h0m1-8h0m8 15h0m4-18h0m14 3h0m28 2h0m1 14h0m15-12h0m8 8h0m1 3h0m2 1h0m5-7h0m6 1h0m15-10h0m10 19h0m9 0h0m1-18h0m6 3h0m5 9h0m15 2h0m10-4h0m18-2h0m32-5h0m0-5h0m2 17h0m17-7h0m10 10h0m1-15h0m31 8h0m13-5h0m30 8h0m-14 10h0m-15 16h0m-5 2h0m-5-4h0m-12-13h0m-5 14h0m-12-7h0m-6-11h0m-2 10h0m-10 12h0m-16-10h0m-10 6h0m-26-15h0m0-3h0m-12 16h0m0-10h0m-11 11h0m-8-14h0m-13 5h0m-1 4h0m-2-12h0m-1 21h0m-3-6h0m-16 8h0m-35-14h0m-8-6h0m-5 10h0m-4 6h0m-6-18h0m-9 22h0m-13-19h0m-18 19h0m-14-6h0m0-11h0m-1 7h0m-2-8h0m-5 13h0m-5-9h0m-3-8h0m-3 15h0m-1-4h0m-13-11h0m-10 1h0m-3 4h0m-6 12h0m-5-18h0m-3 10h0m-7 2h0m-3 0h0m-1-10h0m-7 3h0m-3-2h0m-14 5h0m-4 11h0m-2 3h0m-3-3h0m-4 1h0m-16-17h0m-2 15h0m-5-17h0m-5 7h0m-18-7h0m-12 13h0m-6-14h0m-10 19h0m-1-5h0m-8-13h0m-11 26h0m15 18h0m5-17h0m8 0h0m9 11h0m2-7h0m6 11h0m3-1h0m0-8h0m14-4h0m10 11h0m12-11h0m31 2h0m0-5h0m1-2h0m5 20h0m1-16h0m0 13h0m3-13h0m13 12h0m9 4h0m1-8h0m7 8h0m19-1h0m1-12h0m15-6h0m10 3h0m31 15h0m2-1h0m6-12h0m0 7h0m69-7h0m6 10h0m6 3h0m6-19h0m22 8h0m2 6h0m3-9h0m0-5h0m4 6h0m6-7h0m1 12h0m6 5h0m2-2h0m15-13h0m16-1h0m6 5h0m10-1h0m21 11h0m4 1h0m9-16h0m3 11h0m4 10h0m3-20h0m29 11h0m20-10h0m5 22h0m-8 8h0m-22-7h0m-8 5h0m-21 5h0m-39-8h0m-14 3h0m-8 2h0m-2-7h0m-14 8h0m-8-2h0m-65 2h0m-17 0h0m-5-5h0m-16-1h0m-7 5h0m-26 3h0m-7-7h0m-51 2h0m-6-7h0m-34 9h0m-40 3h0m-44-12h0m-8 7h0m-15-7h0m-17 5h0m-5 4h0m-5-8h0"/>
<path id="pn4" d="M432 -2h0m-14 1h0m-132-3h0m-22-1h0m-18 1h0m-13 3h0m-106-3h0m-55-1h0m-36 2h0m-30 0h0m13 25h0m8-7h0m0-11h0m1 13h0m17-7h0m13 12h0m7-13h0m11-9h0m4 11h0m12-5h0m4 10h0m36 5h0m2-3h0m7-2h0m19 3h0m2-5h0m11-9h0m27-2h0m3 17h0m47-2h0m1-10h0m47 14h0m8-4h0m1 3h0m8-3h0m10-3h0m13-3h0m31 12h0m4-12h0m3-12h0m27 23h0m5 1h0m5-5h0m15-4h0m8-9h0m3 16h0m6 0h0m8-10h0m3-5h0m3 7h0m9-9h0m0 7h0m30 6h0m0-4h0m-2 15h0m-1 4h0m-3 13h0m-14-17h0m-31-1h0m-6 2h0m-3-4h0m-2 6h0m-21 2h0m-2 6h0m-11-8h0m-5 16h0m-2-3h0m-5-9h0m-18-11h0m-2 17h0m-25-8h0m-42 4h0m-2 4h0m-5-11h0m-3 4h0m-7 6h0m-14-5h0m-3-1h0m-6-1h0m-1 11h0m-2-14h0m0 10h0m-5-1h0m-4 4h0m-9-16h0m-1 2h0m-1-3h0m-14 5h0m-8 13h0m-11-12h0m-4 3h0m-5-10h0m-10 16h0m-21-10h0m-9 11h0m-6-19h0m-6 17h0m-4-17h0m-3 18h0m-1 5h0m-4-3h0m-8-2h0m-6-7h0m-13-11h0m-1 24h0m-7-15h0m-11 13h0m-4-18h0m-2 1h0m-17 7h0m-23 6h0m-12-14h0m-8 35h0m3 6h0m7-19h0m0 4h0m26-2h0m30 6h0m2 11h0m3 3h0m8-21h0m5 19h0m7-10h0m4 9h0m4 2h0m38-13h0m11 4h0m19 0h0m3-8h0m8 7h0m8-1h0m2 2h0m3-11h0m3 17h0m7-5h0m5-6h0m2 12h0m1-7h0m6 0h0m13-1h0m21-4h0m9-3h0m1 14h0m4 4h0m10-11h0m5-9h0m1 17h0m1-7h0m10 9h0m1-8h0m7-2h0m0 6h0m4-10h0m24-2h0m12 0h0m9 2h0m14 13h0m0-14h0m6-8h0m1 17h0m11-3h0m14-12h0m3 1h0m24-3h0m9 12h0m16-1h0m3-9h0m6 12h0m10-5h0m1 12h0m1-16h0m11-3h0m14 46h0m-21-8h0m-26 0h0m-2 3h0m-11 1h0m-1-12h0m-2 2h0m-9-7h0m-6 11h0m-3 8h0m-1-13h0m-2-6h0m-1 4h0m-45-6h0m-10 16h0m-11-3h0m-10-5h0m-12 5h0m-2-14h0m-1 11h0m0 11h0m-4-16h0m-13 1h0m-6 15h0m-7-21h0m-3 5h0m-2 9h0m-19-13h0m-21 10h0m-5-7h0m-6-3h0m-3 15h0m0-4h0m-2 8h0m-8-15h0m-1-6h0m-7 11h0m-17-4h0m-6-3h0m-12-1h0m-2 6h0m-19-1h0m-1 9h0m-19-6h0m-11 0h0m-2 6h0m-28-6h0m-3 5h0m-1-5h0m-11-9h0m-6 19h0m-2-19h0m-1 7h0m-18-4h0m-6 3h0m-15 13h0m-25-10h0m-4-10h0m-10 1h0m-10 22h0m-2 5h0m11 11h0m7-9h0m8 8h0m1-3h0m0 8h0m5-14h0m6 13h0m5 2h0m13-20h0m17 7h0m16 0h0m9-8h0m1 16h0m11-1h0m1-6h0m7 5h0m22-11h0m2-3h0m5 7h0m21 10h0m18 0h0m20-16h0m2 11h0m1-9h0m8 2h0m3 4h0m0 11h0m0-5h0m7-1h0m3-1h0m1-4h0m11 0h0m3-5h0m10 0h0m17 14h0m5-2h0m19-14h0m3 10h0m12 3h0m7-2h0m1-7h0m6 6h0m1 9h0m2-20h0m9 1h0m6 17h0m6-5h0m10-1h0m15-10h0m14 9h0m3-6h0m16 15h0m31 2h0m9-11h0m1 4h0m15 6h0m10-10h0m10-11h0m3 13h0m3-2h0m7-3h0m16-4h0m-15 35h0m-2-10h0m-14-1h0m-4 5h0m-8 7h0m-20-6h0m-5 4h0m-4 1h0m-6-13h0m0 10h0m-1-6h0m-8 14h0m-26-9h0m-3 4h0m-2 6h0m-10-17h0m-4 0h0m-15 4h0m-2 10h0m-46-16h0m0 14h0m-6-2h0m-6-8h0m-11 2h0m-4 0h0m-18 3h0m-1 6h0m-4 0h0m-3-8h0m-6-8h0m-4 14h0m-5 1h0m-3-7h0m-2 4h0m-6-7h0m-9 16h0m-19-7h0m0 7h0m-4-12h0m-3 0h0m-13 8h0m-7 1h0m-7 0h0m-3-15h0m-5 18h0m-2-11h0m-7 9h0m-26-11h0m-23 4h0m-14 8h0m-8-20h0m-2 18h0m-15-16h0m-8 17h0m-9-9h0m-17-3h0m-3 6h0m-20 0h0m-1 3h0m-3 5h0m-9 4h0m1 9h0m13-2h0m10 14h0m3 0h0m0-18h0m12 17h0m11-21h0m7 22h0m9 0h0m0-8h0m2-1h0m1-13h0m9 13h0m4-13h0m3 7h0m2 7h0m1-13h0m10 5h0m4-1h0m2 14h0m10-7h0m5-3h0m7 0h0m10 5h0m6-16h0m4 11h0m0-3h0m4 11h0m42 3h0m4-1h0m1-3h0m25-9h0m1 8h0m4-1h0m5 0h0m2-2h0m22-1h0m5 9h0m9-7h0m7-9h0m7-1h0m2 18h0m26-17h0m18-5h0m1 6h0m3-6h0m12 13h0m8 8h0m4-7h0m0-15h0m14 1h0m7 16h0m15-15h0m3 6h0m16-4h0m30 0h0m8 0h0m0 8h0m18-7h0m0 4h0m4-9h0m0 6h0m5 7h0m10 4h0m6 4h0m3-14h0m9 7h0m6-11h0m1 9h0m0 14h0m-2 7h0m-5 5h0m-14 9h0m-5-7h0m-5-10h0m-15 17h0m-8-6h0m-10 5h0m-9-9h0m-13 1h0m-24-5h0m-2-3h0m-5 14h0m-1-13h0m-4-7h0m-15 21h0m-3-13h0m-2-6h0m-7 6h0m-1 6h0m-21 3h0m-6-5h0m-4 6h0m-10-14h0m0 20h0m-6-7h0m-3-5h0m-8-11h0m0 10h0m-3 8h0m-4-8h0m-6-2h0m-5-1h0m-21 3h0m-3-8h0m-5 1h0m-10 8h0m-12-3h0m-1-9h0m-1 16h0m-14 1h0m-5-12h0m-4 18h0m-7-21h0m-2 14h0m-5-8h0m-1 10h0m-13-4h0m-4-11h0m-7 17h0m-8-5h0m-2-2h0m-1-4h0m-3-4h0m-20 13h0m-3-7h0m-5 2h0m-18-7h0m-3 17h0m-44-21h0m-2 12h0m-13-1h0m-8-3h0m-1 11h0m-6-18h0m-7 17h0m-1-2h0m-1-16h0m-3 0h0m0 5h0m-3 15h0m-8-3h0m-3-17h0m0 11h0m-8-11h0m-2 7h0m4 30h0m4-5h0m3 12h0m7-8h0m0-6h0m8 16h0m28-23h0m9 21h0m2-3h0m3 0h0m5-16h0m15 20h0m2-7h0m12-14h0m8 11h0m2 10h0m9-22h0m2 4h0m9 3h0m2-8h0m32 6h0m6 3h0m7-2h0m2-3h0m10 6h0m9-7h0m22 4h0m5 2h0m11 7h0m13-15h0m3 1h0m5 3h0m4-3h0m12 21h0m7-12h0m20 6h0m3-7h0m0 5h0m14 2h0m3-3h0m2 4h0m5-1h0m6 4h0m5-18h0m7 0h0m12 20h0m2-17h0m1-2h0m6 15h0m18-15h0m32 4h0m1 10h0m3-8h0m12 12h0m13-8h0m1-5h0m9-5h0m10 5h0m15 4h0m14-5h0m1 15h0m19-8h0m1 13h0m-5 1h0m-19 3h0m-8 15h0m-13-16h0m-14 12h0m-7-15h0m-9 2h0m-8-1h0m-3 0h0m-7 19h0m-11-21h0m-13 20h0m-4-13h0m-3-3h0m-1 3h0m-20 9h0m-41-2h0m-6-13h0m-2 3h0m-1 10h0m-4 0h0m-5-1h0m-5-4h0m-11-10h0m-3 0h0m-2 20h0m-8-2h0m-6-17h0m-8-1h0m-4 4h0m-4 0h0m-9 16h0m-4-9h0m-2 11h0m-7-14h0m-3-9h0m-3 2h0m-4 20h0m-25-1h0m-3 2h0m-2-16h0m-2-6h0m-4 3h0m-7-3h0m-10 2h0m-12 2h0m-6 17h0m-10-1h0m-7-6h0m-4-10h0m-17 10h0m-14-2h0m-2-3h0m-9-9h0m-2 10h0m0-6h0m-8-3h0m-25 16h0m-13-4h0m-1-3h0m-2 6h0m-21-3h0m-5-3h0m-14-8h0m-5 1h0m5 29h0m3-3h0m2 2h0m5-3h0m9 3h0m11-2h0m9 14h0m2-16h0m7 0h0m3 17h0m8-15h0m0 4h0m17-8h0m10 17h0m2-6h0m4-9h0m1 17h0m5-2h0m8-1h0m7-11h0m10 5h0m2 9h0m21-13h0m3-6h0m31 9h0m17 0h0m9 9h0m3-6h0m1 4h0m1-2h0m19 0h0m1 6h0m5-3h0m17-4h0m19 0h0m6-14h0m10 1h0m39 14h0m2-15h0m6 6h0m7 11h0m8-2h0m26-5h0m4-7h0m26 18h0m5-22h0m6 1h0m6 18h0m2-4h0m11-5h0m2 6h0m58-7h0m16 0h0m0 21h0m-23 16h0m-8 1h0m-2-5h0m-3 3h0m-3-2h0m-37 3h0m-4-9h0m-1-2h0m-15-3h0m-3 3h0m-1-12h0m-5 5h0m-3 18h0m0-4h0m-7-6h0m-16 4h0m-29-8h0m-6-5h0m-1 10h0m0 4h0m-6-5h0m-4-2h0m-14-4h0m-8 8h0m-34 7h0m-3-7h0m-36 6h0m-3-18h0m-15 17h0m0-17h0m-6 15h0m-2-11h0m-22 15h0m-14-5h0m-14-10h0m-2-2h0m-7 4h0m-2 11h0m-12 0h0m-19-10h0m-17-9h0m-5 16h0m-11-9h0m-14 9h0m-14 1h0m0-7h0m-4-5h0m-10 3h0m0 7h0m-7 7h0m-12-20h0m-27 19h0m-1-15h0m-8 38h0m7-8h0m5-10h0m1 8h0m0 5h0m13 4h0m1-17h0m20 15h0m21-14h0m9 2h0m6 1h0m6 5h0m13 12h0m14-15h0m7-1h0m11 5h0m3 7h0m23-1h0m1-7h0m19-7h0m0-4h0m3 10h0m17 10h0m11 2h0m2-12h0m16 3h0m5-10h0m15 6h0m4 4h0m7-2h0m5-8h0m0 16h0m9 0h0m11-15h0m3 12h0m4-7h0m20 6h0m0 8h0m23-9h0m13 9h0m16-10h0m7-10h0m13 19h0m13-12h0m1-10h0m4 10h0m6 11h0m5-6h0m17-1h0m3 4h0m11 2h0m5-1h0m1-8h0m3-9h0m8 14h0m4-10h0m12-5h0m2 8h0m10-7h0m8 10h0m3-5h0m4-6h0m6 18h0m2 1h0m7-8h0m-8 29h0m-1 2h0m-6-2h0m-1-3h0m-8-4h0m-23 8h0m-17-13h0m-15 7h0m-4 3h0m-3 5h0m-18 1h0m0-21h0m-5 7h0m-20 12h0m-33 0h0m0-17h0m-5 19h0m-10-12h0m-21 3h0m-8-7h0m-3-2h0m-19-2h0m-3 12h0m-10-6h0m-3 1h0m-25 14h0m-7-18h0m-9 19h0m-2-18h0m-29 16h0m-4-5h0m-1-10h0m-2 8h0m-2-2h0m-2-13h0m-1 20h0m-2-14h0m-10-2h0m-8 17h0m-1-4h0m-3 6h0m-7-6h0m-13 6h0m-11-20h0m-11 12h0m-22-10h0m-3 4h0m-1 9h0m0-18h0m-5 3h0m-17 6h0m-2-5h0m0 14h0m-3 3h0m0-21h0m-8 9h0m-8 3h0m-21 6h0m-3-14h0m-3-1h0m-3 2h0m-13 14h0m-2-17h0m-12 16h0m9 15h0m2 2h0m20-8h0m4 3h0m9 3h0m6 13h0m3-3h0m3-8h0m3 6h0m7 5h0m3-17h0m3 11h0m31-10h0m13 10h0m6 6h0m7-18h0m9 19h0m1-12h0m2 11h0m10-3h0m4-7h0m6 3h0m7 0h0m6 7h0m13-22h0m17 20h0m1-5h0m6-3h0m1-4h0m4 8h0m22-12h0m7 14h0m5-5h0m4-1h0m1 11h0m15-7h0m13 6h0m27 0h0m5-19h0m21 2h0m5 17h0m7-11h0m5-10h0m22 20h0m6-10h0m1-2h0m13-8h0m2 18h0m6-12h0m11 5h0m2 10h0m18-8h0m8-8h0m8-3h0m4 14h0m14-12h0m3 9h0m7 8h0m2-15h0m1 5h0m10-6h0m8-4h0m22 7h0m-6 20h0m-2 4h0m-2 3h0m-5 8h0m-1-5h0m-1-12h0m-1 15h0m-3-1h0m-13 0h0m-8-8h0m-6 8h0m-7-15h0m-12 12h0m-12-7h0m-1-2h0m-1-4h0m-2 3h0m-8 15h0m-2-7h0m-7-1h0m-2 3h0m-4-7h0m-1 6h0m-5 10h0m-3-5h0m-8-17h0m-1 12h0m-1 9h0m-2-13h0m-4-8h0m-17 17h0m-14-1h0m-17 1h0m-9-5h0m-4-6h0m-8 0h0m-10 12h0m-9 2h0m-3 2h0m-12-13h0m-15 3h0m0 4h0m-8-13h0m-35 4h0m-7 10h0m-9 0h0m-7-9h0m-15 9h0m-4-8h0m-18-2h0m-11 12h0m-10-1h0m-2-17h0m-6 2h0m-7-4h0m-2 23h0m-20-12h0m-7-7h0m-8 0h0m-15 11h0m-9 6h0m-16 0h0m-19-13h0m-5 10h0m-16 5h0m-13-18h0m-2 4h0m4 29h0m3 3h0m12-3h0m9-9h0m51 2h0m2 3h0m4 4h0m11 9h0m1-7h0m6 7h0m4-7h0m36-12h0m2 14h0m7-3h0m2 7h0m4-12h0m18-4h0m2 11h0m3-6h0m5-6h0m3 10h0m14-3h0m10 0h0m4 6h0m9 6h0m9-23h0m0 9h0m2 6h0m3 3h0m6 2h0m7-7h0m5-3h0m13 10h0m14-19h0m12 21h0m3-11h0m2 7h0m11 3h0m0-12h0m6 3h0m6-9h0m2-3h0m6 2h0m2 12h0m9-8h0m18-2h0m3-1h0m9 9h0m8-3h0m1-7h0m29-2h0m0 5h0m5 6h0m26 3h0m3-14h0m8 5h0m9-4h0m3 1h0m26 10h0m9-8h0m2 19h0m4-7h0m9-3h0m3 3h0m-4 19h0m-11-5h0m-8 7h0m-9-1h0m-2-4h0m-4-5h0m-14 10h0m-5 9h0m-1-21h0m0 17h0m-4 1h0m-2-17h0m-18 7h0m-1 9h0m-3 2h0m-9-17h0m-20 8h0m-9 10h0m-10-4h0m0-17h0m-2 7h0m-8 1h0m-3-5h0m-2 10h0m-5-11h0m-5 0h0m-1-3h0m-6 0h0m-11 3h0m-2 6h0m-2 4h0m-2-6h0m-7-5h0m-29 11h0m-11-13h0m0 24h0m-1-15h0m-3-1h0m-14 9h0m-3-11h0m-9-5h0m-12 5h0m-8-3h0m-4 13h0m-16 1h0m-8-5h0m-18-11h0m-13 17h0m-2-8h0m-1 6h0m-13-5h0m-8 2h0m-13-2h0m-5 7h0m0 4h0m-14-19h0m0 7h0m-1 12h0m-1-9h0m-14-2h0m-34-7h0m-4 2h0m-7-3h0m-18 3h0m-10-2h0m-6-1h0m-3 17h0m-6 4h0m-17-12h0m0 30h0m24 5h0m6-4h0m0-3h0m5-2h0m15 4h0m14-1h0m22-7h0m15 1h0m4 7h0m0-7h0m8-9h0m6 1h0m7 7h0m6 2h0m6-10h0m2 21h0m5 0h0m0-5h0m4-3h0m6 1h0m1-12h0m16-3h0m19 1h0m4 2h0m5 4h0m9 7h0m3-11h0m4 12h0m0-11h0m13 15h0m1-7h0m5 4h0m30-2h0m1-4h0m18 3h0m13-13h0m7 15h0m1-5h0m1-6h0m15 16h0m0-15h0m6 6h0m1-12h0m0 18h0m13 4h0m4-3h0m3-12h0m7 0h0m4 15h0m1-9h0m2 7h0m12-7h0m9-2h0m0 12h0m16-9h0m40-2h0m0-9h0m9 13h0m13 2h0m15-13h0m6 8h0m5 4h0m20-1h0m5 2h0m1 21h0m-7-11h0m-6 15h0m-4-7h0m-25 1h0m-2-8h0m-4 17h0m-8-2h0m-4 3h0m-7-4h0m-18 5h0m-3-11h0m-1 9h0m-1-8h0m-1-8h0m-6 11h0m-12-4h0m-7 8h0m-4 0h0m-2-15h0m-4 1h0m-12 3h0m0-6h0m-3 10h0m-14-12h0m-1 5h0m-15 0h0m-29 2h0m0-7h0m-7 1h0m-17 1h0m-31-1h0m-1 15h0m-1-9h0m-12-1h0m-11 0h0m-9 7h0m-12-10h0m-2-2h0m-16 13h0m-1-7h0m-15-2h0m-4 3h0m-25 12h0m-20-16h0m-8 14h0m-1-7h0m-6-2h0m-4-6h0m-2 14h0m-6 5h0m-13-2h0m-15-12h0m-11 4h0m-3-10h0m-3 3h0m-2 11h0m-4-10h0m-1-4h0m-10 15h0m-10 3h0m-3-18h0m-17 1h0m-9 10h0m0 15h0m4 15h0m3-20h0m8 20h0m3-6h0m1 5h0m4-11h0m4-6h0m3 17h0m32-14h0m8 4h0m7-6h0m9 12h0m9-4h0m15 6h0m1 3h0m14-20h0m2 20h0m5 0h0m2-13h0m27-3h0m1 11h0m0-6h0m11 5h0m30 8h0m4-19h0m5 17h0m18-6h0m13-8h0m6 2h0m1 5h0m2 6h0m40-16h0m5-3h0m3 8h0m3-7h0m4 11h0m4 2h0m0-3h0m6 5h0m19-9h0m5 9h0m2 2h0m4 0h0m10-15h0m13 9h0m1-6h0m4 3h0m2 7h0m6-3h0m16-6h0m6 8h0m8-3h0m9-6h0m2-2h0m9 2h0m12 7h0m8 8h0m8-8h0m0 7h0m1-13h0m5 13h0m2-20h0m13 11h0m23-5h0m0-6h0m7 5h0m4 15h0m-16 6h0m-32 10h0m-36-7h0m-1-5h0m-9-1h0m-4 7h0m-23-6h0m-8 2h0m-11 5h0m-1-7h0m-24 1h0m-59 1h0m-6 1h0m-22-1h0m-18 1h0m-13 3h0m-1-5h0m-32 9h0m-73-7h0m-18-2h0m-33 6h0m-4-5h0m-6-1h0m-30 3h0m-9 7h0m-21-7h0"/>
<path id="pn5" d="M452 -5h0m-15 4h0m-1-4h0m-113 3h0m-51 0h0m-43-3h0m-30 1h0m-8 3h0m-94-1h0m-11 0h0m-35 0h0m-33-2h0m-18 8h0m12 6h0m4 3h0m19-6h0m1 3h0m10 13h0m9-15h0m2-6h0m0 13h0m9 4h0m7 1h0m3-9h0m13 9h0m0-7h0m0 10h0m5-22h0m6 3h0m6 0h0m7 6h0m3 10h0m10-5h0m1-12h0m9 13h0m1 5h0m1-15h0m14 4h0m2-6h0m22 2h0m3-1h0m0 9h0m35-7h0m9-5h0m1 20h0m1-22h0m2 17h0m17-11h0m21 11h0m12-9h0m6-2h0m8 0h0m4 1h0m3 8h0m3-3h0m6-3h0m5 6h0m14-4h0m3 3h0m7-4h0m4-6h0m2 11h0m2 6h0m10-4h0m6 4h0m20-16h0m2 15h0m4 3h0m7-14h0m3 15h0m2-22h0m2 10h0m2 5h0m10-8h0m13-9h0m2 9h0m15-5h0m28 5h0m8 1h0m1 8h0m17-9h0m3 14h0m5-6h0m8-13h0m3 33h0m-2 6h0m-3-19h0m-6 9h0m-2-8h0m0 15h0m-16-11h0m-14-1h0m-4 0h0m-18-3h0m0 10h0m-23 5h0m-7-13h0m-16 21h0m-12-5h0m-3 3h0m-4-15h0m0 11h0m-26-8h0m-10 9h0m-2 5h0m-2-7h0m-2 4h0m-10-10h0m-9-9h0m0 10h0m-8-1h0m-1 3h0m-2 6h0m-2-5h0m-2-11h0m-3 8h0m0 4h0m-1 3h0m-3-12h0m-18 15h0m-2-7h0m-10-6h0m-23-5h0m-12 13h0m-7 4h0m-4-17h0m-8 2h0m0 18h0m-6-3h0m-20-20h0m-17 21h0m-10-6h0m-2-14h0m-5 0h0m-12 20h0m-1-11h0m-11 5h0m-8 7h0m-14-17h0m-4 13h0m-3-4h0m-8-2h0m-15-1h0m-2-1h0m-5 8h0m-1-19h0m-2 22h0m-11-20h0m-1 12h0m-4-12h0m-4 20h0m-3-19h0m-13 0h0m-8 13h0m-25-3h0m-2 6h0m-3-19h0m-1 42h0m10-7h0m4 2h0m9-2h0m11 3h0m5 4h0m21-18h0m8 22h0m2-16h0m1-6h0m1 10h0m11-1h0m2 13h0m15-12h0m13 13h0m12-20h0m9 12h0m1-2h0m9-1h0m8 8h0m10-18h0m15 19h0m4-10h0m7-8h0m4 8h0m33-2h0m10-2h0m8 16h0m4-10h0m0-8h0m12 16h0m5-10h0m10 1h0m9-3h0m1 4h0m15 8h0m12-10h0m1 11h0m28-11h0m1-6h0m3 0h0m5 11h0m3-14h0m11 19h0m0-11h0m6 9h0m1-13h0m3 14h0m2-5h0m9 3h0m0-17h0m9 19h0m9-12h0m2 15h0m5-2h0m6 1h0m13 1h0m2-2h0m2-9h0m4 4h0m25-4h0m8 4h0m0 4h0m4-2h0m11-15h0m4 1h0m3 9h0m5 3h0m16 2h0m2 18h0m-2 10h0m-7-10h0m-1-4h0m-7 1h0m-7-4h0m-8 5h0m-3-4h0m-6-6h0m-2 13h0m-23 6h0m-3-2h0m-6-11h0m-11 8h0m-4-2h0m-11 4h0m-12-9h0m-21 11h0m-6-10h0m-7 11h0m-2-9h0m0 13h0m-16-15h0m-7 9h0m-3-14h0m-9 3h0m-2 1h0m-9 17h0m-5-15h0m-12 7h0m-2 4h0m-5-18h0m-6 9h0m-10-5h0m-12 8h0m-4-8h0m-13 17h0m-7-12h0m-3 6h0m-5 2h0m-10-12h0m-2-3h0m-3-1h0m-9 5h0m-1 7h0m-4-10h0m-11 8h0m-3 0h0m-5-7h0m-13 9h0m-8-9h0m-1 12h0m-9-12h0m-4 18h0m-9-11h0m-3 2h0m-14-13h0m-8 1h0m-22 3h0m-6 5h0m-6-6h0m-4 7h0m-2 6h0m-9-5h0m-8-11h0m-5 14h0m-3 1h0m-11-10h0m-16 3h0m-1 9h0m-3-3h0m-20-4h0m-2 10h0m1 18h0m2 6h0m4-14h0m12 15h0m23-14h0m2-7h0m5 18h0m6 2h0m2-1h0m31-15h0m4-4h0m3 18h0m22-13h0m1 10h0m9-8h0m3 3h0m8-3h0m9 11h0m5-4h0m20-8h0m23 11h0m29-7h0m3 1h0m4-12h0m4 7h0m4 0h0m9 9h0m17-1h0m17 0h0m1 7h0m4-16h0m14-2h0m6-5h0m6 6h0m2 8h0m2 4h0m20-9h0m32-7h0m12 2h0m15 18h0m2-17h0m12-3h0m5-1h0m3 18h0m0-13h0m10-6h0m7 18h0m10-16h0m5 6h0m10 7h0m1 2h0m4-2h0m20-10h0m0 14h0m8 0h0m3-11h0m5 13h0m1-8h0m0-12h0m11 15h0m2 6h0m4-14h0m0 23h0m-4 15h0m-10-19h0m-1 17h0m-4 1h0m-15-12h0m-10 7h0m-12-10h0m-18-2h0m-34 5h0m-1 8h0m-24-8h0m-10 4h0m-2-5h0m-2-4h0m-9 15h0m-16-11h0m-4 16h0m-3-5h0m-16 4h0m-3-5h0m-26-15h0m-5-1h0m-5 20h0m-8-19h0m-4-1h0m-3 5h0m-8 2h0m-23 14h0m-2-5h0m-3-7h0m-7 11h0m-25-4h0m-39-7h0m-6 0h0m-1 8h0m-4-2h0m-39-15h0m-1 7h0m-27 9h0m-13-1h0m-14-5h0m-14-6h0m-10 6h0m-24-7h0m-3 2h0m-4 15h0m-4 3h0m4 14h0m4-14h0m3 3h0m1 7h0m3 0h0m1 11h0m11-21h0m4 7h0m4 15h0m6-9h0m8 6h0m0-6h0m2-6h0m9-3h0m1-1h0m19 4h0m32 14h0m4-12h0m10 7h0m17-13h0m32 7h0m12 0h0m2-11h0m4 17h0m0-9h0m10 13h0m19-20h0m3 15h0m6-10h0m13 16h0m41-9h0m5-12h0m8 22h0m1-9h0m3-4h0m18 11h0m4-4h0m11-5h0m0 10h0m5-7h0m12-5h0m14 3h0m2-8h0m5 17h0m7 1h0m2-13h0m21 9h0m5-16h0m13 0h0m19 21h0m17-24h0m7 19h0m10-1h0m6 6h0m13-12h0m14 0h0m4-1h0m1-10h0m4 14h0m4-14h0m-4 38h0m0-9h0m-4 3h0m0 12h0m-1-19h0m-6 11h0m-2 9h0m-4-14h0m-13-7h0m-8 10h0m-8 6h0m-13 1h0m-3-4h0m-5 7h0m-1-14h0m-12-3h0m-20 18h0m-8-10h0m0-7h0m-22 14h0m-4-11h0m-12-5h0m-20 1h0m-6-4h0m-24 9h0m-25 4h0m-1-11h0m-9 20h0m-23-12h0m-2 5h0m-6-13h0m-14 20h0m-9-21h0m-4 17h0m-5 2h0m-53-17h0m-14 21h0m-2-7h0m-10 5h0m-14-7h0m-11-5h0m-3 3h0m-13 9h0m-5-22h0m-9 16h0m-3 2h0m-12 6h0m-3-19h0m-31 11h0m-15-1h0m-20 0h0m0-9h0m-4 3h0m0 12h0m-1-19h0m0 28h0m1 8h0m20-8h0m7 13h0m9-9h0m17-3h0m11 5h0m11-4h0m1 5h0m1-4h0m6 14h0m10-10h0m3 0h0m5 5h0m6-4h0m2 9h0m8-13h0m8 13h0m2-6h0m4-4h0m5 1h0m1 3h0m15-10h0m17-6h0m17 1h0m14 5h0m17 15h0m16-9h0m4-9h0m3-3h0m7 12h0m20-6h0m5-7h0m2 16h0m2-12h0m4-1h0m11 1h0m1-3h0m9 9h0m26-6h0m6-1h0m2 3h0m9 10h0m4-9h0m3 3h0m4-5h0m3 15h0m11-10h0m3-1h0m4 13h0m1-8h0m3 9h0m8-4h0m2-12h0m14-2h0m25 10h0m3-11h0m14 14h0m16-18h0m7 17h0m7 1h0m8-10h0m22 10h0m2-2h0m3-10h0m1 8h0m7 33h0m-8-15h0m-6-3h0m-3 16h0m-23-15h0m0 15h0m-7-17h0m-31-4h0m-13 6h0m-4 3h0m-14 12h0m-19-4h0m-3 0h0m-6-16h0m-1 14h0m-22 8h0m-4-5h0m-19 3h0m-6-9h0m-3 9h0m-7 0h0m-1-21h0m-6 7h0m-1 10h0m-12-5h0m-8-11h0m0 10h0m-3 2h0m-1-2h0m-10-9h0m-2 11h0m-16-11h0m-16 18h0m-10-2h0m-6-9h0m-1-4h0m-3 0h0m-2 14h0m-14-2h0m-32 0h0m-3-3h0m-6 3h0m-2 4h0m-10-17h0m-12 7h0m-1 7h0m-9 1h0m-3-9h0m-10 0h0m-3-2h0m-14 13h0m-9-13h0m-3 4h0m-9-9h0m-4 8h0m-4-5h0m-7 6h0m-4 2h0m-4 3h0m0-3h0m-1 10h0m-4-5h0m-7-10h0m-4 13h0m-4-3h0m-5-11h0m-16-4h0m-11 19h0m8 14h0m25-2h0m7-6h0m14 13h0m3 3h0m6 2h0m1-16h0m0-7h0m9 19h0m5-11h0m8 2h0m4-4h0m5-5h0m9 8h0m4 4h0m24-5h0m1-7h0m11 0h0m8 5h0m12 6h0m6-5h0m1-7h0m8 24h0m14-13h0m3-6h0m2 14h0m6-7h0m6-9h0m7 20h0m7-2h0m8-1h0m19-19h0m10 7h0m22 12h0m3-1h0m0-8h0m33 1h0m19 6h0m26-3h0m21-14h0m1 10h0m4-2h0m15-8h0m7 18h0m3 4h0m6-17h0m6 15h0m42-1h0m13-18h0m1 9h0m3-8h0m10-1h0m6 13h0m1-12h0m3 21h0m-2 10h0m-10 3h0m-3-8h0m-3 6h0m-1-10h0m-3 0h0m-2 10h0m-10-4h0m-15-6h0m-11 20h0m-12-18h0m-5 20h0m-7-4h0m-23 3h0m-8-21h0m-7 4h0m-6 18h0m-1-8h0m-4 5h0m-29-19h0m-1 16h0m-17-2h0m-5-2h0m-3 5h0m-6 0h0m-5-13h0m-20 14h0m-2-14h0m-3 12h0m-4-8h0m-4-2h0m-20 12h0m-4 0h0m0-15h0m-8 0h0m-5-3h0m-6 16h0m-18-1h0m-2 7h0m-5-4h0m-28-15h0m-2 5h0m-12 5h0m-19 10h0m-6-8h0m-21-3h0m-18 1h0m0-3h0m-3 1h0m-15 10h0m-1-22h0m-16 9h0m-8-1h0m-22 6h0m-1 5h0m-19-9h0m-1 8h0m-20-18h0m-2 10h0m11 29h0m6-4h0m18 4h0m5 7h0m17-5h0m10-9h0m14 1h0m14 1h0m14-7h0m10 14h0m7 3h0m3-11h0m1-9h0m16 11h0m6 3h0m5-6h0m5-1h0m1-2h0m5 14h0m18-4h0m12 8h0m3-20h0m6-2h0m2 2h0m33 0h0m16 1h0m4 16h0m16-12h0m9 6h0m10-6h0m6 8h0m0-14h0m11 4h0m10 15h0m3-7h0m10-4h0m7 4h0m4-14h0m2 4h0m7 0h0m28 16h0m2-19h0m7 20h0m53-12h0m5-6h0m6 8h0m28-2h0m9 1h0m25 34h0m-9-16h0m-11 2h0m-15 4h0m-4 13h0m-7 0h0m0-7h0m0-10h0m-2-5h0m-10 10h0m-17 7h0m-19-7h0m-20 3h0m-2-9h0m-19 0h0m-2 15h0m-6-7h0m-11-5h0m-10-1h0m-2 9h0m-40-13h0m-8 17h0m-1-16h0m-4 0h0m-5 13h0m-14 0h0m-6 0h0m-2-10h0m-6 2h0m-4 1h0m-3 3h0m-7-9h0m-23 3h0m-21 0h0m-2-4h0m-33 17h0m-2-18h0m-7 10h0m-4 8h0m-26-8h0m-1 3h0m-9-12h0m-12 20h0m-5 0h0m-2-23h0m-29 5h0m-6 10h0m-25-1h0m-5-14h0m-2 17h0m-9-2h0m-3-5h0m-3 0h0m-4-8h0m-10 18h0m-3 0h0m-7 22h0m7 3h0m16-8h0m14-1h0m11-8h0m2 8h0m14 6h0m29-11h0m9 15h0m1-3h0m3-15h0m4 10h0m5-9h0m3 12h0m11 1h0m3-2h0m10-8h0m16-2h0m12 10h0m29 3h0m7 0h0m3-2h0m2-13h0m7 19h0m4-3h0m21-7h0m27 1h0m8 2h0m9 8h0m2-3h0m3-12h0m7 4h0m5 2h0m17-10h0m11 7h0m11 6h0m20 3h0m3-1h0m2-8h0m6 0h0m6 10h0m7-10h0m4 2h0m1-4h0m1 11h0m2-17h0m4 16h0m8-20h0m14 10h0m8 2h0m6-5h0m1 15h0m2-4h0m2-7h0m7 12h0m1-12h0m9-11h0m1 16h0m2-14h0m5 16h0m24-3h0m7 7h0m5-12h0m9 11h0m2-3h0m7 3h0m-5 20h0m-30-5h0m-1-8h0m-7 19h0m-14-22h0m-37 23h0m-1-21h0m-3-3h0m-16 13h0m-19-13h0m0 6h0m-22 6h0m-17 8h0m-33-11h0m-9 14h0m-4-7h0m-12-3h0m-3-11h0m-11 3h0m-1 15h0m-1-4h0m-4-7h0m-19 9h0m-6 6h0m-1-16h0m-6 16h0m-6-11h0m-4-3h0m-2 2h0m-19 4h0m-2 0h0m-2 3h0m-11-5h0m-6 1h0m-7 9h0m-2-21h0m-3 14h0m-11 0h0m-7 1h0m-7-12h0m-3 3h0m-14-6h0m-6 11h0m-17 8h0m-1-17h0m-6 12h0m-7-7h0m-2-3h0m-2 5h0m-9-9h0m-6 21h0m-10-22h0m-12 17h0m-13-9h0m-3 6h0m-1-11h0m-12 3h0m-8 11h0m-14-2h0m3 18h0m5 1h0m9-2h0m12 6h0m15-10h0m4 15h0m17-8h0m2 7h0m30-10h0m10 13h0m10-2h0m2-7h0m4-10h0m2 7h0m10-3h0m6 0h0m14 6h0m5-2h0m13 3h0m4-8h0m9 0h0m12 1h0m3 1h0m7 7h0m2 3h0m30-12h0m9 16h0m16-22h0m9 20h0m9-6h0m4-8h0m11 0h0m16-3h0m15 11h0m7-7h0m10-8h0m4 14h0m7 3h0m21 1h0m0-16h0m21 17h0m10-9h0m18 13h0m7 1h0m5-21h0m5 4h0m4-3h0m1 18h0m9-12h0m3 5h0m4-5h0m8 11h0m6-1h0m6-1h0m24 0h0m6-8h0m3 18h0m-11 0h0m-22 10h0m-3 5h0m-4 4h0m-25-19h0m-5 18h0m-5-18h0m-7 16h0m-21 0h0m-20-12h0m-4 3h0m-5-9h0m-5 14h0m-5 3h0m-8-11h0m-28 0h0m-11 8h0m-4-2h0m-9-15h0m-12 13h0m-7 9h0m-23-11h0m-2 3h0m-8-7h0m-4 4h0m-7-7h0m-14 14h0m-5-5h0m-11-4h0m-4 2h0m-2-6h0m0-3h0m-5-1h0m-1 3h0m-4 2h0m-6 11h0m-8-6h0m-3 8h0m-6-17h0m-5 1h0m-27 10h0m-6 10h0m-3-7h0m-4-13h0m-14 8h0m-8 1h0m-4-5h0m-1 14h0m-13-9h0m-2 5h0m-9 2h0m-4-3h0m-11-8h0m-4 12h0m-2 3h0m-12-19h0m-1 12h0m-1 3h0m-21-3h0m0-4h0m-7 6h0m-16 1h0m-3-14h0m13 28h0m14 5h0m19 7h0m2-12h0m15 1h0m4 11h0m11-15h0m6 2h0m20 5h0m1-11h0m5 7h0m11-8h0m11 12h0m12-13h0m12 10h0m4 7h0m2-10h0m6 16h0m3-14h0m12 13h0m17-9h0m15-9h0m11 6h0m8 6h0m1-13h0m2 5h0m5 15h0m0-9h0m4 9h0m1-14h0m19 5h0m6-13h0m12 1h0m3 0h0m23 3h0m21 15h0m1-15h0m16 18h0m3-9h0m2-9h0m19-4h0m12 12h0m4 8h0m10-8h0m16-11h0m5 22h0m13-1h0m11-17h0m5 13h0m4 1h0m6-15h0m0 17h0m24-15h0m3 5h0m1-12h0m15 4h0m9 37h0m-20 0h0m-9-14h0m-1 13h0m-2 2h0m-1-5h0m-2-7h0m-1 3h0m-9 12h0m-4-14h0m-4 4h0m-4 0h0m-4 9h0m-33-19h0m-17 1h0m-5 3h0m-13 7h0m-5-2h0m-8-9h0m-9 22h0m-1-5h0m-10-15h0m-11 11h0m0-12h0m-32 5h0m-10 8h0m-11-13h0m-7 1h0m-1-3h0m-7 6h0m-2 17h0m-7-6h0m-3-9h0m-35 2h0m-5-5h0m-16 2h0m-28 11h0m-2-15h0m-3 16h0m-29-7h0m-15 9h0m-10-20h0m-2 22h0m-2-6h0m-23-4h0m-6-9h0m-6 18h0m-3-3h0m-22-8h0m-3 12h0m-17-14h0m0-5h0m-6 4h0m-18 2h0m-8 7h0m8 26h0m38-9h0m18 5h0m0-11h0m9 9h0m3 2h0m11-10h0m2 16h0m6-17h0m4 8h0m3 12h0m16-21h0m2 14h0m25-1h0m29-9h0m4 7h0m2-12h0m9 18h0m3-14h0m3 4h0m0 12h0m1-18h0m0 14h0m24 3h0m13-3h0m8-5h0m26 5h0m1 4h0m38-3h0m2-12h0m18 15h0m8-5h0m13-5h0m16 2h0m8-4h0m10-4h0m21 6h0m15-5h0m4-5h0m4 14h0m4 5h0m1-6h0m2 3h0m12 0h0m1-16h0m20 3h0m3 18h0m2-12h0m6-8h0m3 2h0m9 13h0m7-9h0m4 7h0m4-6h0m7 26h0m-60-9h0m-10 9h0m-5-5h0m-1-4h0m-11 5h0m-16-5h0m-11 7h0m-58 2h0m-17-6h0m-29-6h0m-22 6h0m-43-3h0m-4 5h0m-2 2h0m-24-6h0m-8 3h0m-12 6h0m-25-1h0m-27-1h0m-21 1h0m-6 0h0m-3-6h0m-3 3h0m-8-3h0m-29 4h0m-6-4h0m-33-2h0m-5-3h0m-13 11h0"/>
<pattern id="pn" patternUnits="userSpaceOnUse" width="512" height="512">
<g fill="none" stroke="#87ceeb" stroke-linecap="round" stroke-opacity="0.6">
<use href="#pn0" stroke-width="8.33"/>
<use href="#pn1" stroke-width="8.33"/>
<use href="#pn2" stroke-width="8.33"/>
<use href="#pn3" stroke-width="8.33"/>
<use href="#pn4" stroke-width="8.33"/>
<use href="#pn5" stroke-width="8.33"/>
<use href="#pn0" stroke-width="4.17"/>
<use href="#pn1" stroke-width="4.17"/>
<use href="#pn2" stroke-width="4.17"/>
<use href="#pn3" stroke-width="4.17"/>
<use href="#pn4" stroke-width="4.17"/>
<use href="#pn5" stroke-width="4.17"/>
</g></pattern>
<path id="ps0" d="M202 -3h0m-19 2h0m-28-1h0m-18-3h0m-19 5h0m-10-2h0m-14-3h0m-53 3h0m-43 4h0m10 12h0m8-9h0m0-5h0m5 12h0m15 8h0m3-9h0m1-7h0m5 8h0m0 7h0m4 4h0m9-20h0m7 5h0m2 10h0m4-10h0m1-7h0m4 3h0m17 1h0m11 16h0m12-3h0m5-7h0m6-7h0m4 18h0m8-8h0m6-8h0m14 1h0m1 7h0m14 7h0m4-17h0m13 11h0m18 3h0m3 5h0m9-15h0m10 13h0m5-2h0m18-17h0m2 42h0m-8 1h0m-1-15h0m-1 7h0m-8-2h0m-15 7h0m-3-12h0m-5 7h0m-10-12h0m-5 18h0m-2-7h0m-1-6h0m-4 7h0m-17 4h0m-4-3h0m0 6h0m-6-2h0m-14 2h0m-6-13h0m-3-4h0m-17 12h0m-9 0h0m-5 2h0m0-5h0m-6-6h0m-8-4h0m-5 16h0m-6 0h0m-2 5h0m-6-6h0m-4-8h0m0 13h0m-3-19h0m-7 5h0m-11 13h0m-5-6h0m-7-15h0m-9 5h0m-16 14h0m-7 5h0m-10-4h0m-3 19h0m4 7h0m15-21h0m0 10h0m3 11h0m3-5h0m17-8h0m3 13h0m2-14h0m7 8h0m1-8h0m0-6h0m15 6h0m15 2h0m3 10h0m6-9h0m27-11h0m1 5h0m5-4h0m1 15h0m3-11h0m16 15h0m15-2h0m8-13h0m4 3h0m8 14h0m7-14h0m0 15h0m1-7h0m10-10h0m7 9h0m8-5h0m3 11h0m2-14h0m8 2h0m11 9h0m5-15h0m3 7h0m9 5h0m4 7h0m2 16h0m-3 8h0m-19 1h0m-7-20h0m-5 7h0m-5 11h0m-14-5h0m-6-7h0m-6 8h0m-3-8h0m-15 6h0m0-12h0m-19 13h0m-2-15h0m-3 16h0m-8-15h0m-4 14h0m-4 7h0m-3-7h0m-7-10h0m-3 5h0m0 11h0m-7-2h0m-6 1h0m-4-14h0m-9 13h0m-5-9h0m-10 0h0m-1-7h0m-3 13h0m-4-11h0m-18 0h0m-3 13h0m-14 4h0m-7-4h0m-6-12h0m-1 11h0m-15-14h0m-3 7h0m-4 3h0m-3 8h0m-2 17h0m13-14h0m5 19h0m12 1h0m8-12h0m15-2h0m10 14h0m3-11h0m5 8h0m11 0h0m11-5h0m14-3h0m1 9h0m3-14h0m16 6h0m3-4h0m3-5h0m16 1h0m2 13h0m3 4h0m0-9h0m1-5h0m4-5h0m4 10h0m10-7h0m5 14h0m6-4h0m6-3h0m3 8h0m4-16h0m10 10h0m18 4h0m7-5h0m9 2h0m15 1h0m4 11h0m-2 17h0m-5-1h0m-2-17h0m-3 14h0m-7-15h0m-8 16h0m-2-8h0m-2-6h0m-8 9h0m-2-6h0m-11 4h0m-7-4h0m-3 10h0m-2-14h0m-3 14h0m-1-5h0m-11 9h0m-7 1h0m-8 3h0m-8-5h0m-1 5h0m-1-14h0m-10 1h0m-5 3h0m-1 7h0m-8-6h0m-6-7h0m-18 16h0m-14-21h0m-5 5h0m-1 4h0m-16-5h0m-10 9h0m-1-13h0m-2 5h0m-4 8h0m-1-9h0m-14 15h0m-5-11h0m-1 7h0m-6 1h0m-16 2h0m-5-5h0m-3-13h0m-2 17h0m2 11h0m13 12h0m15-3h0m11-2h0m14 9h0m26-15h0m5 12h0m7-3h0m1-13h0m6 13h0m11-9h0m7 4h0m3 5h0m10-14h0m13 15h0m20-10h0m2 13h0m7-11h0m5 11h0m16-5h0m2 5h0m15-19h0m6 12h0m1 8h0m8-14h0m2 5h0m14 3h0m16-9h0m-12 27h0m-11-5h0m-9 13h0m-1-8h0m-4 4h0m-14 0h0m-13 11h0m-2-7h0m-6-15h0m-5 13h0m-2-11h0m-7 6h0m-5-7h0m-6 11h0m-15-2h0m-8-5h0m-6-6h0m-2 10h0m-4 3h0m-12-10h0m-16 0h0m-6 1h0m-1 15h0m-10-19h0m-10 13h0m-5-12h0m-1 13h0m-7-11h0m-11 18h0m-10-19h0m-6 7h0m-3-8h0m-12 2h0m-3 17h0m-4-7h0m5 16h0m3 11h0m0-17h0m12 17h0m0-13h0m5 10h0m17 0h0m5-4h0m3 6h0m5-2h0m10-1h0m8 4h0m8 3h0m12-3h0m6-16h0m6 0h0m12 6h0m7 7h0m2 5h0m4-4h0m15-5h0m6-6h0m0 12h0m2 5h0m7-8h0m3 4h0m4-8h0m3 10h0m17-10h0m12 4h0m11 2h0m23-8h0m13 28h0m-7-8h0m-12 6h0m-33-2h0m-3 8h0m-3 5h0m-1-13h0m-5-2h0m-2 18h0m-3-15h0m-7 10h0m-4-14h0m-2 19h0m-2-8h0m-3-7h0m-8 13h0m-5-18h0m-9 17h0m-5-5h0m-10-2h0m-9 6h0m-8-17h0m-1 22h0m0-13h0m-16 12h0m-4-9h0m-13-2h0m-20-1h0m-13 8h0m-5 1h0m-1-18h0m-5 18h0m-18-18h0m0 21h0m-9 0h0m-2-11h0m-1-9h0m-1 15h0m-6-7h0m-1 31h0m18-2h0m8-9h0m9-7h0m7 20h0m1-6h0m4-5h0m13 10h0m14-2h0m1-17h0m3 20h0m10-15h0m7 16h0m1-10h0m14 3h0m10 2h0m9 4h0m7-15h0m3 6h0m5-4h0m13 7h0m22-4h0m1 10h0m5-5h0m15-7h0m4 5h0m15-12h0m33 4h0m4 13h0"/>
<path id="ps1" d="M240 -3h0m-51-1h0m-104 3h0m-8 0h0m-77 22h0m2-11h0m6-1h0m9 13h0m8-1h0m1-17h0m5 20h0m2-17h0m15-2h0m6 12h0m5 4h0m14 0h0m11-16h0m3 6h0m11-1h0m11 10h0m1-15h0m10 16h0m7-3h0m2-5h0m7 6h0m0-17h0m8 14h0m5-14h0m5 12h0m4 9h0m11-16h0m14 11h0m1 5h0m10-14h0m1-7h0m8 8h0m6-2h0m6 5h0m2 5h0m5-3h0m2 7h0m5-21h0m5 1h0m6 1h0m5-2h0m1 9h0m4 5h0m6 6h0m2-11h0m0 24h0m-21 6h0m-1-15h0m-6 11h0m-9 1h0m-3 8h0m-6-13h0m-2 11h0m-19-1h0m-5-14h0m-1 10h0m-2 5h0m-9-11h0m-5 0h0m-6 0h0m-4 6h0m-4-10h0m-14 7h0m-6-6h0m-3 6h0m-3 10h0m0-16h0m-28 15h0m-1-13h0m-17-4h0m-5 0h0m-12 17h0m-9-13h0m-19 13h0m-3-6h0m-9-3h0m-7-2h0m-2-4h0m-9 9h0m0-11h0m-6 7h0m-5 19h0m3 4h0m8-4h0m7 14h0m8-15h0m1 7h0m1 13h0m14-20h0m2 11h0m5-2h0m4 9h0m10-4h0m7-2h0m5-3h0m8-12h0m8 2h0m8 13h0m5 7h0m1-12h0m8-2h0m1 9h0m4 5h0m5-5h0m7-6h0m5 12h0m3-21h0m8 9h0m16-6h0m4 3h0m2 7h0m5 4h0m1-18h0m4 10h0m6 5h0m18 3h0m1-18h0m6 4h0m6 11h0m13 7h0m3-10h0m4 8h0m7-11h0m2 5h0m7 5h0m5-16h0m3 4h0m-2 22h0m-3-4h0m-9 18h0m-3-11h0m-12 6h0m-13 7h0m-9-20h0m-19 15h0m-3-6h0m-12 9h0m-9-3h0m-1-13h0m-16 14h0m-16 3h0m-23-5h0m-6-2h0m-3-8h0m-4 17h0m-3-18h0m-2 11h0m-17 1h0m-14-2h0m-11-9h0m-14-3h0m-11 0h0m0 8h0m-23-5h0m-3-4h0m19 27h0m13-1h0m8-3h0m2 14h0m9-16h0m1 20h0m10-8h0m5-7h0m1 12h0m12-2h0m2-11h0m8 2h0m10-1h0m20 6h0m5-9h0m6 17h0m4 4h0m5 1h0m4-16h0m2 8h0m10-16h0m11 17h0m1 6h0m4-2h0m9-12h0m4-8h0m3 6h0m16 8h0m1-13h0m8 7h0m4 8h0m1 7h0m4-8h0m2 6h0m1-17h0m12 14h0m13-3h0m5 2h0m0-14h0m0 30h0m-6-6h0m-7 8h0m-16 11h0m-8-5h0m-6 4h0m-6-7h0m-9 5h0m-5 2h0m-4-22h0m-10 9h0m-11-3h0m-15 11h0m-1-15h0m-7 2h0m-7 3h0m-10 11h0m-6-3h0m-5 3h0m-1-12h0m-2 5h0m-3 7h0m-2-14h0m-6 18h0m-4-9h0m-12-4h0m0 7h0m-10 6h0m-25-19h0m-1 14h0m-4-10h0m-14 2h0m-10-3h0m-10 0h0m-7 18h0m1 14h0m4 3h0m0 6h0m17-19h0m4 14h0m20 3h0m1-13h0m7-4h0m9 1h0m1 13h0m4-4h0m8 7h0m1-17h0m7-3h0m4 10h0m4 12h0m7-12h0m1 12h0m5-14h0m4 7h0m4 3h0m0-6h0m12-8h0m1 13h0m3-5h0m10-7h0m5-5h0m4 13h0m2-9h0m5 4h0m0 13h0m7-10h0m13-8h0m5 8h0m2-7h0m3 12h0m5-10h0m6-1h0m6 12h0m2-13h0m6 17h0m2-9h0m5-9h0m15-4h0m5 11h0m2-7h0m17-4h0m1 14h0m4 3h0m0 6h0m-6 4h0m-1 12h0m-12 5h0m-1-13h0m-11 3h0m-3-9h0m-3 23h0m-8-14h0m-4 9h0m-10-19h0m-25 22h0m-6-2h0m-11 2h0m-8-9h0m-1-11h0m-9 14h0m-8-1h0m-2-9h0m-2 16h0m-6-19h0m-6 19h0m-3-5h0m-2-6h0m-2-11h0m-3 8h0m-7 2h0m-4 10h0m-12-10h0m-13-3h0m-20 8h0m0-11h0m-6 6h0m-6 7h0m-6-1h0m-8-3h0m-5 8h0m0-14h0m-1 7h0m-14 6h0m-7-17h0m-1 12h0m0 9h0m1 17h0m0 5h0m3-14h0m36 11h0m2-17h0m4 8h0m2 13h0m10 0h0m8-15h0m2-8h0m4 20h0m8-19h0m0 20h0m12-10h0m3-6h0m10 1h0m8 0h0m3 14h0m9-5h0m4 3h0m11-11h0m11-4h0m21 0h0m13 6h0m9 15h0m5-5h0m4-14h0m2-5h0m8 19h0m3-6h0m3-6h0m8-1h0m9-5h0m4 18h0m5-3h0m3-15h0m8-1h0m1 17h0m0 5h0m3-14h0m-5 35h0m-6 5h0m-9-10h0m-10 1h0m-3 8h0m0-14h0m-4-8h0m-1 10h0m-5 7h0m-1-13h0m-22 12h0m-12-16h0m-2 23h0m-1-11h0m-10-11h0m-6 3h0m-7 17h0m-8-18h0m0 7h0m-5-2h0m-2-7h0m-2 20h0m-7-21h0m-2 19h0m-21-16h0m-3 12h0m-9-9h0m-7-3h0m-7 3h0m-10 9h0m-5-11h0m-5 12h0m-3 5h0m-2-14h0m-18 6h0m-13 1h0m-2-11h0m-4 6h0m-22 9h0m7 15h0m8-5h0m14 15h0m13-14h0m5-2h0m4 17h0m5-11h0m11-6h0m8 6h0m5 5h0m8 0h0m19-13h0m23 1h0m1 7h0m8 8h0m8-17h0m5 17h0m7-14h0m7-2h0m26 10h0m6 6h0m12-17h0m19 8h0m3 8h0m3-8h0m2 9h0m4-11h0m2 12h0m0-6h0m1-11h0m4 15h0m1-8h0m14 1h0"/>
<pattern id="ps" patternUnits="userSpaceOnUse" width="256" height="256">
<g fill="none" stroke="#87ceeb" stroke-linecap="round" stroke-opacity="0.6">
<use href="#ps0" stroke-width="8.33"/>
<use href="#ps1" stroke-width="8.33"/>
<use href="#ps0" stroke-width="4.17"/>
<use href="#ps1" stroke-width="4.17"/>
</g></pattern>
<path id="pm0" d="M254 -5h0m-63 5h0m-25-1h0m-8 0h0m-10-2h0m-31 0h0m-7 3h0m-33-2h0m-28 0h0m-4-1h0m-21 0h0m-26-2h0m-1 27h0m7-3h0m3-8h0m4-5h0m4-4h0m8-2h0m6 14h0m7 6h0m4 3h0m3 0h0m9-19h0m0 19h0m17-2h0m2-7h0m0-6h0m1 15h0m7-2h0m18-16h0m2-4h0m2 12h0m6-2h0m13-8h0m1 21h0m7-8h0m2 4h0m3-11h0m7-2h0m2-2h0m1 9h0m4-11h0m10 11h0m7 5h0m1-4h0m1-7h0m2 8h0m1-9h0m4 9h0m0 7h0m1-3h0m4-5h0m1-13h0m10 3h0m9 6h0m2 4h0m2 8h0m5-16h0m0-5h0m3 18h0m2 4h0m1-15h0m2 3h0m0-11h0m10 23h0m1-9h0m12 6h0m13-17h0m2 18h0m7-3h0m-6 13h0m-7 8h0m-25-15h0m-4 23h0m-6-4h0m-5-12h0m-9 15h0m-2-3h0m-3-3h0m-1-13h0m-8 8h0m-7 7h0m-21-18h0m-2 18h0m-4 1h0m-9-10h0m-3 9h0m-3-16h0m-13 17h0m-3-3h0m-7-12h0m-3 14h0m0-16h0m-3 3h0m-2 7h0m-3-9h0m0-4h0m-1 18h0m-2-4h0m-2-9h0m-3-3h0m-4 5h0m-2 2h0m-5 9h0m-3-6h0m-6-8h0m-4 14h0m-1-16h0m-3 21h0m-16-17h0m-6-2h0m0 6h0m-24 9h0m-4-18h0m-8 4h0m-1 19h0m-1-11h0m-7-5h0m11 36h0m5-2h0m18-4h0m1-6h0m6-6h0m4-1h0m7 16h0m4 4h0m7-15h0m13 6h0m7-1h0m3 11h0m9-19h0m0 5h0m11-5h0m1 20h0m5-8h0m7-13h0m0 20h0m4-3h0m8 0h0m0 5h0m11-8h0m1-12h0m8 14h0m7-5h0m3 10h0m7-7h0m5-14h0m7 9h0m3-5h0m8 6h0m2-12h0m4 18h0m9-9h0m11-1h0m3-5h0m0 10h0m9 0h0m3 3h0m0-14h0m11 17h0m3 2h0m7-9h0m-1 29h0m-1-17h0m-5 18h0m-2 4h0m-6-13h0m-4 14h0m-6-4h0m-19-12h0m-5 5h0m-4-1h0m-10-3h0m-4 1h0m-12-4h0m-1 4h0m-3 5h0m-10 9h0m-7-2h0m0-15h0m-4 9h0m-2-3h0m-4-12h0m-2 11h0m-21 6h0m-6 4h0m-2-7h0m-1 9h0m-8-5h0m-4-6h0m-5 9h0m-4-19h0m-4 15h0m-11 2h0m-7-11h0m-8-4h0m-19 15h0m-7-16h0m-4 5h0m-1 13h0m-3-6h0m-9 5h0m-3-9h0m-2 7h0m-4 0h0m-5 25h0m3-16h0m4 10h0m1 11h0m1-7h0m7-14h0m8 4h0m9 11h0m0-13h0m3-2h0m10 13h0m3-4h0m8 3h0m9-6h0m8 1h0m1 4h0m3-3h0m9-1h0m7 13h0m3-1h0m1-4h0m2-9h0m1 9h0m7-12h0m13 18h0m5-18h0m0 5h0m1 9h0m3-1h0m10-18h0m13 16h0m0 4h0m4-5h0m3-7h0m3 15h0m0-22h0m22 9h0m1 9h0m10-18h0m9 20h0m4-10h0m3 6h0m2-7h0m13-7h0m2 8h0m5 2h0m1-5h0m0 14h0m5-7h0m9-15h0m7 18h0m3-16h0m1 34h0m-3 1h0m-16-12h0m-22-1h0m-3 3h0m-3 12h0m0-14h0m-4 14h0m-7-5h0m-11-7h0m-10 10h0m0-6h0m-7 16h0m-2-12h0m-1-11h0m-14 8h0m-12-8h0m-13-1h0m-15 14h0m-31 7h0m-7-8h0m-1-10h0m-5-2h0m-11 23h0m-6-18h0m-4 15h0m-12-1h0m-2-12h0m-22-6h0m-3 4h0m-9 7h0m-3 1h0m0 30h0m6-19h0m1 14h0m6 2h0m8-4h0m7 2h0m9 7h0m9-7h0m8-2h0m0 3h0m7-6h0m1 12h0m5-6h0m4-5h0m2 7h0m2-15h0m5 12h0m1 3h0m2-6h0m11 2h0m13-11h0m2 14h0m5-3h0m4-8h0m0 9h0m3-13h0m3 6h0m4-6h0m13 11h0m3 8h0m2-9h0m12-9h0m10 0h0m4 0h0m9-3h0m2 14h0m3 0h0m4 9h0m4-7h0m9-16h0m3 11h0m3 3h0m2-12h0m2 13h0m0-3h0m2-12h0m17 14h0m1-11h0m7 17h0m7-16h0m9 16h0m-3 13h0m-3 3h0m-4-11h0m-3 17h0m-1 6h0m-48-8h0m-6-4h0m-11 2h0m-2-13h0m-2 13h0m-1-9h0m-3 1h0m-1 13h0m-3-6h0m-7-11h0m-4 16h0m-7-2h0m-7-4h0m-3 4h0m-1-8h0m-5 9h0m0-5h0m-3-6h0m-5 5h0m-3 2h0m-1 8h0m-2-16h0m-2 6h0m-6 1h0m-1-6h0m-2-2h0m0 13h0m-16 4h0m0-10h0m-7-1h0m-3 12h0m-15-3h0m-12-4h0m0 6h0m-5-7h0m-11-5h0m-4 14h0m-1-19h0m-6 14h0m-20 2h0m-9-11h0m-3 3h0m8 25h0m5 2h0m2-6h0m2 10h0m3-9h0m2-5h0m10 4h0m3 4h0m1-4h0m8-5h0m4 13h0m9 1h0m6 3h0m2-10h0m2-4h0m4 7h0m6 7h0m2-6h0m1-11h0m2 18h0m3-12h0m2 13h0m2-14h0m6 9h0m12-7h0m3-6h0m11-4h0m5 6h0m1-3h0m4 20h0m1-13h0m5 3h0m1-13h0m3 23h0m3-21h0m6 10h0m6-7h0m3 2h0m1 6h0m13-3h0m2 4h0m4-10h0m3 9h0m4 0h0m3 4h0m15 2h0m10-7h0m3-6h0m14-4h0m0 5h0m1 14h0m3-9h0m3-11h0m2 6h0m24 5h0m0 31h0m-9-3h0m-13-4h0m-4-5h0m0 16h0m0-9h0m-2-4h0m-8-4h0m-11-4h0m-6 7h0m0 7h0m-4-17h0m-14 6h0m-9 17h0m-3-10h0m-4 1h0m-3-11h0m-4 4h0m-9-5h0m-5 17h0m-7 5h0m-6-22h0m0 21h0m0-17h0m-2 8h0m0 4h0m-5-6h0m-11 8h0m-4-8h0m-2 12h0m-10-13h0m-1-6h0m-17 0h0m-5 2h0m-7 3h0m-1 13h0m-2-14h0m-7 12h0m-2-3h0m-8-18h0m-11 3h0m-1 6h0m-2 5h0m-3-10h0m-7 8h0m-2 3h0m-2 2h0m-1-15h0m-8 16h0m0-3h0m-1-4h0m-6-7h0m-4 13h0m-3 3h0m-6 15h0m4-4h0m13 11h0m8-17h0m0 15h0m1-3h0m8-8h0m3 4h0m10 4h0m1-3h0m3 4h0m3 6h0m5-12h0m4 3h0m14 0h0m2 3h0m11-12h0m11 15h0m11-1h0m2-15h0m5 12h0m3 6h0m1-9h0m21 11h0m4-17h0m1 15h0m1-6h0m10 2h0m8 0h0m7-14h0m1 7h0m5 10h0m6-11h0m6 9h0m3-8h0m13 10h0m6-13h0m2 12h0m4-11h0m2-6h0m3 2h0m5 4h0m13-3h0m9 17h0m3-9h0m4-4h0"/>
<path id="pm1" d="M239 -3h0m-12-2h0m-52 5h0m-24-4h0m-56 2h0m-3 1h0m-12 0h0m-38-4h0m-10 2h0m-3-2h0m-20 0h0m-12 23h0m8-2h0m1-13h0m22 1h0m6 20h0m5-12h0m7-8h0m2 3h0m3 9h0m5 7h0m0-4h0m5 3h0m12-17h0m3-4h0m3 16h0m4-13h0m0 6h0m14 10h0m17-19h0m1 16h0m7 1h0m1-10h0m2-3h0m5-4h0m6 10h0m1-10h0m17 11h0m1-5h0m7 14h0m0-13h0m17 12h0m3-18h0m1 4h0m2 3h0m8 11h0m3-4h0m6-15h0m1 11h0m16 2h0m4-11h0m1 4h0m2 11h0m3-17h0m1 3h0m2 17h0m2-20h0m2 3h0m1 4h0m9 0h0m2-8h0m5 18h0m5 9h0m-3 15h0m-3-6h0m-5 0h0m-8-2h0m-8 3h0m-3 5h0m-2-15h0m-3 20h0m-2-12h0m-4 8h0m-6-4h0m-6 0h0m-4 2h0m-3-2h0m-2-10h0m-10 9h0m-2 10h0m-4-22h0m-5 20h0m-9 2h0m-2-19h0m-2 15h0m-2-9h0m-3-2h0m-3 6h0m-11 6h0m-4-17h0m-6 5h0m-2 13h0m-5-7h0m-6-6h0m-3 11h0m-18-9h0m-5 11h0m-7-10h0m-1 5h0m-2 6h0m0-18h0m-1 10h0m-3 9h0m-7-5h0m-16-17h0m-19 20h0m0-14h0m-25 13h0m-2-3h0m-9-15h0m-3 15h0m-3-6h0m19 33h0m5-9h0m6 10h0m13-14h0m4 13h0m3 2h0m1-9h0m5-3h0m9 3h0m9-11h0m16 16h0m0-7h0m2-11h0m5 20h0m0-3h0m3-12h0m7 13h0m7-10h0m1-8h0m13 20h0m3-16h0m10-1h0m9 10h0m8 6h0m5-19h0m12 19h0m6-16h0m1 11h0m6-2h0m2 4h0m18-16h0m3 18h0m1-8h0m5 6h0m10-12h0m2-2h0m4 17h0m4-1h0m3-14h0m4 8h0m2-3h0m5 8h0m4 11h0m-1 6h0m-25-2h0m-11 15h0m-1-10h0m-4-3h0m-2 4h0m0 5h0m-5 2h0m-4-8h0m-15 0h0m-1 6h0m-7-11h0m-12-1h0m-2 9h0m-2-9h0m-10 3h0m-6 9h0m-2-6h0m-3 10h0m-5-13h0m-8-5h0m-13 5h0m-6 5h0m-3-2h0m-4 10h0m-4-1h0m-1-11h0m-3-11h0m-9 11h0m-9-7h0m-2 12h0m-1 4h0m-6-19h0m-7 19h0m-6 2h0m-6-14h0m-4 13h0m-2-22h0m-4 16h0m-6-15h0m-15 16h0m-8-16h0m-11 27h0m4-1h0m6 7h0m5-5h0m4 8h0m5 4h0m5 0h0m2-4h0m5-11h0m6 13h0m5-5h0m6-6h0m12 1h0m25 18h0m0-17h0m5 0h0m3 7h0m4-11h0m7 8h0m11 3h0m3-12h0m9 23h0m13-12h0m3 10h0m6-4h0m5-4h0m1-8h0m5-2h0m1 19h0m0-9h0m8 5h0m2-13h0m2-4h0m7 1h0m0 13h0m5-9h0m0 9h0m3 0h0m1-14h0m3 22h0m8-4h0m7-2h0m12 2h0m6-14h0m11-4h0m4 5h0m6-3h0m5 0h0m4-1h0m2 41h0m0-16h0m-8-4h0m-1 14h0m-6 7h0m-5-3h0m-3 1h0m-2 4h0m-2-10h0m-6-9h0m-5 4h0m-4 1h0m-5-4h0m-1-3h0m-2 3h0m-1 15h0m0-18h0m0 11h0m-9 1h0m-2-7h0m0 10h0m-6-9h0m-4 1h0m-8 2h0m-1 5h0m-2-7h0m-6 10h0m-1-11h0m-1-6h0m-1 15h0m-3-9h0m-19 6h0m-3 5h0m-1-9h0m-2 4h0m-2-2h0m-3 5h0m-8-2h0m-3 7h0m-1-5h0m-1-15h0m-3 1h0m-7 19h0m-8-3h0m-1-8h0m-3-2h0m-8-6h0m-1 9h0m-3-4h0m-4 11h0m-3 0h0m-7-9h0m-9 4h0m-16-4h0m-13 13h0m-11-1h0m-10-13h0m-3-1h0m-4 9h0m-4 3h0m0-16h0m-2 42h0m3-17h0m2 8h0m5-4h0m6 11h0m3-13h0m4-5h0m2 8h0m2-3h0m7 8h0m0 9h0m1-3h0m1-12h0m4 7h0m8-7h0m12-2h0m4 7h0m4-14h0m0 13h0m15-13h0m6 4h0m11 20h0m17-19h0m1 19h0m7-10h0m3 9h0m3-4h0m6-12h0m3-5h0m0 9h0m2 7h0m3-17h0m2 2h0m7 8h0m6-1h0m22-6h0m1 17h0m5-14h0m0-6h0m8 12h0m7-10h0m36 6h0m2-3h0m6 8h0m4-13h0m5 21h0m3-17h0m2 8h0m-5 14h0m-16 14h0m-1-9h0m-2 12h0m-7 1h0m-5-15h0m-1 9h0m-1-14h0m-1 10h0m-8-3h0m-5-4h0m-1 15h0m-6 5h0m-3-24h0m-1 20h0m-14-3h0m-19 0h0m0-4h0m-3-6h0m-1 11h0m-2-12h0m-1-4h0m-9 10h0m-12 4h0m-12-10h0m-2-3h0m-1 21h0m-9-3h0m-1-18h0m-4 8h0m-3 9h0m-2-11h0m-1 3h0m-6 3h0m-6-9h0m-5-3h0m-7 9h0m0 10h0m-4-12h0m-2-5h0m-8 6h0m-6-11h0m-3 4h0m-4 2h0m-4 4h0m-2-6h0m-1 10h0m-3 5h0m-2-7h0m-9-9h0m-8-1h0m0 7h0m-9 8h0m-4-14h0m-9 0h0m-2 43h0m2-16h0m1 9h0m2 6h0m2-20h0m0 7h0m11-6h0m8 13h0m14 3h0m1-8h0m22-10h0m3 21h0m0-20h0m6 22h0m2-13h0m3-8h0m1 6h0m14 2h0m3 1h0m3-9h0m8 3h0m5 17h0m0-15h0m2-4h0m1 11h0m6-3h0m9-9h0m16 11h0m11-11h0m11 2h0m10 5h0m2 8h0m13-10h0m1-4h0m16 18h0m5-2h0m5-15h0m1 17h0m15-21h0m4 20h0m3-9h0m1 12h0m7-6h0m1-6h0m2-10h0m3 21h0m2-16h0m1 9h0m2 6h0m2-20h0m0 7h0m-2 19h0m-2-2h0m-4 6h0m-7 4h0m-10-10h0m-4 20h0m-3-18h0m-2 10h0m-2-11h0m-8 19h0m0-6h0m-5 2h0m-5-11h0m0 8h0m-7 9h0m-4-7h0m-3-4h0m-5-1h0m-2 12h0m-4-21h0m-9 17h0m-4-8h0m-1-10h0m-6 4h0m-1 8h0m-1 11h0m-7-1h0m-1-9h0m-1 8h0m-8-19h0m-7 3h0m-3 13h0m-4 1h0m-3-14h0m-12 9h0m-5 2h0m0 5h0m-13-8h0m0 9h0m-5-20h0m-1 5h0m-1 12h0m-25-16h0m-1 8h0m-8 5h0m0-12h0m-10 17h0m-7-5h0m-5-10h0m-6 14h0m-3-15h0m-7 16h0m-2-19h0m-6 10h0m-6-10h0m-2-2h0m-4 6h0m1 19h0m7 0h0m2 17h0m3-8h0m4-8h0m14 4h0m1 13h0m1-9h0m3 2h0m2-11h0m8 9h0m4 9h0m10-18h0m4 2h0m5 6h0m11 7h0m4-2h0m3 5h0m9-5h0m3-1h0m16-4h0m3 7h0m6-16h0m10 16h0m5-11h0m2 11h0m7-10h0m3 0h0m4 5h0m2-3h0m22 7h0m3-12h0m4 14h0m20-1h0m21-8h0m0 10h0m4-8h0m2 6h0m1 3h0m3-10h0m1 7h0m2 3h0m3-7h0m9 3h0m5-14h0m7 0h0"/>
<path id="pm2" d="M259 -4h0m-15-1h0m-14 3h0m-18-1h0m-6 2h0m-20 0h0m-12-2h0m-5 2h0m-27-3h0m-10 1h0m-29 2h0m-31 0h0m-11 0h0m-5-2h0m-37 0h0m-16-1h0m-2 9h0m10 16h0m7-18h0m1 7h0m7 11h0m5-13h0m1 13h0m5-19h0m8 12h0m2 4h0m5-8h0m4-6h0m4 7h0m27-10h0m2 5h0m19 1h0m4 11h0m4 5h0m8-1h0m3-12h0m2 13h0m12-23h0m3 22h0m4-11h0m6 10h0m5-5h0m4-14h0m0 11h0m10-8h0m0 5h0m6-2h0m7 5h0m3 1h0m6-8h0m3 14h0m11-7h0m1-12h0m8 18h0m2-12h0m4 4h0m0 9h0m7-3h0m4 2h0m5-11h0m4 13h0m3-3h0m10-13h0m2 29h0m-3-9h0m-7 21h0m0-14h0m-5 0h0m-13 11h0m-10-2h0m-6-4h0m-21-1h0m-14-5h0m-5 6h0m-9-1h0m-4-11h0m-5 20h0m-5-13h0m-2-2h0m-2 6h0m-11-3h0m-1 4h0m-2-12h0m-25 13h0m-4-4h0m-12 7h0m0-3h0m-16-14h0m-3 8h0m-4 2h0m-7 4h0m-2-11h0m-1 19h0m-4-4h0m-6-5h0m-3-1h0m-1-3h0m-11-6h0m-7 2h0m-1 7h0m-5 6h0m-1-17h0m-1 14h0m-2-9h0m-2 4h0m-3 3h0m0-3h0m-4-2h0m-6 2h0m-3-9h0m-3 29h0m1-5h0m2 14h0m3-9h0m6 2h0m9-7h0m8 12h0m1-9h0m1 5h0m7 12h0m1-19h0m2 19h0m18-13h0m2 11h0m4-9h0m5-5h0m1 6h0m4-4h0m3-2h0m1 15h0m12-12h0m10 4h0m2-10h0m0 12h0m2-7h0m3 9h0m5 3h0m3-7h0m1-3h0m4 5h0m2-5h0m1 6h0m1-11h0m27-3h0m1 12h0m4 4h0m9-15h0m0 18h0m10-10h0m6 10h0m12-3h0m4-11h0m5 6h0m15 11h0m8-12h0m15-11h0m11 3h0m4 3h0m1-5h0m2 14h0m3-9h0m-2 32h0m-2-11h0m-9 12h0m-6-6h0m-6 6h0m-3-12h0m-1 12h0m-2 6h0m-9-16h0m-2 19h0m0-7h0m-6 2h0m-4-15h0m-3-4h0m-10 5h0m-2 10h0m0-3h0m-2-12h0m-4 4h0m-1 11h0m-4-11h0m-16-2h0m-8 0h0m-10 20h0m-12-16h0m-14 0h0m-2 3h0m-9-6h0m-1 17h0m-12-14h0m-5 1h0m-9-1h0m-15-3h0m-11 10h0m0-12h0m-4 19h0m-1-17h0m-3 16h0m-7-14h0m-5 2h0m-6 14h0m-2-7h0m-4-12h0m-1 4h0m-4-2h0m-3 11h0m-1-11h0m0 4h0m-1 4h0m-5-11h0m-9 13h0m-2-11h0m3 29h0m1 14h0m13-1h0m1-9h0m4-8h0m11 11h0m1-4h0m22 8h0m4-10h0m10 13h0m5-19h0m5 14h0m3-9h0m6 14h0m3-13h0m1-8h0m5 11h0m9-10h0m2 19h0m6-1h0m0-20h0m17 7h0m4-3h0m2 13h0m7-11h0m2 7h0m20-7h0m7 5h0m1 7h0m6-6h0m1 9h0m8-14h0m4 14h0m1-16h0m1 6h0m3 12h0m0-7h0m10-15h0m4 23h0m7-11h0m6 2h0m2-14h0m2 19h0m9-1h0m3-8h0m8 4h0m9-7h0m1 14h0m2 10h0m-2 15h0m-5-3h0m-1-5h0m-9-10h0m-7 1h0m-6 13h0m-2-16h0m-4 17h0m-5-3h0m-18-12h0m-5 14h0m-29 4h0m-10-7h0m-4-12h0m-7 19h0m-3-2h0m-4-18h0m-4-2h0m-1 22h0m-3-19h0m-4 2h0m-3 12h0m-13-15h0m-4 11h0m-1 3h0m-10 4h0m-4 2h0m-4-15h0m-4 10h0m-4-10h0m-15 5h0m-3-9h0m-2 4h0m-2-7h0m-13 3h0m-1 18h0m-2 2h0m0-15h0m0-7h0m-7 16h0m-2-6h0m-3-1h0m-3-6h0m-6 9h0m-6 2h0m-2 6h0m-4-1h0m-5-13h0m-2 15h0m-5-3h0m-1-5h0m-1 20h0m3 5h0m8 7h0m8-15h0m3 2h0m13-2h0m12 14h0m1-10h0m2 8h0m29-11h0m2 13h0m7-14h0m7 11h0m9-10h0m15 8h0m10 1h0m6-6h0m20-10h0m7 13h0m5-7h0m0 7h0m4-7h0m3-1h0m1 5h0m1 12h0m9-17h0m3 4h0m11 9h0m1-14h0m0-4h0m2 17h0m6-12h0m2 9h0m2 8h0m4-4h0m6-3h0m4-13h0m1 9h0m3-5h0m5 11h0m21-8h0m3 5h0m6 25h0m-2-10h0m-14-2h0m-1-4h0m-2 11h0m-2-11h0m-9 4h0m0 12h0m-6 5h0m-6-16h0m-2 5h0m0 8h0m-6 2h0m-7-13h0m-4-4h0m-5 9h0m-2-7h0m-5 15h0m0-17h0m-2 8h0m-9-3h0m-14 1h0m-9 11h0m-10-5h0m-4 4h0m-8-20h0m-3 2h0m-6 16h0m-3-8h0m-7-4h0m-4 13h0m-4-2h0m-1-5h0m-6-8h0m-1 19h0m-2-3h0m-8 2h0m-25-14h0m0 13h0m-4-3h0m-6 3h0m-16-2h0m-2-11h0m-3 12h0m-6-15h0m-2 12h0m0 7h0m-4-20h0m-6 4h0m-5 5h0m-3 4h0m-2-10h0m-6 34h0m8 7h0m3-21h0m5 21h0m12-19h0m13 18h0m5-19h0m11 8h0m2-5h0m1-4h0m11 0h0m1 4h0m0 12h0m11-15h0m3 11h0m11-10h0m0 18h0m4-13h0m2-9h0m13 1h0m7 16h0m7-10h0m3 14h0m1-15h0m14-5h0m8 19h0m0-7h0m5-9h0m5-4h0m3 8h0m3 12h0m14-13h0m2-6h0m6 19h0m5-20h0m0 19h0m4-12h0m1-4h0m3 11h0m1-3h0m4-11h0m8 0h0m1 13h0m4-12h0m4 13h0m0 4h0m11-2h0m6 0h0m3-11h0m7 11h0m8 7h0m-2 8h0m-4 11h0m-6-11h0m-7 0h0m-19 7h0m-2-14h0m-5 4h0m-4 1h0m-15 14h0m-6 1h0m0-18h0m-1 13h0m-11-6h0m-1-3h0m-8 9h0m-15-11h0m-2 2h0m-4 10h0m-5-3h0m-15-11h0m0 14h0m-6 4h0m-7-19h0m-4 6h0m-5-6h0m-6 21h0m-1-9h0m-9-8h0m-9 12h0m-2-9h0m-16-8h0m-3 5h0m-1 12h0m-9-10h0m-3 15h0m-15-3h0m-13 4h0m-17-16h0m-4 11h0m4 17h0m6-7h0m7 2h0m2 12h0m1-6h0m18 5h0m19-5h0m0 7h0m5-5h0m10-9h0m1 9h0m6-13h0m1 8h0m8 7h0m16-2h0m12-9h0m6 1h0m11 6h0m2-11h0m7 14h0m1-4h0m0-11h0m10 3h0m11 14h0m0-13h0m3 5h0m3 5h0m5-2h0m12 2h0m6-14h0m14 14h0m4 2h0m2-4h0m8-3h0m10 4h0m9-8h0m5 5h0m15 1h0"/>
<pattern id="pm" patternUnits="userSpaceOnUse" width="256" height="256">
<g fill="none" stroke="#87ceeb" stroke-linecap="round" stroke-opacity="0.6">
<use href="#pm0" stroke-width="8.33"/>
<use href="#pm1" stroke-width="8.33"/>
<use href="#pm2" stroke-width="8.33"/>
<use href="#pm0" stroke-width="4.17"/>
<use href="#pm1" stroke-width="4.17"/>
<use href="#pm2" stroke-width="4.17"/>
</g></pattern>
<clipPath id="cm"><path clip-rule="evenodd" d="M298.6 1139.9L302.6 1173.6L308.5 1204.4L317.5 1238.2L330.4 1268.9L345.3 1296.7L364.2 1327.6L382.1 1355.5L401.2 1380.7L407.2 1398.4L437.7 1421L468.7 1448L495.8 1476.1L523.3 1499.8L523.6 1501.3L523 1502.7L504 1521.7L488.4 1545L484.7 1562.6L512.3 1615.7L531.1 1646.5L557.9 1677.2L584.6 1700.9L615.3 1719.8L650.1 1739.6L680.8 1750.5L700.3 1756.4L731.6 1753.5L754.8 1758.5L774.9 1769.5L793.1 1772.4L820.7 1769.4L840.2 1766.4L856.4 1772.8L867.4 1783L874.4 1799L879.5 1814.2L882.6 1831.1L872.9 1847.8L863.6 1852.1L854.2 1863.2L864 1878.4L882.5 1896.8L906.9 1908.5L937.2 1916.4L963.9 1913.5L980.7 1897.6L987.1 1872.2L988.4 1871.5L1002.6 1868.5L1043.6 1878L1060.1 1897.5L1072.1 1919.4L1091.1 1936.4L1091.6 1938.4L1090.5 1940.1L1070.9 1951.4L1048.4 1957.6L1017.6 1962.5L993 1970.4L956.3 1988.2L938.6 2001L925.6 2013.1L910.5 2022.1L894.9 2034.8L884 2048.4L892.2 2065.5L903.6 2076.9L922.4 2086.8L934.1 2097.4L955.2 2098.4L978.2 2100.7L979.4 2102L979.5 2103.8L974 2113.9L978.9 2121.2L993.4 2132.8L1012.1 2142.6L1030.4 2149.4L1047.6 2148.4L1072.2 2142.5L1093.7 2132.8L1109 2121.2L1117.5 2106.2L1118.4 2094.5L1120 2092.6L1121.7 2092.5L1135.4 2096.4L1150.7 2096.4L1172.2 2091.5L1192.5 2083.8L1200.8 2074.6L1208.2 2058.1L1230.9 2047.7L1253.6 2035.8L1278.3 2016.1L1298.1 1996.2L1318 1973.4L1335.9 1948.5L1352.9 1926.5L1370.8 1899.7L1391.6 1891.4L1418.8 1892.5L1420.5 1894.3L1424.2 1916.4L1426.6 1916.4L1428.4 1897.5L1430 1895.6L1479.6 1887.4L1510.5 1881.5L1541.3 1874.5L1572.1 1864.5L1602.8 1852.7L1630.5 1833.9L1658.4 1813L1686.2 1788.1L1710 1763.3L1754 1701.3L1778.7 1676.6L1788.6 1647.1L1801.6 1611.1L1832.7 1545.9L1855 1520.4L1879.8 1486.6L1897.7 1452.8L1913.7 1418.8L1932.7 1380.8L1950.7 1349.8L1966.5 1316.1L1975.4 1279.7L1974.4 1252.2L1971.4 1221.3L1967.5 1190.6L1957.5 1159.7L1939.6 1098.1L1912.1 1055.8L1877.9 1027.6L1864.5 998.6L1864.8 996.7L1878.3 974.1L1896.1 967.9L1904.3 950.6L1901.5 930.9L1885.8 903.5L1868.9 882.5L1852 858.7L1810.9 818.5L1795.7 796.2L1790.1 781.3L1771.7 778.2L1727.5 746.1L1726.6 744.9L1726.6 743L1728 741.6L1733.3 740.5L1748.8 734.7L1769.4 720L1790.7 701.6L1796.3 681.2L1787.7 660.3L1768.9 633.6L1748.1 608.8L1723.3 584L1692.8 562.3L1665.5 551.6L1641.3 550.6L1617 556.4L1597.6 567.5L1572.4 571.6L1554 565.7L1545.6 568.5L1543.6 568.2L1535.4 563.1L1534.6 561.9L1528.4 539.5L1522.5 508.9L1506.8 478.4L1489.1 453.8L1464.6 435.2L1426.7 417.3L1386.9 395.3L1309 362.4L1269.2 344.5L1210.4 330.5L1160.6 319.6L1123.6 317.6L1086.5 308.6L1066.4 305.5L1045.3 300.7L1015.3 314.3L993.8 329.9L978.8 347.8L963 360.7L954.3 375.2L948.4 389L947.1 390.4L933.5 396.6L905.3 401.6L843.4 409.6L812.5 414.6L781.7 421.5L750.9 432.4L720.1 445.3L689.4 462.2L658.6 483.1L630.8 506.9L606 531.7L581.2 565.4L560.3 603.3L544.3 626.2L534.5 653.8L525.5 681.6L514.6 746.4L507.5 774.6L494.2 800.4L475.7 819L431.8 856.9L413 877.7L379.1 918.6L367.2 936.4L354.3 958.2L342.2 983.3L326.3 1001.4L314.5 1031.8L305.6 1071.5L299.6 1109.2ZM846 967L875 967L893 977L907 987L920 999L932 1006L940 1018L950 1030L958 1045L971 1059L964 1068L957 1081L933 1077L906 1074L878 1073L857 1067L840 1057L825 1045L817 1028L813 1009L807 989L806 982L822 978L835 973ZM840 1708L849 1724L838 1745L828 1760L855 1763L868 1770L881 1765L893 1753L884 1742L870 1729L855 1719ZM894 1809L902 1807L933 1818L964 1832L995 1842L1005 1846L980 1847L948 1836L917 1825L896 1820ZM1533 579L1545 575L1556 574L1557 600L1553 630L1546 650L1537 660L1529 663L1527 656L1531 635L1533 605ZM1508 668L1522 660L1538 664L1541 678L1530 690L1512 688L1504 680ZM605 1541L612 1540L650 1562L690 1587L711 1600L708 1604L680 1591L640 1568L608 1546ZM1230 1413L1229 1411L1228 1409L1227 1407L1225 1406L1223 1405L1221 1404L1219 1405L1217 1406L1215 1407L1214 1409L1213 1411L1212 1413L1213 1415L1214 1417L1215 1419L1217 1420L1219 1421L1221 1422L1223 1421L1225 1420L1227 1419L1228 1417L1229 1415Z"/></clipPath>
<g id="blob">
<g clip-path="url(#cm)">
<rect x="280" y="280" width="1720" height="1890" fill="url(#pn)"/>
<filter id="bl" x="-20%" y="-20%" width="140%" height="140%"><feGaussianBlur stdDeviation="45"/></filter>
<mask id="md" maskUnits="userSpaceOnUse" x="280" y="280" width="1720" height="1890"><g filter="url(#bl)" fill="#fff"><ellipse cx="520" cy="1120" rx="190" ry="400" transform="rotate(0 520 1120)"/><ellipse cx="820" cy="640" rx="260" ry="150" transform="rotate(-20 820 640)"/><ellipse cx="1400" cy="1300" rx="250" ry="230" transform="rotate(0 1400 1300)"/><ellipse cx="1250" cy="1780" rx="300" ry="90" transform="rotate(-10 1250 1780)"/><ellipse cx="700" cy="1350" rx="200" ry="150" transform="rotate(30 700 1350)"/></g></mask>
<rect x="280" y="280" width="1720" height="1890" fill="url(#ps)" mask="url(#md)"/>
<g filter="url(#bl)" fill="#fff" fill-opacity="0.14"><ellipse cx="1730" cy="900" rx="170" ry="230" transform="rotate(-20 1730 900)"/><ellipse cx="1180" cy="720" rx="120" ry="90" transform="rotate(0 1180 720)"/><ellipse cx="1650" cy="1500" rx="130" ry="200" transform="rotate(25 1650 1500)"/></g>
<path fill="#fff" d="M940 380L946 411L1024 436L1117 474L1180 514L1210 545L1241 561L1300 600L1380 650L1440 680L1500 690L1525 650L1530 600L1545 560L1545 440L1480 400L1400 360L1300 320L1200 290L1100 280L1040 280L990 300L955 340Z"/><path fill="url(#pm)" d="M940 380L946 411L1024 436L1117 474L1180 514L1210 545L1241 561L1300 600L1380 650L1440 680L1500 690L1525 650L1530 600L1545 560L1545 440L1480 400L1400 360L1300 320L1200 290L1100 280L1040 280L990 300L955 340Z"/>
<path fill="#fff" d="M1545 560L1600 540L1680 535L1740 570L1790 630L1815 690L1790 730L1740 760L1700 760L1640 740L1590 760L1560 720L1545 700L1548 640Z"/><path fill="url(#pm)" d="M1545 560L1600 540L1680 535L1740 570L1790 630L1815 690L1790 730L1740 760L1700 760L1640 740L1590 760L1560 720L1545 700L1548 640Z"/>
<path fill="#fff" d="M470 1490L521 1498L603 1536L711 1602L805 1664L859 1718L895 1750L890 1790L700 1790L560 1720L470 1600Z"/><path fill="url(#pm)" d="M470 1490L521 1498L603 1536L711 1602L805 1664L859 1718L895 1750L890 1790L700 1790L560 1720L470 1600Z"/>
<path fill="#fff" d="M1100 1940L1140 1925L1200 1905L1260 1900L1330 1895L1365 1900L1345 1930L1325 1962L1300 1990L1275 2012L1250 2030L1225 2042L1205 2052L1195 2075L1170 2086L1140 2090L1125 2085L1118 2060L1105 2035L1095 2005L1085 1975L1090 1950Z"/><path fill="url(#pm)" d="M1100 1940L1140 1925L1200 1905L1260 1900L1330 1895L1365 1900L1345 1930L1325 1962L1300 1990L1275 2012L1250 2030L1225 2042L1205 2052L1195 2075L1170 2086L1140 2090L1125 2085L1118 2060L1105 2035L1095 2005L1085 1975L1090 1950Z"/>
<path fill="#fff" d="M885 1848L920 1856L960 1868L982 1878L977 1896L962 1908L937 1911L908 1904L886 1892L870 1876L864 1862Z"/><path fill="url(#ps)" d="M885 1848L920 1856L960 1868L982 1878L977 1896L962 1908L937 1911L908 1904L886 1892L870 1876L864 1862Z"/>
<path fill="#fff" d="M1541 650L1550 645L1560 658L1580 656L1600 660L1615 675L1622 698L1612 700L1606 682L1595 670L1578 666L1557 670L1546 662Z"/><path fill="url(#ps)" d="M1541 650L1550 645L1560 658L1580 656L1600 660L1615 675L1622 698L1612 700L1606 682L1595 670L1578 666L1557 670L1546 662Z"/>
<path fill="none" stroke="#87ceeb" stroke-opacity=".95" stroke-width="22" stroke-linejoin="round" stroke-linecap="round" d="M411 876C414.2 872.5 423.2 861.7 430 855C436.8 848.3 444.7 842.3 452 836C459.3 829.7 467.3 823.2 474 817C480.7 810.8 486.8 806.2 492 799C497.2 791.8 501.7 782.8 505 774C508.3 765.2 510 755.8 512 746C514 736.2 515.2 725.8 517 715C518.8 704.2 520.5 691.3 523 681C525.5 670.7 528.8 662.3 532 653C535.2 643.7 537.7 633.5 542 625C546.3 616.5 555.3 605.8 558 602"/>
<path fill="none" stroke="#87ceeb" stroke-opacity=".95" stroke-width="18" stroke-linejoin="round" stroke-linecap="round" d="M719 443C724.2 440.8 739.7 434 750 430C760.3 426 770.7 422 781 419C791.3 416 801.7 414 812 412C822.3 410 832.7 408.5 843 407C853.3 405.5 863.7 404.3 874 403C884.3 401.7 895.2 400.5 905 399C914.8 397.5 926.2 395.8 933 394C939.8 392.2 943.8 389 946 388"/>
<path fill="none" stroke="#87ceeb" stroke-opacity=".95" stroke-width="18" stroke-linejoin="round" stroke-linecap="round" d="M700 1759C696.7 1758 688.5 1755.8 680 1753C671.5 1750.2 660 1747.2 649 1742C638 1736.8 625 1728.5 614 1722C603 1715.5 592.7 1710.2 583 1703C573.3 1695.8 565 1688.2 556 1679C547 1669.8 533.5 1653.2 529 1648"/>
<path fill="none" stroke="#87ceeb" stroke-opacity=".95" stroke-width="18" stroke-linejoin="round" stroke-linecap="round" d="M989 1874C988 1878.2 987 1892 983 1899C979 1906 972.7 1912.7 965 1916C957.3 1919.3 946.8 1919.8 937 1919C927.2 1918.2 915.3 1914.3 906 1911C896.7 1907.7 888.3 1904.2 881 1899C873.7 1893.8 867 1886 862 1880C857 1874 852.8 1865.8 851 1863"/>
<path fill="#fff" fill-opacity=".32" fill-rule="evenodd" d="M1919.8 1374.4L1884.8 1446.4L1867.6 1478.9L1843.7 1511.3L1820.4 1538.2L1788.6 1604.8L1775 1642.2L1774 1647.1L1774.5 1652.1L1776.4 1656.7L1779.5 1660.6L1783.7 1663.3L1785.6 1664.1L1788.8 1654.6L1785 1651.6L1784.2 1646.3L1797.4 1609.6L1828.7 1544L1851.5 1517.6L1876.1 1484.3L1893.7 1450.9L1928.9 1378.5L1947.3 1346.9L1951.2 1344.2L1956 1344.7L1960.2 1335.6L1955.3 1334.2L1948.6 1334.6L1942.7 1337.5L1939.2 1341.1Z"/>
<path fill="#fff" fill-opacity=".1" fill-rule="evenodd" d="M1874.5 1346.9L1837.4 1422.7L1822.5 1450.7L1802.4 1478.1L1778.5 1505.7L1772 1516.5L1740.7 1582.2L1725.2 1624.2L1712.7 1662.5L1711.5 1669.2L1711.2 1683L1713.5 1696.5L1718.4 1709.3L1725.7 1720.9L1735.8 1731.4L1756 1703L1781 1678L1804 1612L1835 1547L1857 1522L1882 1488L1900 1454L1935 1382L1953 1351L1969 1317L1978 1280L1977 1252L1972.6 1210.3L1960.5 1212.2L1954 1214.3L1941.6 1220.2L1930.6 1228.5L1921.5 1238.7L1917.7 1244.4L1911.9 1256.9L1902.7 1293.6L1890.9 1318.5Z"/>
<path fill="#87ceeb" stroke="#87ceeb" stroke-width="5" stroke-linejoin="round" stroke-opacity="0.17" fill-opacity="0.3" d="M955 1986C964.2 1980.8 981.7 1972.3 992 1968C1002.3 1963.7 1007.7 1962.2 1017 1960C1026.3 1957.8 1039.2 1956.8 1048 1955C1056.8 1953.2 1063.2 1951.8 1070 1949C1076.8 1946.2 1084.3 1936.2 1089 1938C1093.7 1939.8 1094.8 1951.3 1098 1960C1101.2 1968.7 1105.2 1978.3 1108 1990C1110.8 2001.7 1113 2016.7 1115 2030C1117 2043.3 1119 2059.2 1120 2070C1121 2080.8 1121 2088.8 1121 2095C1121 2101.2 1121.7 2102.3 1120 2107C1118.3 2111.7 1115.2 2118.3 1111 2123C1106.8 2127.7 1101.3 2131.3 1095 2135C1088.7 2138.7 1080.8 2142.3 1073 2145C1065.2 2147.7 1055.2 2149.8 1048 2151C1040.8 2152.2 1036.2 2153 1030 2152C1023.8 2151 1017.3 2147.8 1011 2145C1004.7 2142.2 997.7 2138.7 992 2135C986.3 2131.3 980.5 2126.5 977 2123C973.5 2119.5 971 2117.3 971 2114C971 2110.7 979.7 2105.2 977 2103C974.3 2100.8 962.3 2101.5 955 2101C947.7 2100.5 938.7 2102 933 2100C927.3 2098 926.2 2092.5 921 2089C915.8 2085.5 907.2 2082.7 902 2079C896.8 2075.3 893.5 2072.2 890 2067C886.5 2061.8 880.5 2053.7 881 2048C881.5 2042.3 888.3 2037.7 893 2033C897.7 2028.3 903.8 2023.7 909 2020C914.2 2016.3 919.3 2014.5 924 2011C928.7 2007.5 931.8 2003.2 937 1999C942.2 1994.8 945.8 1991.2 955 1986Z"/>
<path fill="#87ceeb" stroke="#87ceeb" stroke-width="5" stroke-linejoin="round" stroke-opacity="0.53" fill-opacity="0.97" d="M1192 427C1194 424 1201.7 423.5 1210 424C1218.3 424.5 1229 427 1242 430C1255 433 1272.5 437.8 1288 442C1303.5 446.2 1319.5 450.8 1335 455C1350.5 459.2 1365.5 463.3 1381 467C1396.5 470.7 1412.5 473.3 1428 477C1443.5 480.7 1462 485.7 1474 489C1486 492.3 1492.7 493.7 1500 497C1507.3 500.3 1513.3 503.5 1518 509C1522.7 514.5 1525.3 522.2 1528 530C1530.7 537.8 1533.7 550.2 1534 556C1534.3 561.8 1534.7 564.2 1530 565C1525.3 565.8 1517.8 562.3 1506 561C1494.2 559.7 1474.7 557.7 1459 557C1443.3 556.3 1427.5 556.8 1412 557C1396.5 557.2 1381.5 558.8 1366 558C1350.5 557.2 1332 554.8 1319 552C1306 549.2 1298.3 545.2 1288 541C1277.7 536.8 1265.8 532 1257 527C1248.2 522 1240.7 517.8 1235 511C1229.3 504.2 1227.2 494.3 1223 486C1218.8 477.7 1214.2 468.3 1210 461C1205.8 453.7 1201 447.7 1198 442C1195 436.3 1190 430 1192 427Z"/>
<path fill="#87ceeb" stroke="#87ceeb" stroke-width="5" stroke-linejoin="round" stroke-opacity="0.53" fill-opacity="0.97" d="M1552 600C1554.8 591.3 1558.5 589.7 1566 585C1573.5 580.3 1586.2 575.7 1597 572C1607.8 568.3 1620.2 561.8 1631 563C1641.8 564.2 1654.5 572.8 1662 579C1669.5 585.2 1671 591.3 1676 600C1681 608.7 1684.2 621.7 1692 631C1699.8 640.3 1710 650 1723 656C1736 662 1760.5 663 1770 667C1779.5 671 1782.7 676 1780 680C1777.3 684 1768.7 689.5 1754 691C1739.3 692.5 1707.5 687.3 1692 689C1676.5 690.7 1671.3 702.3 1661 701C1650.7 699.7 1638.8 687.5 1630 681C1621.2 674.5 1617.3 667.2 1608 662C1598.7 656.8 1583.8 654.2 1574 650C1564.2 645.8 1552.7 645.3 1549 637C1545.3 628.7 1549.2 608.7 1552 600Z"/>
<path fill="#87ceeb" stroke="#87ceeb" stroke-width="5" stroke-linejoin="round" stroke-opacity="0.53" fill-opacity="0.97" d="M596 1602C598.3 1598.3 604.7 1596.2 612 1600C619.3 1603.8 632.5 1615.8 640 1625C647.5 1634.2 654.5 1645.8 657 1655C659.5 1664.2 657.8 1676.2 655 1680C652.2 1683.8 646.7 1683 640 1678C633.3 1673 622 1659.3 615 1650C608 1640.7 601.2 1630 598 1622C594.8 1614 593.7 1605.7 596 1602Z"/>
<path fill="#87ceeb" stroke="#87ceeb" stroke-width="5" stroke-linejoin="round" stroke-opacity="0.39" fill-opacity="0.7" d="M1060 1975C1065.8 1975 1070.8 1979.2 1075 1985C1079.2 1990.8 1081.7 2000.8 1085 2010C1088.3 2019.2 1091.2 2031.7 1095 2040C1098.8 2048.3 1104.2 2051.7 1108 2060C1111.8 2068.3 1116.8 2080.8 1118 2090C1119.2 2099.2 1118.8 2108.3 1115 2115C1111.2 2121.7 1102.5 2128.3 1095 2130C1087.5 2131.7 1076.7 2130 1070 2125C1063.3 2120 1059.2 2109.2 1055 2100C1050.8 2090.8 1047.5 2080 1045 2070C1042.5 2060 1041.7 2050 1040 2040C1038.3 2030 1035 2019.2 1035 2010C1035 2000.8 1035.8 1990.8 1040 1985C1044.2 1979.2 1054.2 1975 1060 1975Z"/>
<path fill="#87ceeb" stroke="#87ceeb" stroke-width="5" stroke-linejoin="round" stroke-opacity="0.44" fill-opacity="0.8" d="M1087 1928C1088 1924.3 1091.7 1925.7 1096 1932C1100.3 1938.3 1105.2 1956 1113 1966C1120.8 1976 1133.2 1985.2 1143 1992C1152.8 1998.8 1165.8 2001.3 1172 2007C1178.2 2012.7 1180.3 2022.8 1180 2026C1179.7 2029.2 1176.7 2029.3 1170 2026C1163.3 2022.7 1150.3 2013.3 1140 2006C1129.7 1998.7 1116.3 1990.7 1108 1982C1099.7 1973.3 1093.5 1963 1090 1954C1086.5 1945 1086 1931.7 1087 1928Z"/>
<path fill="#87ceeb" stroke="#87ceeb" stroke-width="5" stroke-linejoin="round" stroke-opacity="0.53" fill-opacity="0.97" d="M878 1822C879 1819.3 881.3 1819.7 890 1822C898.7 1824.3 915 1831 930 1836C945 1841 962.8 1847.7 980 1852C997.2 1856.3 1019.7 1855.7 1033 1862C1046.3 1868.3 1051.3 1879.5 1060 1890C1068.7 1900.5 1083.3 1919.8 1085 1925C1086.7 1930.2 1074.5 1925.3 1070 1921C1065.5 1916.7 1062.7 1905.8 1058 1899C1053.3 1892.2 1051.3 1884.7 1042 1880C1032.7 1875.3 1015.7 1874 1002 1871C988.3 1868 973.7 1865.5 960 1862C946.3 1858.5 932.7 1854 920 1850C907.3 1846 891 1842.7 884 1838C877 1833.3 877 1824.7 878 1822Z"/>
<path fill="#87ceeb" stroke="#87ceeb" stroke-width="5" stroke-linejoin="round" stroke-opacity="0.53" fill-opacity="0.97" d="M840 1762C845.8 1762.3 851.3 1763.3 856 1766C860.7 1768.7 864 1772.3 868 1778C872 1783.7 876.7 1792.7 880 1800C883.3 1807.3 887.3 1815.7 888 1822C888.7 1828.3 886.8 1834 884 1838C881.2 1842 872.2 1849.8 871 1846C869.8 1842.2 876.8 1822.7 877 1815C877.2 1807.3 874 1805.2 872 1800C870 1794.8 867.8 1788.2 865 1784C862.2 1779.8 859.2 1777.5 855 1775C850.8 1772.5 845.7 1769.5 840 1769C834.3 1768.5 828.8 1771 821 1772C813.2 1773 800.8 1775 793 1775C785.2 1775 777.2 1773.8 774 1772C770.8 1770.2 769.7 1765 774 1764C778.3 1763 792.2 1766 800 1766C807.8 1766 814.3 1764.7 821 1764C827.7 1763.3 834.2 1761.7 840 1762Z"/>
<path fill="#87ceeb" stroke="#87ceeb" stroke-width="5" stroke-linejoin="round" stroke-opacity="0.44" fill-opacity="0.8" d="M1530 706C1532 701.2 1545.7 700 1552 704C1558.3 708 1562.7 719.3 1568 730C1573.3 740.7 1582.7 760 1584 768C1585.3 776 1580.7 779.7 1576 778C1571.3 776.3 1562 765.5 1556 758C1550 750.5 1544.3 741.7 1540 733C1535.7 724.3 1528 710.8 1530 706Z"/>
<path fill="#87ceeb" stroke="#87ceeb" stroke-width="5" stroke-linejoin="round" stroke-opacity="0.53" fill-opacity="0.97" d="M784 969C785 965.3 793.3 961.8 798 962C802.7 962.2 810.3 966.5 812 970C813.7 973.5 811.3 980.7 808 983C804.7 985.3 796 986.3 792 984C788 981.7 783 972.7 784 969Z"/>
<path fill="#fff" fill-opacity=".8" fill-rule="evenodd" d="M825.7 953L794.7 963.1L788.4 968.8L784.3 978.7L785.5 993.7L796.1 1035L805.1 1054.4L809.7 1060.9L828.8 1076L847.5 1086.8L874.6 1094.7L904.4 1096L957.6 1103L965.7 1101.2L972.6 1096.5L990.7 1068.8L993 1060.3L992.3 1053.7L988.5 1045.7L976.1 1032.1L968.3 1017.7L947.8 990.7L933.2 981.2L919.8 969.1L905.8 959.1L881.6 946L875 945L843.8 945.1L837.4 946.7ZM841.7 956.9L875 956L879.3 956.9L899.4 968L913.4 978L926.6 990.1L939.9 998.3L959.1 1023.9L967 1038.6L979.8 1052.4L981.7 1056.3L980.9 1063.9L973.2 1074L964.8 1088.7L961.4 1091.1L956.2 1092L905.2 1085L875 1083.6L851.4 1076.5L833.1 1065.6L816.7 1052.2L806.6 1031.5L802.3 1011.7L796.3 991.4L795.3 979.3L797.2 975.4L801.3 972.1L818.7 967.5L830.4 963Z"/><path fill="url(#ps)" fill-rule="evenodd" d="M825.7 953L794.7 963.1L788.4 968.8L784.3 978.7L785.5 993.7L796.1 1035L805.1 1054.4L809.7 1060.9L828.8 1076L847.5 1086.8L874.6 1094.7L904.4 1096L957.6 1103L965.7 1101.2L972.6 1096.5L990.7 1068.8L993 1060.3L992.3 1053.7L988.5 1045.7L976.1 1032.1L968.3 1017.7L947.8 990.7L933.2 981.2L919.8 969.1L905.8 959.1L881.6 946L875 945L843.8 945.1L837.4 946.7ZM841.7 956.9L875 956L879.3 956.9L899.4 968L913.4 978L926.6 990.1L939.9 998.3L959.1 1023.9L967 1038.6L979.8 1052.4L981.7 1056.3L980.9 1063.9L973.2 1074L964.8 1088.7L961.4 1091.1L956.2 1092L905.2 1085L875 1083.6L851.4 1076.5L833.1 1065.6L816.7 1052.2L806.6 1031.5L802.3 1011.7L796.3 991.4L795.3 979.3L797.2 975.4L801.3 972.1L818.7 967.5L830.4 963Z"/><path fill="url(#ps)" fill-rule="evenodd" transform="translate(37 53)" d="M788.7 900L757.7 910.1L751.4 915.8L747.3 925.7L748.5 940.7L759.1 982L768.1 1001.4L772.7 1007.9L791.8 1023L810.5 1033.8L837.6 1041.7L867.4 1043L920.6 1050L928.7 1048.2L935.6 1043.5L953.7 1015.8L956 1007.3L955.3 1000.7L951.5 992.7L939.1 979.1L931.3 964.7L910.8 937.7L896.2 928.2L882.8 916.1L868.8 906.1L844.6 893L838 892L806.8 892.1L800.4 893.7ZM804.7 903.9L838 903L842.3 903.9L862.4 915L876.4 925L889.6 937.1L902.9 945.3L922.1 970.9L930 985.6L942.8 999.4L944.7 1003.3L943.9 1010.9L936.2 1021L927.8 1035.7L924.4 1038.1L919.2 1039L868.2 1032L838 1030.6L814.4 1023.5L796.1 1012.6L779.7 999.2L769.6 978.5L765.3 958.7L759.3 938.4L758.3 926.3L760.2 922.4L764.3 919.1L781.7 914.5L793.4 910Z"/>
<path fill="#87ceeb" fill-opacity=".96" fill-rule="evenodd" d="M830 962.1L818.4 966.5L800.9 971.1L796.4 974.8L794.1 980.2L795.3 991.6L801.4 1012L805.6 1031.8L814.1 1050.1L816.7 1053.6L833.9 1067.3L851.8 1077.8L874.7 1084.5L905.1 1086L931.3 1088.9L956.2 1093L960.7 1092.4L965.5 1089.4L974.1 1074.6L981.8 1064.3L983 1059.7L982.6 1056.1L980.6 1051.8L967.9 1038L960 1023.3L949.6 1010.8L939.8 996.9L927.2 989.3L914 977.2L900 967.2L878.6 955.6L844.8 955.1L841.3 955.9ZM875 967L893 977L907 987L920 999L932 1006L940 1018L950 1030L958 1045L971 1059L964 1068L957 1081L933 1077L906 1074L878 1073L857 1067L840 1057L825 1045L817 1028L813 1009L807 989L806 982L822 978L835 973L846 967Z"/>
</g>
<g fill="none" stroke="#87ceeb" stroke-linecap="round" stroke-opacity="0.6" stroke-dasharray="0 7.5"><defs><path id="bead" d="M300.2 1139.8L304.2 1173.4L310.1 1204.1L319 1237.6L331.8 1268.2L346.6 1295.9L365.6 1326.8L383.4 1354.6L402.6 1379.8L408.6 1397.4L438.8 1419.8L469.8 1446.8L496.9 1474.9L524.7 1499.1L525.2 1501.4L524.2 1503.7L505.3 1522.7L489.9 1545.7L486.4 1562.4L513.7 1614.9L532.4 1645.5L559 1676L585.5 1699.6L616.1 1718.4L650.8 1738.2L681.3 1749L700.4 1754.7L731.9 1751.9L755.3 1757L775.4 1768L793.1 1770.8L820.4 1767.8L840.2 1764.8L857.2 1771.4L868.8 1782.3L875.8 1798.3L881 1813.7L884.2 1831.1L883.6 1833.2L874.1 1848.8L864.6 1853.4L856.2 1863.3L865.3 1877.3L883.5 1895.5L907.4 1907L937.3 1914.7L963.1 1912L979.2 1896.8L984.9 1873L985.9 1871.2L988.1 1869.9L1002.9 1866.9L1042.9 1875.9L1044.7 1876.7L1061.5 1896.6L1073.3 1918.4L1092.4 1935.5L1093.2 1938.2L1091.8 1941.1L1071.4 1952.9L1048.7 1959.1L1018 1964.1L993.6 1971.9L957.1 1989.6L939.7 2002.3L926.5 2014.4L911.4 2023.4L896 2036L885.9 2048.6L893.5 2064.5L904.5 2075.6L923.3 2085.5L934.7 2095.9L955.4 2096.8L979 2099.3L980.7 2101L981.1 2103.8L975.9 2113.8L980.1 2120.1L994.3 2131.5L1012.7 2141.2L1030.6 2147.8L1047.4 2146.8L1071.6 2141L1092.8 2131.4L1107.8 2120.2L1115.9 2105.7L1117 2093.8L1119.3 2091.1L1121.8 2090.9L1135.6 2094.8L1150.5 2094.8L1171.8 2090L1191.6 2082.4L1199.4 2073.7L1207.2 2056.9L1230.2 2046.2L1252.7 2034.5L1277.2 2014.9L1296.9 1995.1L1316.7 1972.4L1334.6 1947.5L1351.6 1925.6L1368.5 1899.7L1370.1 1898.3L1391.3 1889.9L1419 1890.9L1421.1 1892.1L1422.1 1893.9L1425.3 1913.4L1426.9 1897.2L1427.8 1895.3L1429.5 1894.1L1479.3 1885.9L1510.1 1879.9L1540.9 1872.9L1571.6 1863L1602 1851.3L1629.6 1832.6L1657.3 1811.7L1685.1 1787L1708.8 1762.3L1752.8 1700.3L1777.3 1675.7L1787 1646.6L1800 1610.6L1831.2 1545.2L1853.7 1519.4L1878.4 1485.8L1896.2 1452.1L1912.2 1418.1L1931.2 1380.1L1949.3 1349L1965 1315.6L1973.8 1279.6L1972.8 1252.3L1969.8 1221.5L1965.9 1190.9L1956 1160.2L1938.1 1098.8L1910.9 1056.9L1876.7 1028.6L1862.9 999L1863.4 995.9L1876.9 973.2L1878.7 972L1895 966.6L1902.7 950.3L1900 931.4L1884.5 904.4L1867.6 883.4L1850.8 859.7L1809.5 819.4L1794.3 796.9L1788.9 782.8L1770.9 779.6L1726.5 747.4L1725.1 745.5L1725 742.7L1726.7 740.5L1732.8 738.9L1748 733.3L1768.4 718.7L1789.3 700.7L1794.6 681.3L1786.3 661L1767.7 634.6L1746.9 609.8L1722.3 585.2L1692 563.7L1665.1 553.2L1641.4 552.2L1617.6 557.9L1598 569.1L1572.7 573.1L1570.7 573L1554 567.4L1545.9 570.1L1542.8 569.6L1534.5 564.3L1533.1 562.5L1526.9 539.8L1521 509.4L1505.4 479.2L1488 455L1463.8 436.6L1426 418.7L1386.2 396.8L1308.4 363.9L1268.7 346L1210.1 332.1L1160.4 321.2L1123.4 319.2L1086.2 310.1L1066.1 307.1L1045.4 302.4L1016.1 315.6L994.9 331.1L980 349L964.2 361.8L955.7 375.9L949.7 390L947.8 391.8L933.7 398.1L905.5 403.2L843.6 411.2L812.8 416.1L782.2 423L751.5 433.9L720.8 446.8L690.2 463.6L659.6 484.3L631.9 508.1L607.2 532.7L582.5 566.3L561.7 604L545.8 626.9L536 654.3L527.1 682L516.1 746.7L509.1 775L495.5 801.3L476.7 820.2L432.9 858L414.2 878.7L380.4 919.5L368.6 937.2L355.7 959L343.6 984.2L327.6 1002.2L316 1032.2L307.1 1071.8L301.2 1109.4Z"/></defs><use href="#bead" stroke-width="8.33"/><use href="#bead" stroke-width="4.17"/></g>
<path fill="url(#ps)" d="M455 1828L424 1856L411 1887L418 1924L430 1955L449 1986L474 2014L505 2039L539 2058L576 2076L607 2089L638 2100L669 2103L694 2098L710 2076L719 2048L725 2024L716 2005L697 1989L679 1977L660 1958L641 1933L616 1909L592 1890L561 1871L530 1856L505 1843L480 1833Z"/>
<path fill="#87ceeb" fill-opacity=".93" fill-rule="evenodd" d="M411 1887L418 1924L430 1955L449 1986L474 2014L505 2039L539 2058L576 2076L607 2089L638 2100L669 2103L694 2098L710 2076L719 2048L725 2024L716 2005L697 1989L679 1977L660 1958L641 1933L616 1909L592 1890L561 1871L505 1843L480 1833L455 1828L424 1856ZM495.5 1851.1L555.7 1880.7L585.7 1899L608.8 1917.3L632.8 1940.3L651.2 1964.7L671.2 1984.8L690.4 1997.8L707.1 2011.9L713.4 2025.2L708.4 2045L700.1 2071L687.6 2088.1L681.2 2089.3L676.5 2084.2L668.1 2085.8L641.7 2083.3L613.1 2073.1L583 2060.5L546.9 2042.9L514.6 2024.9L485.8 2001.6L462.7 1975.8L445.3 1947.4L434.4 1919.3L428.7 1888.9L438.2 1866.1L460 1846.3L475.1 1849.4L499.7 1859.4Z"/>
<path fill="url(#pm)" d="M1989 772C1992.2 773.7 1993.7 786 1997 795C2000.3 804 2006 815.7 2009 826C2012 836.3 2012.7 846.3 2015 857C2017.3 867.7 2021.2 879.5 2023 890C2024.8 900.5 2027.8 910.8 2026 920C2024.2 929.2 2017.8 938.2 2012 945C2006.2 951.8 1998 960.2 1991 961C1984 961.8 1975.7 954.7 1970 950C1964.3 945.3 1959.7 941.3 1957 933C1954.3 924.7 1953.7 910.5 1954 900C1954.3 889.5 1957.2 880.8 1959 870C1960.8 859.2 1963.8 845 1965 835C1966.2 825 1963.8 818.3 1966 810C1968.2 801.7 1974.2 791.3 1978 785C1981.8 778.7 1985.8 770.3 1989 772Z"/>
<path fill="none" stroke="#87ceeb" stroke-opacity=".75" stroke-width="9" stroke-linecap="round" stroke-linejoin="round" d="M2001 795C2002.5 799.5 2007.3 812.5 2010 822C2012.7 831.5 2015.3 841.7 2017 852C2018.7 862.3 2019.5 873.5 2020 884C2020.5 894.5 2021.3 906 2020 915C2018.7 924 2013.3 934.2 2012 938"/>
<g fill="none" stroke="#87ceeb" stroke-linecap="round" stroke-opacity="0.6"><defs><path id="iso" d="M1251 300h0m-418 98h0m701-5h0m-778 22h0m-30 16h0m-4 1h0m812 93h0m296 144h0m-296-13h0m-1023 36h0m1-3h0m1528 160h0m-89-6h0m-28 140h0m9-7h0m2-9h0m-17 17h0m-7 2h0m-6-1h0m-9 35h0m2 2h0m49-12h0m3-2h0m5 40h0m-8-3h0m-6 1h0m-7 4h0m-4 6h0m9 4h0m43 114h0m-29 198h0m-14 9h0m-10 31h0m3-2h0m-15 25h0m-5 28h0m8-18h0m-23 50h0m-10 38h0m0-4h0m-1487 28h0m4-5h0m5-3h0m6-2h0m6-2h0m4-2h0m4 5h0m0 6h0m6 4h0m9-10h0m1410-1h0m-4 17h0m-4-3h0m-1370 18h0m-4-2h0m-6-1h0m-6-2h0m-7-6h0m-5-5h0m-7-3h0m-31 17h0m-3-7h0m-1-7h0m1413 38h0m8 6h0m6-20h0m-1470 27h0m1443 30h0m-1325 159h0m-3 3h0m-51 11h0m172 54h0m-50-20h0m-185 28h0m4-2h0m235 10h0m4-13h0m124 19h0m3-2h0m57 4h0m98 16h0m-93-3h0m-95 7h0m-8 19h0m16-6h0m4-6h0m2 16h0m79-18h0m108 20h0m71-8h0m3 2h0m22 6h0m-97 7h0m-170 13h0m-4-8h0m-4-5h0m-321 16h0m301 8h0m4 2h0m30-3h0m5 8h0m161-9h0m5 10h0m3 25h0m-5 6h0m-8-4h0m-13 0h0m-8-6h0m-10 4h0m-10-2h0m-11 4h0m-10-3h0m-23-4h0m-19 4h0m-32-2h0m-306 27h0m293 0h0m56-11h0m24 5h0m15 9h0m30 5h0m3-6h0m14-10h0m-18 40h0m-6-12h0m-74-3h0m-3 2h0m-30 11h0m-3-3h0m128 20h0m-14 17h0m-3 2h0m-133 4h0m-125-6h0m163 30h0m79 21h0m-124-3h0m-3 3h0"/></defs><use href="#iso" stroke-width="8.33"/><use href="#iso" stroke-width="4.17"/></g>
</g>
</defs>
<use href="#blob"/>
<use href="#blob" x="2412"/>
<g fill="none" stroke="#cd5c5c" stroke-linecap="round" stroke-opacity="0.6">
<defs>
<path id="rd0" d="M1048 309h0m80 22h0m-68-8h0m-5-6h0m-5 15h0m-3-15h0m-24 16h0m-55 19h0m55-11h0m0 13h0m28-15h0m5 5h0m59 8h0m30-12h0m17 9h0m130 10h0m16 8h0m-174-4h0m-11 5h0m-50 12h0m-21-1h0m-22-4h0m-11-7h0m-68 22h0m4-5h0m1 9h0m3-8h0m6 8h0m21-4h0m0-3h0m5 13h0m1-5h0m64-7h0m11 10h0m40-7h0m261-4h0m-172 39h0m-59 17h0m348 10h0m-114 25h0m-12 1h0m-84 1h0m-31-14h0m-10-5h0m-10 11h0m31 18h0m38 3h0m6-9h0m9 2h0m23 0h0m45 4h0m88 14h0m-10 23h0m-5-2h0m-2-8h0m-48 5h0m-29-12h0m-13 15h0m-55 2h0m-55-10h0m-641 24h0m678-7h0m17 4h0m24 1h0m20-7h0m16 7h0m7-7h0m7 12h0m1-7h0m33 11h0m5-12h0m7 7h0m33-4h0m24-2h0m78 33h0m-9 3h0m0 1h0m-2 1h0m-3-2h0m-1 2h0m-4-2h0m-2 2h0m-10 9h0m6 5h0m2-10h0m2-2h0m3-1h0m16 4h0m3 3h0m0-2h0m3 18h0m0-20h0m6 13h0m6-3h0m67-5h0m7 5h0m9-13h0m3 6h0m0 5h0m94 32h0m-1-2h0m-1-3h0m0-5h0m-5 3h0m-69-10h0m-16 8h0m-18 8h0m-19 3h0m-1-14h0m-15 14h0m-6-14h0m-28 1h0m-12-7h0m-691 37h0m713-11h0m19 7h0m5 7h0m6-3h0m7 4h0m29-4h0m15 9h0m95-20h0m4 0h0m-120 24h0m-12 10h0m-124 10h0m-3-8h0m-1 8h0m-480-1h0m478 20h0m4-10h0m1 10h0m4-4h0m0-14h0m2 6h0m1 5h0m1-4h0m1 15h0m0-9h0m0-10h0m1 9h0m0 9h0m2 2h0m0-7h0m1-8h0m3 1h0m5-3h0m9 5h0m6-5h0m0 12h0m1-8h0m85-10h0m24 4h0m-927 57h0m-74 24h0m-65 162h0m264 40h0m-19 8h0m746 26h0m-774 7h0m10 20h0m1124 31h0m-975 92h0m201 13h0m-188 69h0m788 70h0m-240-15h0m-877-5h0m-304 18h0m1627 4h0m-22 54h0m2-7h0m2 3h0m-146 33h0m-550-6h0m-39 20h0m2 13h0m3-2h0m2-3h0m3-7h0m5 17h0m0 1h0m5-18h0m277 19h0m-286 4h0m-4 0h0m0 4h0m373 64h0m-253-2h0m-778-3h0m1273 49h0m-1253 14h0m453 10h0m776 8h0m-1301 13h0m30 22h0m-22 20h0m260 38h0m568 0h0m-529 18h0m313 51h0m-507-7h0m17 15h0m178 2h0m328 54h0m375 0h0m-1073 45h0m6 4h0m0 1h0m1-5h0m0-1h0m6-4h0m2 8h0m0 2h0m3 4h0m3-8h0m4 3h0m6 6h0m1-11h0m1 2h0m2 2h0m0 5h0m0 3h0m394 0h0m30 2h0m290-13h0m-201 26h0m-90-1h0m-10 8h0m-10-16h0m-15-2h0m-7 14h0m-4-7h0m-297 17h0m-59-21h0m-4 0h0m-3 0h0m-21-2h0m-47 2h0m0-3h0m-5 20h0m-5-1h0m-3 24h0m1-7h0m1-10h0m145 4h0m224 13h0m0 1h0m86-19h0m4 1h0m21 2h0m28 18h0m574-13h0m-142 38h0m-566-14h0m0 10h0m-2 5h0m-4 0h0m-87-1h0m-1-8h0m0 5h0m-18 3h0m-28-9h0m-39-1h0m-198 13h0m3 4h0m4 0h0m0 3h0m1 3h0m1-8h0m4 18h0m246-5h0m20-11h0m14-3h0m1 11h0m3 8h0m2-16h0m2 9h0m3 6h0m284 24h0m-277-13h0m0-7h0m0 23h0m-2-14h0m-2-10h0m-2 9h0m-3-8h0m-10 3h0m-51 7h0m-225-1h0m-5-1h0m9 30h0m238-12h0m52 20h0m3-2h0m11-10h0m224 5h0m6-1h0m16 5h0m34-11h0m7 15h0m19-6h0m-3 26h0m-23-14h0m-26 16h0m-23-3h0m-3-6h0m-2-6h0m-12-5h0m-48 12h0m-1 4h0m-4-3h0m-1 5h0m-20-9h0m-2-3h0m-4-4h0m-3 5h0m-2-3h0m-2-3h0m-2 3h0m-3 3h0m-7 1h0m-4-10h0m-8 9h0m-2 0h0m-1 2h0m0-3h0m-6 7h0m-3-5h0m0 8h0m-1-3h0m-113 6h0m-217-5h0m-40-8h0m-2-4h0m29 30h0m3-5h0m225 12h0m2 1h0m1-17h0m4 22h0m162-8h0m12 3h0m11-3h0m71-5h0m38 11h0m24-13h0m6 13h0m8-7h0m4-3h0m-10 31h0m-9-16h0m-47 6h0m-28-3h0m-9-3h0m-42 11h0m-8 9h0m-16-1h0m-3-18h0m-9 5h0m-9-4h0m-161 16h0m-136 10h0m139-5h0m156 1h0m30 0h0m11 9h0m1 7h0m8 4h0m39-1h0m5-21h0m7 16h0m16 5h0m11-6h0m63-9h0m11 9h0m4-9h0m-22 26h0m-32-6h0m-1 5h0m-54 0h0m-32 1h0m-5-2h0m0 1h0m-5 0h0m-2 2h0m-224-4h0m-75-4h0m423 42h0m10-9h0m24 0h0m-63 23h0"/>
<path id="rd1" d="M1062 307h0m26 4h0m24 8h0m-12 2h0m-38-8h0m-9 20h0m-4-10h0m-3 10h0m-29-5h0m-1-1h0m-37 28h0m5-7h0m6-4h0m8 7h0m21-14h0m2 13h0m2 5h0m1 0h0m0-6h0m20-9h0m20-1h0m36 7h0m151 6h0m56 10h0m-8 3h0m-14 1h0m-57 0h0m-36 7h0m-71 7h0m-59-16h0m-47 1h0m-53 2h0m-12 16h0m4 4h0m13 0h0m12 5h0m5 3h0m1 3h0m2 1h0m1-6h0m0 0h0m4-8h0m7 11h0m61 3h0m141 2h0m-161 13h0m-15 11h0m-15 13h0m6-4h0m402 3h0m69 14h0m-138 24h0m-56-8h0m-15 2h0m-8-6h0m-9 14h0m-38 9h0m10 4h0m28 10h0m14-10h0m4-5h0m9 3h0m35 13h0m6-21h0m6 10h0m15 5h0m9 6h0m10-2h0m23-14h0m12 0h0m69 29h0m-16-9h0m-39 9h0m-40-8h0m-37 16h0m-6 4h0m-5-6h0m-12-12h0m-34 17h0m-24-19h0m33 24h0m13 3h0m6 6h0m83-2h0m27-8h0m64 16h0m38 3h0m1-7h0m33 34h0m-10-2h0m-1-3h0m-21 23h0m1-9h0m1 3h0m0-3h0m0-1h0m1 5h0m0-3h0m2 0h0m2-9h0m1 20h0m2-13h0m6-4h0m16 4h0m1-1h0m10 8h0m61-12h0m4 5h0m126 39h0m-6-1h0m0 0h0m-4-13h0m-62 4h0m-7-4h0m-17-7h0m-7 17h0m0-16h0m-54 22h0m-18-11h0m0-2h0m-2 5h0m0 5h0m-16-10h0m62 23h0m23 14h0m6-10h0m10-9h0m5 8h0m9 0h0m70-12h0m10 1h0m2 4h0m1-4h0m3 1h0m62 42h0m-157-4h0m-35-5h0m-9-4h0m-4 3h0m-4-5h0m-11 4h0m-93 12h0m-2 1h0m-13 9h0m2-1h0m2-4h0m1 17h0m4-1h0m1-6h0m0-11h0m0 3h0m1 2h0m1-3h0m1 9h0m1-10h0m0 15h0m2-1h0m1-8h0m0-5h0m3 13h0m2 5h0m19-17h0m6 10h0m251 90h0m-978 27h0m31 64h0m673 139h0m-415 61h0m822 4h0m-1202 27h0m-136 8h0m363 63h0m849 75h0m-48 3h0m190 96h0m-328 14h0m12 0h0m114 19h0m-968 37h0m434-11h0m5-1h0m3 3h0m1 3h0m11 7h0m161-1h0m-176 3h0m-710 103h0m77 34h0m-62 21h0m-1 50h0m-5-10h0m876 65h0m-698 46h0m-46 10h0m34 12h0m199 5h0m-429 83h0m3-1h0m4-6h0m1 6h0m1 3h0m3-1h0m0 1h0m9-4h0m1-4h0m7 8h0m11 4h0m0 0h0m1 4h0m4-1h0m1-3h0m1 1h0m7 3h0m12-7h0m366 6h0m15-1h0m3 14h0m-2-6h0m-6 6h0m-4 4h0m-7-13h0m-2 15h0m-8-4h0m-6-6h0m-1-4h0m-1 20h0m-317 0h0m-21-13h0m-15-6h0m-5-2h0m-9 4h0m-10-5h0m-51 1h0m-1 7h0m-6 0h0m-3 9h0m-6 1h0m-3 4h0m-1 4h0m6 14h0m4-7h0m146 4h0m9 0h0m5 3h0m202 3h0m96 0h0m42-8h0m54-1h0m456 11h0m-354 19h0m-28-3h0m-357 8h0m-1 0h0m-39-2h0m-242-2h0m-2-16h0m13 33h0m1 11h0m96 0h0m172-11h0m1 1h0m5-2h0m3-8h0m1 3h0m10 14h0m6 6h0m15 4h0m-5 13h0m-1-1h0m-1-14h0m-3 10h0m-1-1h0m-5 0h0m-1 1h0m0-2h0m-195 1h0m-88 6h0m-9-8h0m0-3h0m13 30h0m5-2h0m56-5h0m171-4h0m57 0h0m3-1h0m50 23h0m175-3h0m22-5h0m45-12h0m8 4h0m3-6h0m10 0h0m-2 30h0m-20 5h0m-9 0h0m-10-6h0m-57 10h0m-38-5h0m-4 3h0m0 2h0m-7 1h0m-22-7h0m-9-6h0m-3-3h0m-4 12h0m-2-10h0m-3 7h0m-2 0h0m-5 0h0m-1 5h0m-7-7h0m-3 4h0m-1 7h0m-4-6h0m-1 2h0m-4 1h0m-22-7h0m-2 15h0m-89-4h0m-1 0h0m-1-1h0m-249-6h0m-5-5h0m254 20h0m2 15h0m0-19h0m1 5h0m2 15h0m0 3h0m2-17h0m8 18h0m0-3h0m145-5h0m8 6h0m11-16h0m63 13h0m13-9h0m18 8h0m32-11h0m30 0h0m8 14h0m-19 23h0m-36-18h0m-22 15h0m-8 1h0m-8-8h0m-23-7h0m-16 6h0m-20 14h0m-4-8h0m-6 0h0m-8-4h0m-5 1h0m-9 1h0m-5-5h0m-149-1h0m-6 13h0m-143 7h0m8 5h0m5-2h0m5 7h0m107 2h0m1 4h0m4-14h0m1 17h0m3-8h0m0 7h0m5-21h0m0 11h0m188 2h0m21-1h0m8-10h0m52 4h0m17 3h0m13 6h0m12-9h0m0 14h0m9 0h0m88 23h0m-3 3h0m-2-12h0m-20-4h0m-10 4h0m-24-9h0m-28 2h0m-30 6h0m-21 10h0m-3-15h0m-1 10h0m-39-13h0m-8 7h0m-1 0h0m-231-5h0m-1 1h0m-1-2h0m319 34h0m12 5h0m68-6h0m20-9h0m3 2h0"/>
<path id="rd2" d="M1161 326h0m-21-3h0m-67 0h0m-9 7h0m-12-9h0m-2 6h0m-1-2h0m-34 0h0m-11-8h0m-9 40h0m29-2h0m47-17h0m21 21h0m40-6h0m147 2h0m-89 7h0m-121 1h0m-9 17h0m-15-7h0m-25-13h0m0 4h0m-19 4h0m-50 13h0m3 6h0m6 8h0m2 3h0m4-5h0m5 1h0m13-1h0m1 4h0m0-2h0m8-2h0m2-3h0m43 10h0m5-13h0m89-3h0m77 14h0m4-11h0m9 1h0m186-3h0m14 30h0m-241 4h0m-48-9h0m-28 12h0m-103-7h0m289 22h0m195 15h0m-142 27h0m-60-1h0m-8-17h0m-611 5h0m567 14h0m17 23h0m23-18h0m10 15h0m71-13h0m34-6h0m24 13h0m23 10h0m61 23h0m-24-22h0m-23 4h0m-12 16h0m-2-13h0m-43 11h0m-29-10h0m-20-8h0m-58 1h0m-8 16h0m-4-3h0m-10 0h0m-635 25h0m686-13h0m27 2h0m14 8h0m4-9h0m4 16h0m5-7h0m0 9h0m21-22h0m62 24h0m42-6h0m27-13h0m128 39h0m-13-10h0m-81 13h0m-13-4h0m-13 24h0m4-1h0m1-8h0m33-10h0m3 14h0m10 7h0m11 2h0m13-1h0m15-20h0m5 6h0m15 6h0m5-11h0m3 19h0m103 9h0m-1 5h0m-1-4h0m-94 15h0m-6-14h0m-5 2h0m-4 9h0m-19-4h0m-10-3h0m-18 2h0m-12-10h0m-419 6h0m416 16h0m7 7h0m17-4h0m63 2h0m23-3h0m80 0h0m1 9h0m0-8h0m2 3h0m2 7h0m-106 19h0m-1-7h0m-4 15h0m-1-5h0m-22-8h0m-131 17h0m-12 14h0m8 2h0m1-11h0m3 15h0m2 4h0m2-5h0m0 1h0m0-8h0m1 11h0m0-19h0m3 0h0m1-1h0m1 17h0m1-3h0m2-6h0m0 6h0m2-5h0m1 8h0m8 1h0m9-1h0m1-12h0m3 1h0m1-2h0m-21 18h0m269 82h0m-707 27h0m-448 9h0m1193 22h0m-650 5h0m595 52h0m-142 27h0m-1289 57h0m82 0h0m412 80h0m1093 2h0m-636 52h0m203 19h0m-530 50h0m-244 81h0m-176 55h0m660-11h0m504 3h0m241 36h0m-1-2h0m-738 72h0m1 2h0m7-10h0m3 4h0m3-8h0m1 11h0m1-4h0m0 13h0m-16-5h0m-491 78h0m-201 19h0m287 38h0m-286 47h0m222 20h0m-185-4h0m-48-3h0m112 31h0m432 12h0m101-10h0m635 22h0m-25 43h0m-1148 2h0m124 23h0m-306 109h0m11 2h0m6-7h0m0-9h0m3 3h0m0 8h0m4-2h0m4 0h0m1-6h0m5 0h0m2 4h0m3 5h0m3 0h0m0-2h0m8 2h0m6 3h0m2 2h0m1-7h0m5 5h0m392-4h0m305-8h0m-208 25h0m-86 13h0m-3-9h0m-4-9h0m-11 6h0m-8-5h0m-4 17h0m-357-16h0m-74-5h0m-6 3h0m-8 11h0m-5 2h0m-1-4h0m0 24h0m367 9h0m87-12h0m13-3h0m2-8h0m90 21h0m-75 11h0m-111 3h0m-1-9h0m-92 21h0m-2-1h0m-1-6h0m-1 1h0m-1-11h0m-1 14h0m-3-12h0m-1 15h0m-32-2h0m-7-10h0m-231-7h0m-7 6h0m4 16h0m5 3h0m0 0h0m203-1h0m66-1h0m1 1h0m4-1h0m7 5h0m7 15h0m1-13h0m1 4h0m0 5h0m4-12h0m4 13h0m18 25h0m-2-3h0m-4-2h0m0-1h0m-1 4h0m-1-1h0m-8 1h0m-4-4h0m-3-12h0m-6-3h0m-57 2h0m-1 1h0m-133 10h0m-78 11h0m-8-15h0m-1-7h0m8 26h0m2 1h0m1 12h0m3-15h0m5 21h0m1-2h0m1-1h0m4 2h0m268-11h0m0-8h0m7-1h0m1 18h0m7-13h0m237 16h0m33-4h0m288 6h0m-307 10h0m-5 13h0m-57-1h0m-10-1h0m-13-5h0m0 0h0m-1 2h0m-1-13h0m-4 14h0m-1-2h0m-31-6h0m-2-8h0m-8 1h0m0-2h0m-2 5h0m-2 2h0m-8-4h0m-9 6h0m-10 9h0m-23 0h0m-9-21h0m-12 13h0m-299 20h0m232-8h0m3 23h0m1-16h0m0 4h0m3 1h0m2-8h0m138 8h0m7-1h0m5-8h0m10 4h0m15 12h0m19-2h0m8-11h0m82 6h0m46-3h0m0 6h0m1-8h0m2 1h0m-43 36h0m-9-7h0m-24-12h0m-4 4h0m-53 9h0m-209 6h0m-3-17h0m-6 18h0m-101 20h0m25 4h0m70-19h0m6 10h0m3-5h0m177 2h0m48 5h0m16-7h0m38 14h0m25 1h0m42-3h0m31 0h0m118-14h0m-89 39h0m-1 1h0m-1-11h0m-3 10h0m0-3h0m-43-5h0m-23-7h0m-11 13h0m-7-9h0m-34-4h0m-72-3h0m-231-2h0m-63 5h0m374 18h0m6 19h0m13-11h0m8 15h0m31-16h0m45-4h0m-23 24h0m-48-1h0m-1 5h0"/>
</defs>
<use href="#rd0" stroke-width="8.33"/>
<use href="#rd1" stroke-width="8.33"/>
<use href="#rd2" stroke-width="8.33"/>
<use href="#rd0" stroke-width="4.17"/>
<use href="#rd1" stroke-width="4.17"/>
<use href="#rd2" stroke-width="4.17"/>
</g>
<g stroke="#000" stroke-width="3.33" fill="none">
<rect x="165.6" y="92.4" width="2227.9" height="2241.1"/>
<path d="M448.5 2333.5v14.6M165.6 2049.6h-14.6M734.17 2333.5v14.6M165.6 1762.27h-14.6M1019.84 2333.5v14.6M165.6 1474.94h-14.6M1305.51 2333.5v14.6M165.6 1187.61h-14.6M1591.18 2333.5v14.6M165.6 900.28h-14.6M1876.85 2333.5v14.6M165.6 612.95h-14.6M2162.52 2333.5v14.6M165.6 325.62h-14.6"/>
</g>
<g stroke="#000" stroke-width="3.33" fill="none">
<rect x="2577.6" y="92.4" width="2227.9" height="2241.1"/>
<path d="M2860.5 2333.5v14.6M2577.6 2049.6h-14.6M3146.17 2333.5v14.6M2577.6 1762.27h-14.6M3431.84 2333.5v14.6M2577.6 1474.94h-14.6M3717.51 2333.5v14.6M2577.6 1187.61h-14.6M4003.18 2333.5v14.6M2577.6 900.28h-14.6M4288.85 2333.5v14.6M2577.6 612.95h-14.6M4574.52 2333.5v14.6M2577.6 325.62h-14.6"/>
</g>
<text transform="translate(0 2394.4) scale(1.055 1)" font-size="44.2" x="374 399.4 424.5 449.7">1000</text>
<text transform="translate(0 2065.9) scale(1.055 1)" font-size="44.2" x="28.2 53.6 78.7 103.8">1000</text>
<text transform="translate(0 2394.4) scale(1.055 1)" font-size="44.2" x="644.5 670.2 695.3 720.4">2000</text>
<text transform="translate(0 1778.57) scale(1.055 1)" font-size="44.2" x="27.9 53.6 78.7 103.8">2000</text>
<text transform="translate(0 2394.4) scale(1.055 1)" font-size="44.2" x="915.9 941 966.1 991.2">3000</text>
<text transform="translate(0 1491.24) scale(1.055 1)" font-size="44.2" x="28.5 53.6 78.7 103.8">3000</text>
<text transform="translate(0 2394.4) scale(1.055 1)" font-size="44.2" x="1186.6 1211.7 1236.9 1262">4000</text>
<text transform="translate(0 1203.91) scale(1.055 1)" font-size="44.2" x="28.5 53.6 78.7 103.8">4000</text>
<text transform="translate(0 2394.4) scale(1.055 1)" font-size="44.2" x="1457.2 1482.5 1507.6 1532.8">5000</text>
<text transform="translate(0 916.58) scale(1.055 1)" font-size="44.2" x="28.3 53.6 78.7 103.8">5000</text>
<text transform="translate(0 2394.4) scale(1.055 1)" font-size="44.2" x="1728.2 1753.3 1778.4 1803.5">6000</text>
<text transform="translate(0 629.25) scale(1.055 1)" font-size="44.2" x="28.4 53.6 78.7 103.8">6000</text>
<text transform="translate(0 2394.4) scale(1.055 1)" font-size="44.2" x="1998.9 2024.1 2049.2 2074.3">7000</text>
<text transform="translate(0 341.92) scale(1.055 1)" font-size="44.2" x="28.4 53.6 78.7 103.8">7000</text>
<text transform="translate(0 2394.4) scale(1.055 1)" font-size="44.2" x="2660.3 2685.7 2710.8 2735.9">1000</text>
<text transform="translate(0 2065.9) scale(1.055 1)" font-size="44.2" x="2314.5 2339.8 2365 2390.1">1000</text>
<text transform="translate(0 2394.4) scale(1.055 1)" font-size="44.2" x="2930.8 2956.4 2981.6 3006.7">2000</text>
<text transform="translate(0 1778.57) scale(1.055 1)" font-size="44.2" x="2314.2 2339.8 2365 2390.1">2000</text>
<text transform="translate(0 2394.4) scale(1.055 1)" font-size="44.2" x="3202.1 3227.2 3252.3 3277.5">3000</text>
<text transform="translate(0 1491.24) scale(1.055 1)" font-size="44.2" x="2314.8 2339.8 2365 2390.1">3000</text>
<text transform="translate(0 2394.4) scale(1.055 1)" font-size="44.2" x="3472.9 3498 3523.1 3548.2">4000</text>
<text transform="translate(0 1203.91) scale(1.055 1)" font-size="44.2" x="2314.7 2339.8 2365 2390.1">4000</text>
<text transform="translate(0 2394.4) scale(1.055 1)" font-size="44.2" x="3743.5 3768.8 3793.9 3819">5000</text>
<text transform="translate(0 916.58) scale(1.055 1)" font-size="44.2" x="2314.6 2339.8 2365 2390.1">5000</text>
<text transform="translate(0 2394.4) scale(1.055 1)" font-size="44.2" x="4014.4 4039.5 4064.7 4089.8">6000</text>
<text transform="translate(0 629.25) scale(1.055 1)" font-size="44.2" x="2314.7 2339.8 2365 2390.1">6000</text>
<text transform="translate(0 2394.4) scale(1.055 1)" font-size="44.2" x="4285.1 4310.3 4335.5 4360.6">7000</text>
<text transform="translate(0 341.92) scale(1.055 1)" font-size="44.2" x="2314.6 2339.8 2365 2390.1">7000</text>
<text transform="translate(0 68.2) scale(1.055 1)" font-size="53" x="410 439.8 470.4 500.7 530.9 561.1 591.2 620.7 651.5 681 708.7 732.3 765.6 794.1 820.6 836 865.8 896.8 939.1 964.8 991.6 1021.5 1034.6 1046.6 1076.2 1111.7 1142 1172.2 1202.3 1232.3 1262.3 1276.4 1296.1 1326.4 1355.8 1386.5 1416.1 1446.6 1460.3 1498 1510.5 1540.9 1568.6 1609.7 1627.2 1654.2 1669.6 1684.7 1714.5 1745 1775.5 1805.3 1819.7 1846.5 1875.1 1911.7 1952.8 1970.3 1999.4">1296400242_CP_ num_cells=74485 (73272 HighQty, 1213 LowQty)</text>
<text transform="translate(0 68.2) scale(1.055 1)" font-size="53" x="3030.2 3060 3090.6 3120.9 3151.1 3181.2 3211.4 3240.9 3271.7 3301.2 3328.9 3352.5 3385.8 3414.3 3440.7 3454.5 3492.2 3504.7 3535 3562.8 3603.8 3621.4 3648.7 3663.5 3693.1 3723.5 3736.7 3764 3778.1 3797.8 3828.1 3857.5 3888.2 3917.9 3950.1">1296400242_CP_ HighQty only (73272)</text>
<rect x="2053.1" y="112.8" width="319.5" height="137.9" rx="8.3" ry="8.3" fill="#fff" fill-opacity=".8" stroke="#ccc" stroke-opacity=".8" stroke-width="4.17"/>
<circle cx="2111.5" cy="152.4" r="4.165" fill="#87ceeb" fill-opacity="0.6"/><circle cx="2111.5" cy="152.4" r="2.085" fill="#87ceeb" fill-opacity="0.6"/>
<circle cx="2111.5" cy="214.7" r="4.165" fill="#cd5c5c" fill-opacity="0.6"/><circle cx="2111.5" cy="214.7" r="2.085" fill="#cd5c5c" fill-opacity="0.6"/>
<text transform="translate(0 163.7) scale(1.055 1)" font-size="44.2" x="2071.6 2103 2113.4 2138.7 2161.8 2196.1 2210.7">HighQty</text>
<text transform="translate(0 226) scale(1.055 1)" font-size="44.2" x="2072.2 2094.5 2118.4 2148.8 2183.1 2197.7">LowQty</text>
</svg></body></html>
